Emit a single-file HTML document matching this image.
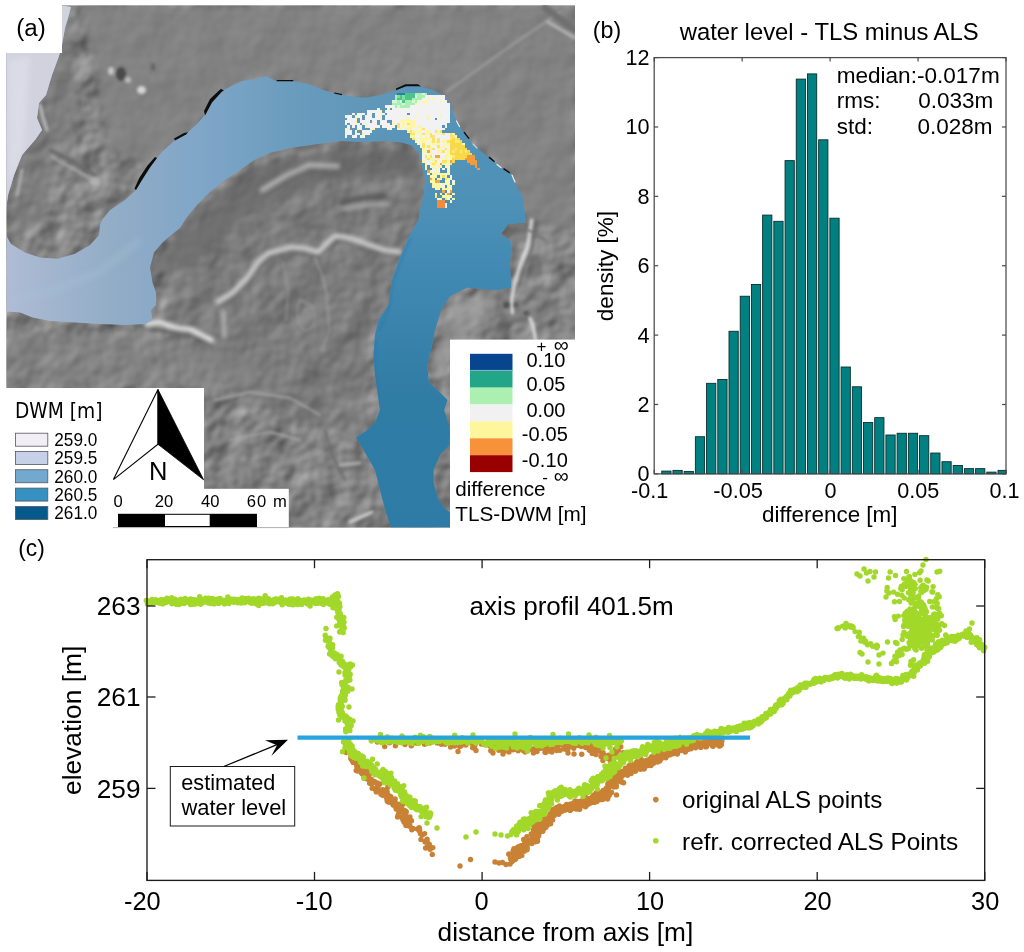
<!DOCTYPE html>
<html lang="en">
<head>
<meta charset="utf-8">
<title>Water level comparison - TLS vs ALS</title>
<style>
html,body{margin:0;padding:0;background:#fff;}
body{width:1024px;height:952px;overflow:hidden;position:relative;font-family:"Liberation Sans",sans-serif;}
svg{position:absolute;left:0;top:0;display:block;}
text{font-family:"Liberation Sans",sans-serif;fill:#000;}
.dv{font-family:"DejaVu Sans Condensed","DejaVu Sans","Liberation Sans",sans-serif;}
</style>
</head>
<body>
<svg width="1024" height="952" viewBox="0 0 1024 952">
<rect x="0" y="0" width="1024" height="952" fill="#ffffff"/>
<g id="panel-a">
<defs>
<clipPath id="mapclip"><rect x="6.5" y="5.5" width="568.5" height="522.0"/></clipPath>
<clipPath id="waterclip"><polygon points="71,7 68,18 65,28 62,45 59,56 52,75 46,95 39,103 37,118 42,130 35,140 22,155 14,175 8,195 6.5,206 6.5,236 11,244 25,252.5 40,257.5 57.5,258.8 75,253.8 90,245 99,235 100,225 102,220 110,210 125,200 136,190 142,180 150,167 162,152 175,140 186,134 197,124 205,115 212,102 222,91 235,84 242,81 256,79 266,76 276,81 293.5,81 308.5,84 321,89 336,94 356,97 366,97.5 381,95 396,90 406,86 418.5,86 431,89.5 442,94.5 448.5,100 452,110 456,120 463.5,132.5 473.5,145 488.5,157.5 501,167.5 512,175 515.5,185 522,195 524,207.5 526,222.5 508,224 504,230 500,235 510,240 511,245 510,265 511,287.5 497.5,290 482.5,289 467.5,287.5 450,296 441,310 435,330 431,350 427,365 429,382.5 442.5,395 447.5,400 444,410 449,425 450,432.5 449.5,445 440,455 433.5,470 433.5,482.5 437.5,497.5 443.5,507.5 450,512.5 450,527.5 391,527.5 386,512.5 380,490 375,470 365,452.5 356,437.5 366,431 375,422.5 380,410 377.5,392.5 375,375 373.5,355 375,335 378.5,320 388.5,305 392,280 400,257.5 408.5,237.5 418.5,220 422,200 424,195 425,180 422,165 418.5,152.5 411,145 401,142.5 386,141 361,142 341,141 318.5,144 293.5,147.5 271,152.5 256,159 240,170 225,180 210,192 197,205 187,217 180,228 172.5,234 162.5,242.5 154,252.5 150,267.5 152.5,282.5 156,292.5 156,305 151,310 152.5,320 145,324 125,325 100,324 75,322.5 50,321 32.5,317.5 20,312.5 0,311 0,236 6.5,236 6.5,206 0,206 0,53 62,53 62,5.5"/></clipPath>
<linearGradient id="gw" gradientUnits="userSpaceOnUse" x1="6.5" y1="0" x2="526" y2="0">
<stop offset="0" stop-color="#afbcd4"/><stop offset="0.103" stop-color="#a0b4cd"/><stop offset="0.218" stop-color="#91acc6"/>
<stop offset="0.372" stop-color="#80a6c8"/><stop offset="0.565" stop-color="#689bbc"/><stop offset="0.757" stop-color="#5c96b9"/>
<stop offset="0.93" stop-color="#5092b7"/><stop offset="1" stop-color="#4e90b6"/>
</linearGradient>
<linearGradient id="gv" gradientUnits="userSpaceOnUse" x1="0" y1="120" x2="0" y2="527.5">
<stop offset="0" stop-color="#5092b7" stop-opacity="0"/><stop offset="0.17" stop-color="#5092b7" stop-opacity="1"/>
<stop offset="0.34" stop-color="#438bb4"/><stop offset="0.515" stop-color="#3983ac"/><stop offset="0.687" stop-color="#2f7ca5"/><stop offset="1" stop-color="#2e7ba5"/>
</linearGradient>
<filter id="hs" x="0" y="0" width="100%" height="100%" color-interpolation-filters="sRGB">
<feTurbulence type="fractalNoise" baseFrequency="0.032" numOctaves="3" seed="11" result="n"/>
<feGaussianBlur in="n" stdDeviation="1.5" result="nb"/>
<feDiffuseLighting in="nb" surfaceScale="2.1" diffuseConstant="1.3" lighting-color="#c8c8c8" result="l"><feDistantLight azimuth="225" elevation="30"/></feDiffuseLighting>
<feColorMatrix in="l" type="matrix" values="0.3333 0.3333 0.3333 0 0  0.3333 0.3333 0.3333 0 0  0.3333 0.3333 0.3333 0 0  0 0 0 1 0"/>
</filter>
<filter id="b2"><feGaussianBlur stdDeviation="1.6"/></filter>
<filter id="b4"><feGaussianBlur stdDeviation="3.5"/></filter>
<filter id="b3"><feGaussianBlur stdDeviation="2.3"/></filter>
<filter id="b1"><feGaussianBlur stdDeviation="0.9"/></filter>
</defs>
<g clip-path="url(#mapclip)">
<rect x="6.5" y="5.5" width="568.5" height="522.0" fill="#828282"/>
<rect x="-10" y="-10" width="610" height="560" filter="url(#hs)" opacity="1"/>
<polygon points="80,5.5 575,5.5 575,230 526,222 512,175 456,120 442,94 406,86 366,97 276,81 256,79 222,91 197,124 150,167 110,150 95,60" fill="#838383" opacity="0.8" filter="url(#b4)"/>
<g fill="none" stroke-linecap="round" stroke-linejoin="round">
<g filter="url(#b4)" stroke="none">
<path d="M156,262 L196,207 L256,166 L340,146 L416,150 L421,172 L330,180 L250,210 L188,270 Z" fill="#646464" opacity="0.7"/><path d="M170,330 L160,260 L260,180 L400,170 L400,260 L370,330 L360,440 L250,400 Z" fill="#737373" opacity="0.45"/>
<path d="M405,160 L424,170 L424,200 L410,235 L400,230 Z" fill="#6a6a6a" opacity="0.5"/>
<path d="M20,60 L70,20 L80,120 L40,220 L12,235 Z" fill="#7a7a7a" opacity="0.5"/>
<path d="M455,300 L500,295 L470,330 L440,380 L432,360 Z" fill="#a4a4a4" opacity="0.6"/>
<path d="M6,330 L150,335 L260,360 L250,385 L6,385 Z" fill="#848484" opacity="0.5"/>
</g>
<g filter="url(#b2)">
</g><g filter="url(#b3)">
<path d="M219.5,305 L234,296 L249,281 L260,265 L270,256.5 L292,250.5 L318,255.5 L329,246 L337,239 L357,243.5 L386,253.5 L401,255.5" stroke="#5c5c5c" stroke-width="4.5" opacity="0.75"/>
<path d="M217.6,302 L232,293 L247,278 L258,262 L268,253 L291,247 L305,248 L318,252 L327,243 L335,235.6 L345,237 L356,240 L370,245 L385,250 L400,252" stroke="#d2d2d2" stroke-width="4.6"/>
<path d="M148,329 L170,331 L190,334 L212,345" stroke="#555555" stroke-width="4" opacity="0.7"/>
<path d="M146,324 L160,322 L170,326 L179,328 L190,329 L200,334 L212,340" stroke="#f0f0f0" stroke-width="4.2"/>
<path d="M223.5,312 L224,336" stroke="#c4c4c4" stroke-width="4" opacity="0.8"/>
<path d="M262,190 L285,176 L309,165 L338,166" stroke="#b6b6b6" stroke-width="4.5"/>
<path d="M264,196 L287,182 L310,171 L338,172" stroke="#646464" stroke-width="3.5" opacity="0.7"/>
<path d="M341,203 L362,198 L385,196" stroke="#585858" stroke-width="4.5"/>
<path d="M343,209 L365,205 L388,204" stroke="#b4b4b4" stroke-width="3"/>
</g><g filter="url(#b2)">
<path d="M314.7,257.6 L322,275 L326.5,293 L329.4,331 L322,350" stroke="#9c9c9c" stroke-width="1.8" opacity="0.8"/>
<path d="M283,262 L288,290 L286,320" stroke="#969696" stroke-width="1.6" opacity="0.8"/>
<path d="M300,300 C296,310 296,322 304,330 C314,332 318,318 312,306 Z" stroke="#9a9a9a" stroke-width="1.5" opacity="0.8"/>
<path d="M531.6,220 L527.6,246.5 L519.7,266.5 L514.4,283.7 L511.7,299.7 L512.4,313" stroke="#e0e0e0" stroke-width="3"/>
<path d="M530,318 L533,326 L535.6,340" stroke="#e0e0e0" stroke-width="3"/>
<path d="M536,222 L532,248 L524,268 L519,285" stroke="#666666" stroke-width="2.5" opacity="0.8"/>
<path d="M50,150 L70,160 L95,175" stroke="#6a6a6a" stroke-width="3.2"/>
<path d="M52,157 L70,167 L98,183" stroke="#a8a8a8" stroke-width="2.5"/>
<path d="M40,105 L43,118 L47,130" stroke="#bdbdbd" stroke-width="3"/>
<path d="M22,170 L17,195" stroke="#b0b0b0" stroke-width="3"/>
<path d="M446,92 L512,45 L560,12" stroke="#a0a0a0" stroke-width="2"/>
<path d="M449,96 L515,49" stroke="#808080" stroke-width="1.8"/>
<path d="M545,8 L575,30" stroke="#6f6f6f" stroke-width="7"/>
<path d="M548,22 L575,38" stroke="#b8b8b8" stroke-width="3"/>
<path d="M325,430 L332,455 L345,480" stroke="#6c6c6c" stroke-width="2.4"/>
<path d="M350,522 L372,512" stroke="#d5d5d5" stroke-width="3"/>
<path d="M340,465 L360,463" stroke="#b8b8b8" stroke-width="2.4"/>
<path d="M500,205 L520,225 L545,240" stroke="#767676" stroke-width="3"/>
<path d="M215,400 L250,392 L290,398 L320,415" stroke="#a8a8a8" stroke-width="2"/>
<path d="M230,440 L270,432 L300,440" stroke="#a5a5a5" stroke-width="2"/>
</g>
<g filter="url(#b2)" stroke="none">
<ellipse cx="121" cy="74" rx="5" ry="7" fill="#4a4a4a"/><ellipse cx="111" cy="71" rx="3" ry="4" fill="#c8c8c8"/>
<ellipse cx="141.5" cy="90" rx="4.5" ry="4" fill="#d6d6d6"/><ellipse cx="128" cy="80" rx="3" ry="3" fill="#bdbdbd"/>
<ellipse cx="153" cy="67" rx="2.5" ry="4" fill="#666"/><ellipse cx="506.4" cy="305" rx="3.5" ry="3.5" fill="#505050"/><ellipse cx="516" cy="305" rx="2.5" ry="3" fill="#5a5a5a"/><ellipse cx="526.3" cy="313" rx="3" ry="2.5" fill="#555"/><ellipse cx="503.7" cy="232" rx="3" ry="3" fill="#5c5c5c"/>
<ellipse cx="95" cy="182" rx="5" ry="4" fill="#b0b0b0"/>
</g></g>
<g clip-path="url(#waterclip)">
<rect x="0" y="0" width="600" height="540" fill="url(#gw)"/>
<rect x="345" y="120" width="230" height="410" fill="url(#gv)"/>
<rect x="0" y="0" width="80" height="215" fill="#d2d2de"/>
<path d="M8,60 L30,56 L24,150 L9,190 Z" fill="#dedeea" opacity="0.8" filter="url(#b4)"/>
<path d="M7,300 L50,292 L100,272 L140,240" stroke="#a9c3dc" stroke-width="5" fill="none" opacity="0.5" filter="url(#b4)"/>
<path d="M380,330 L388,310 L393,282 L402,258 L411,238" stroke="#2d78a8" stroke-width="1.6" fill="none" opacity="0.6" filter="url(#b1)"/>
<path d="M376,340 L375,375 L379,410" stroke="#2a75a6" stroke-width="1.6" fill="none" opacity="0.6" filter="url(#b1)"/>
</g>
<g fill="#0d0d0d" stroke="none">
<polygon points="205,115.5 212,102.5 222,91.5 224,90.8 221,88.8 210,99 204,111"/>
<polygon points="175,140.5 186,134.5 188,132.3 184,133 174,138.6"/>
<polygon points="136,190 142,180 150,167.5 157,158 155,157 147.5,165.5 139.5,177.5 134.5,188.5"/>
<polygon points="276.5,81.3 293.5,81.3 293,79.9 277,80"/>
<polygon points="334,93.6 342,95.2 342,94 334.5,92.4"/>
<polygon points="396,90.2 406,86.2 418.5,86.2 421,86.6 418,84.3 405.5,84.2 396,88.4"/>
<polygon points="463.5,132.8 468.5,139 469.6,138.2 464.6,131.8"/>
<polygon points="488.5,157.8 494,162.3 495,161.2 489.5,156.6"/>
<polygon points="503,169.2 509.5,173.6 510.2,172.4 504,168"/>
</g>
<g fill="none" stroke="#eeeeee" stroke-width="1.2" stroke-linecap="round"><path d="M456.5,121 L459.5,126.5"/><path d="M497,164.5 L501,167.5"/><path d="M512,175 L515,182"/><path d="M473,144 L477,148" stroke="#d0d0d0"/></g>
<g fill="#1f86a0" shape-rendering="crispEdges"><rect x="397.0" y="92.5" width="7.5" height="2.5"/></g>
<g fill="#4ec48c" shape-rendering="crispEdges"><rect x="404.5" y="92.5" width="10.0" height="2.5"/><rect x="399.5" y="95.0" width="2.5" height="2.5"/><rect x="404.5" y="95.0" width="10.0" height="2.5"/><rect x="397.0" y="97.5" width="5.0" height="2.5"/><rect x="404.5" y="97.5" width="7.5" height="2.5"/><rect x="402.0" y="100.0" width="2.5" height="2.5"/></g>
<g fill="#a8efb2" shape-rendering="crispEdges"><rect x="414.5" y="92.5" width="7.5" height="2.5"/><rect x="424.5" y="92.5" width="2.5" height="2.5"/><rect x="394.5" y="95.0" width="2.5" height="2.5"/><rect x="417.0" y="95.0" width="7.5" height="2.5"/><rect x="394.5" y="97.5" width="2.5" height="2.5"/><rect x="412.0" y="97.5" width="10.0" height="2.5"/><rect x="397.0" y="100.0" width="2.5" height="2.5"/><rect x="404.5" y="100.0" width="7.5" height="2.5"/><rect x="414.5" y="100.0" width="2.5" height="2.5"/><rect x="392.0" y="102.5" width="10.0" height="2.5"/><rect x="404.5" y="102.5" width="10.0" height="2.5"/><rect x="394.5" y="105.0" width="2.5" height="2.5"/><rect x="399.5" y="105.0" width="10.0" height="2.5"/></g>
<g fill="#d6f6d8" shape-rendering="crispEdges"><rect x="422.0" y="92.5" width="2.5" height="2.5"/><rect x="414.5" y="95.0" width="2.5" height="2.5"/><rect x="392.0" y="100.0" width="5.0" height="2.5"/><rect x="399.5" y="100.0" width="2.5" height="2.5"/><rect x="412.0" y="100.0" width="2.5" height="2.5"/><rect x="402.0" y="102.5" width="2.5" height="2.5"/><rect x="397.0" y="105.0" width="2.5" height="2.5"/></g>
<g fill="#7fdc9c" shape-rendering="crispEdges"><rect x="397.0" y="95.0" width="2.5" height="2.5"/><rect x="402.0" y="95.0" width="2.5" height="2.5"/><rect x="402.0" y="97.5" width="2.5" height="2.5"/></g>
<g fill="#f2f2f2" shape-rendering="crispEdges"><rect x="424.5" y="95.0" width="20.0" height="2.5"/><rect x="422.0" y="97.5" width="5.0" height="2.5"/><rect x="429.5" y="97.5" width="2.5" height="2.5"/><rect x="434.5" y="97.5" width="10.0" height="2.5"/><rect x="417.0" y="100.0" width="5.0" height="2.5"/><rect x="427.0" y="100.0" width="12.5" height="2.5"/><rect x="442.0" y="100.0" width="5.0" height="2.5"/><rect x="417.0" y="102.5" width="32.5" height="2.5"/><rect x="384.5" y="105.0" width="10.0" height="2.5"/><rect x="409.5" y="105.0" width="40.0" height="2.5"/><rect x="377.0" y="107.5" width="2.5" height="2.5"/><rect x="392.0" y="107.5" width="57.5" height="2.5"/><rect x="367.0" y="110.0" width="12.5" height="2.5"/><rect x="384.5" y="110.0" width="65.0" height="2.5"/><rect x="352.0" y="112.5" width="2.5" height="2.5"/><rect x="357.0" y="112.5" width="7.5" height="2.5"/><rect x="367.0" y="112.5" width="5.0" height="2.5"/><rect x="374.5" y="112.5" width="10.0" height="2.5"/><rect x="387.0" y="112.5" width="20.0" height="2.5"/><rect x="409.5" y="112.5" width="40.0" height="2.5"/><rect x="344.5" y="115.0" width="7.5" height="2.5"/><rect x="357.0" y="115.0" width="5.0" height="2.5"/><rect x="364.5" y="115.0" width="7.5" height="2.5"/><rect x="374.5" y="115.0" width="5.0" height="2.5"/><rect x="384.5" y="115.0" width="30.0" height="2.5"/><rect x="417.0" y="115.0" width="10.0" height="2.5"/><rect x="429.5" y="115.0" width="10.0" height="2.5"/><rect x="442.0" y="115.0" width="7.5" height="2.5"/><rect x="347.0" y="117.5" width="10.0" height="2.5"/><rect x="359.5" y="117.5" width="2.5" height="2.5"/><rect x="364.5" y="117.5" width="17.5" height="2.5"/><rect x="384.5" y="117.5" width="20.0" height="2.5"/><rect x="409.5" y="117.5" width="17.5" height="2.5"/><rect x="429.5" y="117.5" width="5.0" height="2.5"/><rect x="437.0" y="117.5" width="12.5" height="2.5"/><rect x="344.5" y="120.0" width="10.0" height="2.5"/><rect x="359.5" y="120.0" width="10.0" height="2.5"/><rect x="372.0" y="120.0" width="5.0" height="2.5"/><rect x="379.5" y="120.0" width="7.5" height="2.5"/><rect x="392.0" y="120.0" width="7.5" height="2.5"/><rect x="414.5" y="120.0" width="35.0" height="2.5"/><rect x="344.5" y="122.5" width="2.5" height="2.5"/><rect x="349.5" y="122.5" width="10.0" height="2.5"/><rect x="362.0" y="122.5" width="2.5" height="2.5"/><rect x="367.0" y="122.5" width="10.0" height="2.5"/><rect x="379.5" y="122.5" width="10.0" height="2.5"/><rect x="394.5" y="122.5" width="2.5" height="2.5"/><rect x="399.5" y="122.5" width="2.5" height="2.5"/><rect x="404.5" y="122.5" width="2.5" height="2.5"/><rect x="414.5" y="122.5" width="32.5" height="2.5"/><rect x="347.0" y="125.0" width="2.5" height="2.5"/><rect x="352.0" y="125.0" width="2.5" height="2.5"/><rect x="357.0" y="125.0" width="5.0" height="2.5"/><rect x="364.5" y="125.0" width="15.0" height="2.5"/><rect x="382.0" y="125.0" width="12.5" height="2.5"/><rect x="399.5" y="125.0" width="2.5" height="2.5"/><rect x="404.5" y="125.0" width="2.5" height="2.5"/><rect x="414.5" y="125.0" width="2.5" height="2.5"/><rect x="422.0" y="125.0" width="20.0" height="2.5"/><rect x="444.5" y="125.0" width="2.5" height="2.5"/><rect x="344.5" y="127.5" width="2.5" height="2.5"/><rect x="359.5" y="127.5" width="2.5" height="2.5"/><rect x="369.5" y="127.5" width="2.5" height="2.5"/><rect x="389.5" y="127.5" width="2.5" height="2.5"/><rect x="402.0" y="127.5" width="2.5" height="2.5"/><rect x="412.0" y="127.5" width="7.5" height="2.5"/><rect x="424.5" y="127.5" width="20.0" height="2.5"/><rect x="344.5" y="130.0" width="7.5" height="2.5"/><rect x="362.0" y="130.0" width="10.0" height="2.5"/><rect x="422.0" y="130.0" width="2.5" height="2.5"/><rect x="429.5" y="130.0" width="5.0" height="2.5"/><rect x="344.5" y="132.5" width="7.5" height="2.5"/><rect x="354.5" y="132.5" width="5.0" height="2.5"/><rect x="364.5" y="132.5" width="5.0" height="2.5"/><rect x="414.5" y="132.5" width="2.5" height="2.5"/><rect x="419.5" y="132.5" width="2.5" height="2.5"/><rect x="432.0" y="132.5" width="5.0" height="2.5"/><rect x="439.5" y="132.5" width="2.5" height="2.5"/><rect x="444.5" y="132.5" width="5.0" height="2.5"/><rect x="344.5" y="135.0" width="2.5" height="2.5"/><rect x="352.0" y="135.0" width="5.0" height="2.5"/><rect x="359.5" y="135.0" width="5.0" height="2.5"/><rect x="414.5" y="135.0" width="5.0" height="2.5"/><rect x="422.0" y="135.0" width="2.5" height="2.5"/><rect x="427.0" y="135.0" width="2.5" height="2.5"/><rect x="434.5" y="135.0" width="15.0" height="2.5"/><rect x="417.0" y="137.5" width="2.5" height="2.5"/><rect x="429.5" y="137.5" width="2.5" height="2.5"/><rect x="434.5" y="137.5" width="2.5" height="2.5"/><rect x="439.5" y="137.5" width="10.0" height="2.5"/><rect x="417.0" y="140.0" width="2.5" height="2.5"/><rect x="427.0" y="140.0" width="2.5" height="2.5"/><rect x="439.5" y="140.0" width="2.5" height="2.5"/><rect x="419.5" y="142.5" width="2.5" height="2.5"/><rect x="424.5" y="142.5" width="7.5" height="2.5"/><rect x="439.5" y="142.5" width="5.0" height="2.5"/><rect x="419.5" y="145.0" width="2.5" height="2.5"/><rect x="432.0" y="145.0" width="5.0" height="2.5"/><rect x="439.5" y="145.0" width="2.5" height="2.5"/><rect x="444.5" y="145.0" width="5.0" height="2.5"/><rect x="424.5" y="147.5" width="2.5" height="2.5"/><rect x="434.5" y="147.5" width="2.5" height="2.5"/><rect x="442.0" y="147.5" width="2.5" height="2.5"/><rect x="447.0" y="147.5" width="2.5" height="2.5"/><rect x="432.0" y="150.0" width="5.0" height="2.5"/><rect x="444.5" y="150.0" width="2.5" height="2.5"/><rect x="422.0" y="152.5" width="7.5" height="2.5"/><rect x="432.0" y="152.5" width="12.5" height="2.5"/><rect x="422.0" y="155.0" width="2.5" height="2.5"/><rect x="432.0" y="155.0" width="2.5" height="2.5"/><rect x="439.5" y="155.0" width="5.0" height="2.5"/><rect x="422.0" y="157.5" width="2.5" height="2.5"/><rect x="434.5" y="157.5" width="2.5" height="2.5"/><rect x="439.5" y="157.5" width="2.5" height="2.5"/><rect x="447.0" y="157.5" width="2.5" height="2.5"/><rect x="424.5" y="160.0" width="7.5" height="2.5"/><rect x="437.0" y="160.0" width="5.0" height="2.5"/><rect x="427.0" y="162.5" width="2.5" height="2.5"/><rect x="437.0" y="162.5" width="2.5" height="2.5"/><rect x="429.5" y="165.0" width="2.5" height="2.5"/><rect x="434.5" y="165.0" width="2.5" height="2.5"/><rect x="447.0" y="165.0" width="2.5" height="2.5"/><rect x="432.0" y="167.5" width="2.5" height="2.5"/><rect x="437.0" y="167.5" width="2.5" height="2.5"/><rect x="442.0" y="167.5" width="2.5" height="2.5"/><rect x="432.0" y="170.0" width="2.5" height="2.5"/><rect x="437.0" y="170.0" width="2.5" height="2.5"/><rect x="444.5" y="172.5" width="2.5" height="2.5"/><rect x="449.5" y="175.0" width="2.5" height="2.5"/><rect x="447.0" y="180.0" width="2.5" height="2.5"/><rect x="452.0" y="180.0" width="2.5" height="2.5"/><rect x="439.5" y="182.5" width="2.5" height="2.5"/><rect x="442.0" y="185.0" width="2.5" height="2.5"/><rect x="447.0" y="190.0" width="2.5" height="2.5"/><rect x="437.0" y="197.5" width="2.5" height="2.5"/><rect x="447.0" y="197.5" width="2.5" height="2.5"/><rect x="444.5" y="202.5" width="2.5" height="2.5"/><rect x="444.5" y="205.0" width="2.5" height="2.5"/></g>
<g fill="#fdf6a4" shape-rendering="crispEdges"><rect x="427.0" y="97.5" width="2.5" height="2.5"/><rect x="432.0" y="97.5" width="2.5" height="2.5"/><rect x="422.0" y="100.0" width="5.0" height="2.5"/><rect x="439.5" y="100.0" width="2.5" height="2.5"/><rect x="414.5" y="102.5" width="2.5" height="2.5"/><rect x="387.0" y="107.5" width="2.5" height="2.5"/><rect x="379.5" y="110.0" width="2.5" height="2.5"/><rect x="354.5" y="115.0" width="2.5" height="2.5"/><rect x="379.5" y="115.0" width="2.5" height="2.5"/><rect x="414.5" y="115.0" width="2.5" height="2.5"/><rect x="427.0" y="115.0" width="2.5" height="2.5"/><rect x="439.5" y="115.0" width="2.5" height="2.5"/><rect x="404.5" y="117.5" width="5.0" height="2.5"/><rect x="427.0" y="117.5" width="2.5" height="2.5"/><rect x="354.5" y="120.0" width="2.5" height="2.5"/><rect x="399.5" y="120.0" width="15.0" height="2.5"/><rect x="364.5" y="122.5" width="2.5" height="2.5"/><rect x="392.0" y="122.5" width="2.5" height="2.5"/><rect x="402.0" y="122.5" width="2.5" height="2.5"/><rect x="409.5" y="122.5" width="5.0" height="2.5"/><rect x="402.0" y="125.0" width="2.5" height="2.5"/><rect x="407.0" y="125.0" width="7.5" height="2.5"/><rect x="417.0" y="125.0" width="5.0" height="2.5"/><rect x="347.0" y="127.5" width="2.5" height="2.5"/><rect x="357.0" y="127.5" width="2.5" height="2.5"/><rect x="372.0" y="127.5" width="2.5" height="2.5"/><rect x="387.0" y="127.5" width="2.5" height="2.5"/><rect x="397.0" y="127.5" width="5.0" height="2.5"/><rect x="404.5" y="127.5" width="7.5" height="2.5"/><rect x="419.5" y="127.5" width="2.5" height="2.5"/><rect x="354.5" y="130.0" width="2.5" height="2.5"/><rect x="407.0" y="130.0" width="2.5" height="2.5"/><rect x="412.0" y="130.0" width="10.0" height="2.5"/><rect x="424.5" y="130.0" width="5.0" height="2.5"/><rect x="437.0" y="130.0" width="2.5" height="2.5"/><rect x="362.0" y="132.5" width="2.5" height="2.5"/><rect x="417.0" y="132.5" width="2.5" height="2.5"/><rect x="424.5" y="132.5" width="5.0" height="2.5"/><rect x="437.0" y="132.5" width="2.5" height="2.5"/><rect x="452.0" y="132.5" width="2.5" height="2.5"/><rect x="409.5" y="135.0" width="5.0" height="2.5"/><rect x="419.5" y="135.0" width="2.5" height="2.5"/><rect x="424.5" y="135.0" width="2.5" height="2.5"/><rect x="454.5" y="135.0" width="2.5" height="2.5"/><rect x="414.5" y="137.5" width="2.5" height="2.5"/><rect x="419.5" y="137.5" width="10.0" height="2.5"/><rect x="414.5" y="140.0" width="2.5" height="2.5"/><rect x="419.5" y="140.0" width="7.5" height="2.5"/><rect x="429.5" y="140.0" width="2.5" height="2.5"/><rect x="434.5" y="140.0" width="2.5" height="2.5"/><rect x="442.0" y="140.0" width="5.0" height="2.5"/><rect x="417.0" y="142.5" width="2.5" height="2.5"/><rect x="432.0" y="142.5" width="7.5" height="2.5"/><rect x="444.5" y="142.5" width="5.0" height="2.5"/><rect x="462.0" y="142.5" width="2.5" height="2.5"/><rect x="424.5" y="145.0" width="2.5" height="2.5"/><rect x="429.5" y="145.0" width="2.5" height="2.5"/><rect x="442.0" y="145.0" width="2.5" height="2.5"/><rect x="422.0" y="147.5" width="2.5" height="2.5"/><rect x="427.0" y="147.5" width="5.0" height="2.5"/><rect x="437.0" y="147.5" width="5.0" height="2.5"/><rect x="422.0" y="150.0" width="5.0" height="2.5"/><rect x="429.5" y="150.0" width="2.5" height="2.5"/><rect x="437.0" y="150.0" width="5.0" height="2.5"/><rect x="447.0" y="150.0" width="2.5" height="2.5"/><rect x="429.5" y="152.5" width="2.5" height="2.5"/><rect x="444.5" y="152.5" width="5.0" height="2.5"/><rect x="427.0" y="155.0" width="2.5" height="2.5"/><rect x="444.5" y="155.0" width="7.5" height="2.5"/><rect x="424.5" y="157.5" width="2.5" height="2.5"/><rect x="429.5" y="157.5" width="5.0" height="2.5"/><rect x="437.0" y="157.5" width="2.5" height="2.5"/><rect x="442.0" y="157.5" width="5.0" height="2.5"/><rect x="449.5" y="157.5" width="2.5" height="2.5"/><rect x="422.0" y="160.0" width="2.5" height="2.5"/><rect x="432.0" y="160.0" width="2.5" height="2.5"/><rect x="447.0" y="160.0" width="2.5" height="2.5"/><rect x="424.5" y="162.5" width="2.5" height="2.5"/><rect x="429.5" y="162.5" width="2.5" height="2.5"/><rect x="434.5" y="162.5" width="2.5" height="2.5"/><rect x="442.0" y="162.5" width="7.5" height="2.5"/><rect x="424.5" y="165.0" width="2.5" height="2.5"/><rect x="432.0" y="165.0" width="2.5" height="2.5"/><rect x="437.0" y="165.0" width="5.0" height="2.5"/><rect x="444.5" y="165.0" width="2.5" height="2.5"/><rect x="424.5" y="167.5" width="2.5" height="2.5"/><rect x="434.5" y="167.5" width="2.5" height="2.5"/><rect x="447.0" y="167.5" width="2.5" height="2.5"/><rect x="429.5" y="170.0" width="2.5" height="2.5"/><rect x="434.5" y="170.0" width="2.5" height="2.5"/><rect x="447.0" y="170.0" width="2.5" height="2.5"/><rect x="427.0" y="172.5" width="2.5" height="2.5"/><rect x="432.0" y="172.5" width="12.5" height="2.5"/><rect x="447.0" y="172.5" width="2.5" height="2.5"/><rect x="429.5" y="175.0" width="7.5" height="2.5"/><rect x="439.5" y="175.0" width="2.5" height="2.5"/><rect x="444.5" y="175.0" width="2.5" height="2.5"/><rect x="432.0" y="177.5" width="2.5" height="2.5"/><rect x="437.0" y="177.5" width="5.0" height="2.5"/><rect x="447.0" y="177.5" width="5.0" height="2.5"/><rect x="429.5" y="180.0" width="5.0" height="2.5"/><rect x="444.5" y="180.0" width="2.5" height="2.5"/><rect x="432.0" y="182.5" width="7.5" height="2.5"/><rect x="442.0" y="182.5" width="7.5" height="2.5"/><rect x="452.0" y="182.5" width="2.5" height="2.5"/><rect x="432.0" y="185.0" width="10.0" height="2.5"/><rect x="447.0" y="185.0" width="5.0" height="2.5"/><rect x="434.5" y="187.5" width="5.0" height="2.5"/><rect x="442.0" y="187.5" width="10.0" height="2.5"/><rect x="434.5" y="192.5" width="2.5" height="2.5"/><rect x="439.5" y="192.5" width="2.5" height="2.5"/><rect x="444.5" y="192.5" width="2.5" height="2.5"/><rect x="452.0" y="192.5" width="2.5" height="2.5"/><rect x="442.0" y="195.0" width="10.0" height="2.5"/><rect x="439.5" y="197.5" width="2.5" height="2.5"/><rect x="452.0" y="197.5" width="2.5" height="2.5"/><rect x="449.5" y="200.0" width="2.5" height="2.5"/></g>
<g fill="#fbe36a" shape-rendering="crispEdges"><rect x="397.0" y="122.5" width="2.5" height="2.5"/><rect x="407.0" y="122.5" width="2.5" height="2.5"/><rect x="397.0" y="125.0" width="2.5" height="2.5"/><rect x="422.0" y="127.5" width="2.5" height="2.5"/><rect x="409.5" y="130.0" width="2.5" height="2.5"/><rect x="434.5" y="130.0" width="2.5" height="2.5"/><rect x="439.5" y="130.0" width="2.5" height="2.5"/><rect x="409.5" y="132.5" width="5.0" height="2.5"/><rect x="422.0" y="132.5" width="2.5" height="2.5"/><rect x="429.5" y="132.5" width="2.5" height="2.5"/><rect x="442.0" y="132.5" width="2.5" height="2.5"/><rect x="449.5" y="132.5" width="2.5" height="2.5"/><rect x="429.5" y="135.0" width="5.0" height="2.5"/><rect x="449.5" y="135.0" width="2.5" height="2.5"/><rect x="412.0" y="137.5" width="2.5" height="2.5"/><rect x="432.0" y="137.5" width="2.5" height="2.5"/><rect x="437.0" y="137.5" width="2.5" height="2.5"/><rect x="432.0" y="140.0" width="2.5" height="2.5"/><rect x="437.0" y="140.0" width="2.5" height="2.5"/><rect x="447.0" y="140.0" width="2.5" height="2.5"/><rect x="422.0" y="142.5" width="2.5" height="2.5"/><rect x="422.0" y="145.0" width="2.5" height="2.5"/><rect x="427.0" y="145.0" width="2.5" height="2.5"/><rect x="437.0" y="145.0" width="2.5" height="2.5"/><rect x="432.0" y="147.5" width="2.5" height="2.5"/><rect x="444.5" y="147.5" width="2.5" height="2.5"/><rect x="442.0" y="150.0" width="2.5" height="2.5"/><rect x="424.5" y="155.0" width="2.5" height="2.5"/><rect x="429.5" y="155.0" width="2.5" height="2.5"/><rect x="427.0" y="157.5" width="2.5" height="2.5"/><rect x="434.5" y="160.0" width="2.5" height="2.5"/><rect x="442.0" y="160.0" width="5.0" height="2.5"/><rect x="432.0" y="162.5" width="2.5" height="2.5"/><rect x="449.5" y="162.5" width="2.5" height="2.5"/><rect x="442.0" y="175.0" width="2.5" height="2.5"/><rect x="444.5" y="177.5" width="2.5" height="2.5"/><rect x="434.5" y="195.0" width="2.5" height="2.5"/><rect x="444.5" y="197.5" width="2.5" height="2.5"/></g>
<g fill="#fbe878" shape-rendering="crispEdges"><rect x="452.0" y="135.0" width="2.5" height="2.5"/><rect x="449.5" y="137.5" width="2.5" height="2.5"/><rect x="454.5" y="137.5" width="2.5" height="2.5"/><rect x="454.5" y="140.0" width="5.0" height="2.5"/><rect x="454.5" y="147.5" width="2.5" height="2.5"/><rect x="452.0" y="150.0" width="2.5" height="2.5"/><rect x="459.5" y="150.0" width="2.5" height="2.5"/><rect x="464.5" y="150.0" width="2.5" height="2.5"/><rect x="452.0" y="155.0" width="2.5" height="2.5"/></g>
<g fill="#f9d84a" shape-rendering="crispEdges"><rect x="452.0" y="137.5" width="2.5" height="2.5"/><rect x="457.0" y="137.5" width="2.5" height="2.5"/><rect x="449.5" y="140.0" width="5.0" height="2.5"/><rect x="459.5" y="140.0" width="2.5" height="2.5"/><rect x="449.5" y="142.5" width="12.5" height="2.5"/><rect x="449.5" y="145.0" width="15.0" height="2.5"/><rect x="449.5" y="147.5" width="5.0" height="2.5"/><rect x="457.0" y="147.5" width="10.0" height="2.5"/><rect x="449.5" y="150.0" width="2.5" height="2.5"/><rect x="454.5" y="150.0" width="5.0" height="2.5"/><rect x="462.0" y="150.0" width="2.5" height="2.5"/><rect x="467.0" y="150.0" width="2.5" height="2.5"/><rect x="449.5" y="152.5" width="22.5" height="2.5"/><rect x="454.5" y="155.0" width="12.5" height="2.5"/><rect x="452.0" y="157.5" width="12.5" height="2.5"/><rect x="452.0" y="160.0" width="2.5" height="2.5"/></g>
<g fill="#f6a545" shape-rendering="crispEdges"><rect x="427.0" y="150.0" width="2.5" height="2.5"/><rect x="434.5" y="155.0" width="5.0" height="2.5"/><rect x="449.5" y="160.0" width="2.5" height="2.5"/><rect x="439.5" y="162.5" width="2.5" height="2.5"/><rect x="427.0" y="170.0" width="2.5" height="2.5"/><rect x="429.5" y="177.5" width="2.5" height="2.5"/><rect x="434.5" y="180.0" width="5.0" height="2.5"/><rect x="442.0" y="190.0" width="2.5" height="2.5"/><rect x="449.5" y="190.0" width="2.5" height="2.5"/><rect x="447.0" y="192.5" width="2.5" height="2.5"/></g>
<g fill="#f59a3a" shape-rendering="crispEdges"><rect x="467.0" y="155.0" width="7.5" height="2.5"/><rect x="464.5" y="157.5" width="10.0" height="2.5"/><rect x="467.0" y="160.0" width="10.0" height="2.5"/><rect x="469.5" y="162.5" width="7.5" height="2.5"/><rect x="474.5" y="165.0" width="2.5" height="2.5"/><rect x="477.0" y="167.5" width="2.5" height="2.5"/></g>
<g fill="#f68b3a" shape-rendering="crispEdges"><rect x="437.0" y="200.0" width="7.5" height="2.5"/><rect x="437.0" y="202.5" width="7.5" height="2.5"/><rect x="437.0" y="205.0" width="7.5" height="2.5"/></g>
</g>
<rect x="0" y="0" width="62" height="53" fill="#fff"/>
<text x="16.3" y="36.3" font-size="23.5" textLength="29.5" lengthAdjust="spacingAndGlyphs">(a)</text>
<rect x="0" y="388" width="204" height="145" fill="#fff"/>
<rect x="113" y="488.8" width="175.8" height="44" fill="#fff"/>
<line x1="113" y1="527.6" x2="288.8" y2="527.6" stroke="#9a9a9a" stroke-width="0.8"/>
<text x="15" y="417.5" font-size="21" textLength="87.5" lengthAdjust="spacingAndGlyphs" class="dv">DWM [m]</text>
<rect x="15.4" y="433.2" width="32.4" height="13" fill="#f1eef6" stroke="#55555f" stroke-width="0.8"/>
<text x="54.3" y="446.0" font-size="17.6" textLength="43" lengthAdjust="spacingAndGlyphs">259.0</text>
<rect x="15.4" y="451.55" width="32.4" height="13" fill="#c6d0e6" stroke="#55555f" stroke-width="0.8"/>
<text x="54.3" y="464.4" font-size="17.6" textLength="43" lengthAdjust="spacingAndGlyphs">259.5</text>
<rect x="15.4" y="469.75" width="32.4" height="13" fill="#74a9cf" stroke="#55555f" stroke-width="0.8"/>
<text x="54.3" y="482.6" font-size="17.6" textLength="43" lengthAdjust="spacingAndGlyphs">260.0</text>
<rect x="15.4" y="488.1" width="32.4" height="13" fill="#3690c0" stroke="#55555f" stroke-width="0.8"/>
<text x="54.3" y="500.9" font-size="17.6" textLength="43" lengthAdjust="spacingAndGlyphs">260.5</text>
<rect x="15.4" y="506.45" width="32.4" height="13" fill="#045a8d" stroke="#55555f" stroke-width="0.8"/>
<text x="54.3" y="519.2" font-size="17.6" textLength="43" lengthAdjust="spacingAndGlyphs">261.0</text>
<polygon points="158,389.5 113.4,479.6 158,444.3" fill="#fff" stroke="#000" stroke-width="1.1" stroke-linejoin="miter"/>
<polygon points="158,389.5 203.6,479.8 158,444.3" fill="#000" stroke="#000" stroke-width="0.8"/>
<text x="158.2" y="479.6" font-size="25.5" text-anchor="middle">N</text>
<g font-size="16.6" text-anchor="middle"><text x="118.2" y="507.2">0</text><text x="164" y="507.2">20</text><text x="210.2" y="507.2">40</text></g>
<text x="246.8" y="507.2" font-size="16.6" textLength="40" lengthAdjust="spacing">60 m</text>
<rect x="118" y="513.8" width="139" height="13.2" fill="#000"/>
<rect x="165" y="514.8" width="44.7" height="11.2" fill="#fff"/>
<rect x="450" y="339.6" width="140" height="194" fill="#fff"/>
<rect x="470" y="353.8" width="42.5" height="17.0" fill="#08458f"/>
<rect x="470" y="370.7" width="42.5" height="17.0" fill="#22a687"/>
<rect x="470" y="387.6" width="42.5" height="17.0" fill="#abf0b1"/>
<rect x="470" y="404.5" width="42.5" height="17.0" fill="#f1f1f1"/>
<rect x="470" y="421.4" width="42.5" height="17.0" fill="#fdf69c"/>
<rect x="470" y="438.3" width="42.5" height="17.0" fill="#f8923a"/>
<rect x="470" y="455.2" width="42.5" height="16.9" fill="#990000"/>
<line x1="470" y1="370.4" x2="512.5" y2="370.4" stroke="#9fc6d8" stroke-width="0.8"/>
<g font-size="20" text-anchor="end">
<text x="565.4" y="367">0.10</text>
<text x="565.4" y="391.4">0.05</text>
<text x="565.4" y="416.8">0.00</text>
</g>
<g font-size="20">
<text x="521.8" y="441" textLength="46" lengthAdjust="spacing">-0.05</text>
<text x="521.8" y="467" textLength="46" lengthAdjust="spacing">-0.10</text>
</g>
<text x="541.5" y="351.5" font-size="17" text-anchor="middle">+</text><text x="561.3" y="352" font-size="21" text-anchor="middle">∞</text>
<text x="545" y="483" font-size="17" text-anchor="middle">-</text><text x="561.3" y="482.8" font-size="21" text-anchor="middle">∞</text>
<text x="455.3" y="495.6" font-size="20.4" textLength="90.2" lengthAdjust="spacingAndGlyphs">difference</text>
<text x="455.3" y="520.5" font-size="20.4" textLength="131.3" lengthAdjust="spacingAndGlyphs">TLS-DWM [m]</text>
</g>
<g id="panel-b">
<g fill="#008080" stroke="#0a2e2e" stroke-width="0.9">
<rect x="661.75" y="471.08" width="9.25" height="2.77"/>
<rect x="672.96" y="470.38" width="9.25" height="3.47"/>
<rect x="684.17" y="471.42" width="9.25" height="2.43"/>
<rect x="695.37" y="436.73" width="9.25" height="37.12"/>
<rect x="706.58" y="383.32" width="9.25" height="90.53"/>
<rect x="717.79" y="379.50" width="9.25" height="94.35"/>
<rect x="729.00" y="331.28" width="9.25" height="142.57"/>
<rect x="740.21" y="296.25" width="9.25" height="177.60"/>
<rect x="751.41" y="284.46" width="9.25" height="189.39"/>
<rect x="762.62" y="215.08" width="9.25" height="258.77"/>
<rect x="773.83" y="221.33" width="9.25" height="252.53"/>
<rect x="785.04" y="160.62" width="9.25" height="313.23"/>
<rect x="796.25" y="79.11" width="9.25" height="394.74"/>
<rect x="807.45" y="73.90" width="9.25" height="399.95"/>
<rect x="818.66" y="139.81" width="9.25" height="334.04"/>
<rect x="829.87" y="218.20" width="9.25" height="255.65"/>
<rect x="841.08" y="367.01" width="9.25" height="106.84"/>
<rect x="852.29" y="386.78" width="9.25" height="87.07"/>
<rect x="863.49" y="422.51" width="9.25" height="51.34"/>
<rect x="874.70" y="417.66" width="9.25" height="56.19"/>
<rect x="885.91" y="435.00" width="9.25" height="38.85"/>
<rect x="897.12" y="433.27" width="9.25" height="40.58"/>
<rect x="908.33" y="433.27" width="9.25" height="40.58"/>
<rect x="919.53" y="435.69" width="9.25" height="38.16"/>
<rect x="930.74" y="453.04" width="9.25" height="20.81"/>
<rect x="941.95" y="461.71" width="9.25" height="12.14"/>
<rect x="953.16" y="465.53" width="9.25" height="8.32"/>
<rect x="964.37" y="468.65" width="9.25" height="5.20"/>
<rect x="975.57" y="468.65" width="9.25" height="5.20"/>
<rect x="986.78" y="472.12" width="9.25" height="1.73"/>
<rect x="997.99" y="470.38" width="8.01" height="3.47"/>
</g>
<rect x="654.2" y="57.6" width="351.79999999999995" height="416.25" fill="none" stroke="#4a4a4a" stroke-width="1.25"/>
<g stroke="#4a4a4a" stroke-width="1.2">
<line x1="654.2" y1="473.85" x2="658.2" y2="473.85"/><line x1="1006.0" y1="473.85" x2="1002.0" y2="473.85"/>
<line x1="654.2" y1="404.48" x2="658.2" y2="404.48"/><line x1="1006.0" y1="404.48" x2="1002.0" y2="404.48"/>
<line x1="654.2" y1="335.10" x2="658.2" y2="335.10"/><line x1="1006.0" y1="335.10" x2="1002.0" y2="335.10"/>
<line x1="654.2" y1="265.73" x2="658.2" y2="265.73"/><line x1="1006.0" y1="265.73" x2="1002.0" y2="265.73"/>
<line x1="654.2" y1="196.35" x2="658.2" y2="196.35"/><line x1="1006.0" y1="196.35" x2="1002.0" y2="196.35"/>
<line x1="654.2" y1="126.98" x2="658.2" y2="126.98"/><line x1="1006.0" y1="126.98" x2="1002.0" y2="126.98"/>
<line x1="654.2" y1="57.60" x2="658.2" y2="57.60"/><line x1="1006.0" y1="57.60" x2="1002.0" y2="57.60"/>
<line x1="654.20" y1="473.85" x2="654.20" y2="469.85"/><line x1="654.20" y1="57.6" x2="654.20" y2="61.6"/>
<line x1="742.15" y1="473.85" x2="742.15" y2="469.85"/><line x1="742.15" y1="57.6" x2="742.15" y2="61.6"/>
<line x1="830.10" y1="473.85" x2="830.10" y2="469.85"/><line x1="830.10" y1="57.6" x2="830.10" y2="61.6"/>
<line x1="918.05" y1="473.85" x2="918.05" y2="469.85"/><line x1="918.05" y1="57.6" x2="918.05" y2="61.6"/>
<line x1="1006.00" y1="473.85" x2="1006.00" y2="469.85"/><line x1="1006.00" y1="57.6" x2="1006.00" y2="61.6"/>
</g>
<g font-size="21.6" text-anchor="end">
<text x="649.6" y="481.25">0</text>
<text x="649.6" y="411.88">2</text>
<text x="649.6" y="342.50">4</text>
<text x="649.6" y="273.12">6</text>
<text x="649.6" y="203.75">8</text>
<text x="649.6" y="134.38">10</text>
<text x="649.6" y="65.00">12</text>
</g>
<g font-size="21.6" text-anchor="middle">
<text x="649.6" y="498">-0.1</text>
<text x="713.3" y="498" text-anchor="start" textLength="49.7" lengthAdjust="spacingAndGlyphs">-0.05</text>
<text x="830.5" y="498">0</text>
<text x="918.3" y="498">0.05</text>
<text x="1004.6" y="498">0.1</text>
</g>
<text x="762" y="522" font-size="22.4" textLength="135.5" lengthAdjust="spacingAndGlyphs">difference [m]</text>
<text transform="translate(612.9,321.2) rotate(-90)" font-size="22.4" textLength="110.3" lengthAdjust="spacingAndGlyphs">density [%]</text>
<text x="679.7" y="40" font-size="23.7" textLength="299" lengthAdjust="spacingAndGlyphs">water level - TLS minus ALS</text>
<text x="592.8" y="37.6" font-size="23.2">(b)</text>
<g font-size="22.5">
<text x="836.7" y="83.3" textLength="163" lengthAdjust="spacingAndGlyphs">median:-0.017m</text>
<text x="836.7" y="108.4">rms:</text><text x="918.2" y="108.4">0.033m</text>
<text x="836.7" y="133.6">std:</text><text x="917.4" y="133.6">0.028m</text>
</g>
</g>
<g id="panel-c">
<g fill="#c98235"><circle cx="348.7" cy="748.0" r="2.7"/><circle cx="347.9" cy="748.0" r="2.7"/><circle cx="350.4" cy="747.0" r="2.7"/><circle cx="348.8" cy="747.9" r="2.7"/><circle cx="346.7" cy="749.9" r="2.7"/><circle cx="347.1" cy="752.0" r="2.7"/><circle cx="346.3" cy="752.5" r="2.7"/><circle cx="351.4" cy="749.0" r="2.7"/><circle cx="350.6" cy="751.5" r="2.7"/><circle cx="350.8" cy="752.5" r="2.7"/><circle cx="350.7" cy="754.9" r="2.7"/><circle cx="349.7" cy="753.0" r="2.7"/><circle cx="355.2" cy="755.6" r="2.7"/><circle cx="350.5" cy="754.0" r="2.7"/><circle cx="350.9" cy="753.0" r="2.7"/><circle cx="353.1" cy="757.0" r="2.7"/><circle cx="352.8" cy="756.4" r="2.7"/><circle cx="351.3" cy="756.9" r="2.7"/><circle cx="350.9" cy="758.4" r="2.7"/><circle cx="353.1" cy="757.3" r="2.7"/><circle cx="351.6" cy="759.5" r="2.7"/><circle cx="352.4" cy="760.8" r="2.7"/><circle cx="354.0" cy="759.5" r="2.7"/><circle cx="353.7" cy="759.6" r="2.7"/><circle cx="352.4" cy="759.3" r="2.7"/><circle cx="355.4" cy="761.3" r="2.7"/><circle cx="355.9" cy="761.1" r="2.7"/><circle cx="357.4" cy="759.0" r="2.7"/><circle cx="359.2" cy="758.6" r="2.7"/><circle cx="353.2" cy="762.4" r="2.7"/><circle cx="356.9" cy="763.5" r="2.7"/><circle cx="357.9" cy="763.1" r="2.7"/><circle cx="359.1" cy="762.6" r="2.7"/><circle cx="356.7" cy="766.0" r="2.7"/><circle cx="359.2" cy="765.5" r="2.7"/><circle cx="356.2" cy="770.4" r="2.7"/><circle cx="361.7" cy="763.7" r="2.7"/><circle cx="363.0" cy="766.2" r="2.7"/><circle cx="359.8" cy="766.3" r="2.7"/><circle cx="357.4" cy="771.0" r="2.7"/><circle cx="361.6" cy="766.3" r="2.7"/><circle cx="359.0" cy="768.3" r="2.7"/><circle cx="361.1" cy="772.5" r="2.7"/><circle cx="359.4" cy="769.5" r="2.7"/><circle cx="365.9" cy="766.1" r="2.7"/><circle cx="363.2" cy="771.0" r="2.7"/><circle cx="365.4" cy="770.4" r="2.7"/><circle cx="366.7" cy="769.7" r="2.7"/><circle cx="362.8" cy="774.1" r="2.7"/><circle cx="365.9" cy="771.7" r="2.7"/><circle cx="364.3" cy="770.0" r="2.7"/><circle cx="365.3" cy="773.4" r="2.7"/><circle cx="363.6" cy="771.1" r="2.7"/><circle cx="365.3" cy="773.7" r="2.7"/><circle cx="364.1" cy="778.2" r="2.7"/><circle cx="362.5" cy="773.9" r="2.7"/><circle cx="370.4" cy="773.2" r="2.7"/><circle cx="366.0" cy="775.9" r="2.7"/><circle cx="366.5" cy="775.4" r="2.7"/><circle cx="368.5" cy="777.7" r="2.7"/><circle cx="367.3" cy="778.5" r="2.7"/><circle cx="369.0" cy="778.4" r="2.7"/><circle cx="367.1" cy="779.0" r="2.7"/><circle cx="369.6" cy="779.2" r="2.7"/><circle cx="369.2" cy="778.8" r="2.7"/><circle cx="371.3" cy="779.2" r="2.7"/><circle cx="369.8" cy="780.5" r="2.7"/><circle cx="372.3" cy="782.5" r="2.7"/><circle cx="369.9" cy="779.4" r="2.7"/><circle cx="372.4" cy="781.7" r="2.7"/><circle cx="371.1" cy="782.8" r="2.7"/><circle cx="369.7" cy="783.3" r="2.7"/><circle cx="371.4" cy="783.9" r="2.7"/><circle cx="374.5" cy="782.2" r="2.7"/><circle cx="371.5" cy="783.7" r="2.7"/><circle cx="374.3" cy="781.4" r="2.7"/><circle cx="372.2" cy="788.2" r="2.7"/><circle cx="377.4" cy="782.9" r="2.7"/><circle cx="377.7" cy="783.8" r="2.7"/><circle cx="379.8" cy="784.0" r="2.7"/><circle cx="377.4" cy="785.6" r="2.7"/><circle cx="375.5" cy="788.7" r="2.7"/><circle cx="377.8" cy="786.9" r="2.7"/><circle cx="378.1" cy="785.4" r="2.7"/><circle cx="376.5" cy="788.4" r="2.7"/><circle cx="376.0" cy="790.4" r="2.7"/><circle cx="378.3" cy="790.7" r="2.7"/><circle cx="376.4" cy="791.9" r="2.7"/><circle cx="378.1" cy="791.2" r="2.7"/><circle cx="380.8" cy="791.8" r="2.7"/><circle cx="381.9" cy="790.8" r="2.7"/><circle cx="382.6" cy="789.6" r="2.7"/><circle cx="384.9" cy="790.4" r="2.7"/><circle cx="384.7" cy="790.4" r="2.7"/><circle cx="381.0" cy="794.3" r="2.7"/><circle cx="387.8" cy="787.3" r="2.7"/><circle cx="384.5" cy="793.1" r="2.7"/><circle cx="384.2" cy="793.0" r="2.7"/><circle cx="382.2" cy="794.0" r="2.7"/><circle cx="387.2" cy="791.9" r="2.7"/><circle cx="386.2" cy="791.7" r="2.7"/><circle cx="382.6" cy="795.3" r="2.7"/><circle cx="387.5" cy="795.2" r="2.7"/><circle cx="386.1" cy="796.2" r="2.7"/><circle cx="386.4" cy="796.7" r="2.7"/><circle cx="388.5" cy="795.6" r="2.7"/><circle cx="389.2" cy="795.9" r="2.7"/><circle cx="389.4" cy="796.9" r="2.7"/><circle cx="389.1" cy="797.4" r="2.7"/><circle cx="390.8" cy="796.6" r="2.7"/><circle cx="389.2" cy="798.1" r="2.7"/><circle cx="389.4" cy="802.0" r="2.7"/><circle cx="387.0" cy="799.3" r="2.7"/><circle cx="390.3" cy="799.9" r="2.7"/><circle cx="387.4" cy="801.2" r="2.7"/><circle cx="388.5" cy="802.1" r="2.7"/><circle cx="392.0" cy="801.4" r="2.7"/><circle cx="390.0" cy="801.8" r="2.7"/><circle cx="395.1" cy="798.9" r="2.7"/><circle cx="392.3" cy="801.9" r="2.7"/><circle cx="393.2" cy="804.7" r="2.7"/><circle cx="396.7" cy="803.7" r="2.7"/><circle cx="393.3" cy="805.0" r="2.7"/><circle cx="394.0" cy="802.8" r="2.7"/><circle cx="395.8" cy="805.0" r="2.7"/><circle cx="399.4" cy="804.5" r="2.7"/><circle cx="396.2" cy="807.7" r="2.7"/><circle cx="397.8" cy="807.2" r="2.7"/><circle cx="397.0" cy="808.9" r="2.7"/><circle cx="397.1" cy="807.6" r="2.7"/><circle cx="397.0" cy="808.2" r="2.7"/><circle cx="396.2" cy="809.1" r="2.7"/><circle cx="402.9" cy="804.2" r="2.7"/><circle cx="400.6" cy="807.8" r="2.7"/><circle cx="399.2" cy="808.3" r="2.7"/><circle cx="401.6" cy="808.1" r="2.7"/><circle cx="399.2" cy="812.0" r="2.7"/><circle cx="400.2" cy="807.8" r="2.7"/><circle cx="400.7" cy="808.6" r="2.7"/><circle cx="406.1" cy="811.4" r="2.7"/><circle cx="404.6" cy="810.4" r="2.7"/><circle cx="398.3" cy="814.4" r="2.7"/><circle cx="404.4" cy="813.4" r="2.7"/><circle cx="397.6" cy="816.9" r="2.7"/><circle cx="398.8" cy="816.0" r="2.7"/><circle cx="401.6" cy="817.2" r="2.7"/><circle cx="406.0" cy="812.8" r="2.7"/><circle cx="404.3" cy="817.3" r="2.7"/><circle cx="403.6" cy="812.8" r="2.7"/><circle cx="406.7" cy="817.4" r="2.7"/><circle cx="402.9" cy="819.8" r="2.7"/><circle cx="404.1" cy="822.3" r="2.7"/><circle cx="407.5" cy="817.9" r="2.7"/><circle cx="406.7" cy="819.1" r="2.7"/><circle cx="404.4" cy="819.5" r="2.7"/><circle cx="408.9" cy="818.1" r="2.7"/><circle cx="411.5" cy="820.7" r="2.7"/><circle cx="409.9" cy="816.9" r="2.7"/><circle cx="409.0" cy="822.0" r="2.7"/><circle cx="408.0" cy="820.1" r="2.7"/><circle cx="408.1" cy="819.5" r="2.7"/><circle cx="405.9" cy="825.6" r="2.7"/><circle cx="407.1" cy="822.4" r="2.7"/><circle cx="408.8" cy="826.0" r="2.7"/><circle cx="408.6" cy="823.9" r="2.7"/><circle cx="409.8" cy="825.4" r="2.7"/><circle cx="409.4" cy="825.5" r="2.7"/><circle cx="412.9" cy="828.5" r="2.7"/><circle cx="411.8" cy="829.7" r="2.7"/><circle cx="417.4" cy="829.0" r="2.7"/><circle cx="419.2" cy="827.7" r="2.7"/><circle cx="419.3" cy="830.0" r="2.7"/><circle cx="419.6" cy="830.1" r="2.7"/><circle cx="419.5" cy="831.0" r="2.7"/><circle cx="420.5" cy="833.8" r="2.7"/><circle cx="424.6" cy="833.6" r="2.7"/><circle cx="422.3" cy="834.9" r="2.7"/><circle cx="427.1" cy="839.1" r="2.7"/><circle cx="421.0" cy="839.4" r="2.7"/><circle cx="425.2" cy="841.4" r="2.7"/><circle cx="425.2" cy="842.1" r="2.7"/><circle cx="427.2" cy="841.9" r="2.7"/><circle cx="429.4" cy="844.5" r="2.7"/><circle cx="425.6" cy="848.0" r="2.7"/><circle cx="427.9" cy="846.0" r="2.7"/><circle cx="432.8" cy="847.6" r="2.7"/><circle cx="430.1" cy="849.3" r="2.7"/><circle cx="432.3" cy="854.4" r="2.7"/><circle cx="460.0" cy="866.0" r="2.7"/><circle cx="470.5" cy="859.5" r="2.7"/><circle cx="495.0" cy="862.0" r="2.7"/><circle cx="499.0" cy="863.0" r="2.7"/><circle cx="502.5" cy="862.5" r="2.7"/><circle cx="506.0" cy="864.5" r="2.7"/><circle cx="510.0" cy="864.0" r="2.7"/><circle cx="511.8" cy="861.8" r="2.7"/><circle cx="513.4" cy="860.3" r="2.7"/><circle cx="509.2" cy="854.2" r="2.7"/><circle cx="510.4" cy="858.6" r="2.7"/><circle cx="515.3" cy="859.2" r="2.7"/><circle cx="513.2" cy="858.1" r="2.7"/><circle cx="514.2" cy="858.2" r="2.7"/><circle cx="515.7" cy="858.5" r="2.7"/><circle cx="508.8" cy="854.1" r="2.7"/><circle cx="514.2" cy="855.6" r="2.7"/><circle cx="515.8" cy="855.4" r="2.7"/><circle cx="519.0" cy="856.4" r="2.7"/><circle cx="514.4" cy="855.8" r="2.7"/><circle cx="513.1" cy="850.9" r="2.7"/><circle cx="513.5" cy="853.4" r="2.7"/><circle cx="517.9" cy="856.0" r="2.7"/><circle cx="515.9" cy="852.9" r="2.7"/><circle cx="514.8" cy="851.7" r="2.7"/><circle cx="517.5" cy="852.3" r="2.7"/><circle cx="516.4" cy="852.9" r="2.7"/><circle cx="518.4" cy="850.6" r="2.7"/><circle cx="518.4" cy="850.8" r="2.7"/><circle cx="518.6" cy="853.2" r="2.7"/><circle cx="519.5" cy="852.0" r="2.7"/><circle cx="514.0" cy="848.6" r="2.7"/><circle cx="521.8" cy="855.6" r="2.7"/><circle cx="519.0" cy="848.8" r="2.7"/><circle cx="517.1" cy="847.8" r="2.7"/><circle cx="521.9" cy="850.5" r="2.7"/><circle cx="524.1" cy="851.3" r="2.7"/><circle cx="520.1" cy="847.4" r="2.7"/><circle cx="518.6" cy="846.8" r="2.7"/><circle cx="521.0" cy="845.6" r="2.7"/><circle cx="524.9" cy="848.6" r="2.7"/><circle cx="524.7" cy="849.5" r="2.7"/><circle cx="525.4" cy="849.5" r="2.7"/><circle cx="526.4" cy="849.4" r="2.7"/><circle cx="522.4" cy="846.2" r="2.7"/><circle cx="524.4" cy="846.7" r="2.7"/><circle cx="527.0" cy="848.9" r="2.7"/><circle cx="526.9" cy="849.8" r="2.7"/><circle cx="526.1" cy="846.5" r="2.7"/><circle cx="526.9" cy="847.1" r="2.7"/><circle cx="524.5" cy="843.7" r="2.7"/><circle cx="527.0" cy="845.9" r="2.7"/><circle cx="526.0" cy="843.8" r="2.7"/><circle cx="526.6" cy="843.8" r="2.7"/><circle cx="526.9" cy="841.8" r="2.7"/><circle cx="528.7" cy="842.5" r="2.7"/><circle cx="526.9" cy="844.6" r="2.7"/><circle cx="526.8" cy="841.2" r="2.7"/><circle cx="531.9" cy="843.5" r="2.7"/><circle cx="523.7" cy="839.5" r="2.7"/><circle cx="531.7" cy="842.6" r="2.7"/><circle cx="530.2" cy="840.9" r="2.7"/><circle cx="528.1" cy="841.3" r="2.7"/><circle cx="526.8" cy="839.8" r="2.7"/><circle cx="528.3" cy="840.3" r="2.7"/><circle cx="531.1" cy="840.2" r="2.7"/><circle cx="526.9" cy="836.6" r="2.7"/><circle cx="535.4" cy="841.7" r="2.7"/><circle cx="532.7" cy="839.6" r="2.7"/><circle cx="537.5" cy="841.2" r="2.7"/><circle cx="534.9" cy="841.3" r="2.7"/><circle cx="533.1" cy="839.5" r="2.7"/><circle cx="532.2" cy="837.6" r="2.7"/><circle cx="534.4" cy="836.2" r="2.7"/><circle cx="537.3" cy="838.9" r="2.7"/><circle cx="532.9" cy="835.0" r="2.7"/><circle cx="536.8" cy="838.3" r="2.7"/><circle cx="536.2" cy="838.0" r="2.7"/><circle cx="531.2" cy="833.9" r="2.7"/><circle cx="534.8" cy="835.8" r="2.7"/><circle cx="536.1" cy="836.2" r="2.7"/><circle cx="537.1" cy="832.1" r="2.7"/><circle cx="533.0" cy="833.8" r="2.7"/><circle cx="537.2" cy="834.2" r="2.7"/><circle cx="538.7" cy="835.7" r="2.7"/><circle cx="534.6" cy="831.9" r="2.7"/><circle cx="537.6" cy="832.9" r="2.7"/><circle cx="535.2" cy="829.5" r="2.7"/><circle cx="535.9" cy="831.0" r="2.7"/><circle cx="533.5" cy="829.7" r="2.7"/><circle cx="539.5" cy="832.5" r="2.7"/><circle cx="539.2" cy="831.7" r="2.7"/><circle cx="536.6" cy="830.4" r="2.7"/><circle cx="535.7" cy="829.7" r="2.7"/><circle cx="537.5" cy="827.8" r="2.7"/><circle cx="539.4" cy="830.1" r="2.7"/><circle cx="541.1" cy="830.2" r="2.7"/><circle cx="533.7" cy="825.5" r="2.7"/><circle cx="538.8" cy="828.7" r="2.7"/><circle cx="540.1" cy="826.9" r="2.7"/><circle cx="542.8" cy="831.2" r="2.7"/><circle cx="540.8" cy="829.5" r="2.7"/><circle cx="537.9" cy="824.2" r="2.7"/><circle cx="544.0" cy="828.6" r="2.7"/><circle cx="540.7" cy="827.2" r="2.7"/><circle cx="540.1" cy="823.7" r="2.7"/><circle cx="536.9" cy="824.2" r="2.7"/><circle cx="542.1" cy="824.7" r="2.7"/><circle cx="543.6" cy="826.1" r="2.7"/><circle cx="545.2" cy="825.2" r="2.7"/><circle cx="544.4" cy="826.7" r="2.7"/><circle cx="545.9" cy="827.3" r="2.7"/><circle cx="541.6" cy="823.3" r="2.7"/><circle cx="545.7" cy="824.8" r="2.7"/><circle cx="547.4" cy="825.1" r="2.7"/><circle cx="542.3" cy="820.4" r="2.7"/><circle cx="544.1" cy="822.7" r="2.7"/><circle cx="545.4" cy="822.6" r="2.7"/><circle cx="547.9" cy="823.2" r="2.7"/><circle cx="544.7" cy="820.0" r="2.7"/><circle cx="550.6" cy="823.7" r="2.7"/><circle cx="545.2" cy="820.8" r="2.7"/><circle cx="547.3" cy="819.4" r="2.7"/><circle cx="545.2" cy="818.1" r="2.7"/><circle cx="545.1" cy="818.9" r="2.7"/><circle cx="545.4" cy="816.9" r="2.7"/><circle cx="548.1" cy="818.4" r="2.7"/><circle cx="545.3" cy="816.8" r="2.7"/><circle cx="549.5" cy="817.4" r="2.7"/><circle cx="552.6" cy="819.9" r="2.7"/><circle cx="549.0" cy="817.3" r="2.7"/><circle cx="549.8" cy="817.5" r="2.7"/><circle cx="549.0" cy="816.3" r="2.7"/><circle cx="550.3" cy="816.3" r="2.7"/><circle cx="550.9" cy="819.2" r="2.7"/><circle cx="550.2" cy="813.7" r="2.7"/><circle cx="552.0" cy="814.5" r="2.7"/><circle cx="552.8" cy="813.6" r="2.7"/><circle cx="551.9" cy="815.7" r="2.7"/><circle cx="551.7" cy="816.5" r="2.7"/><circle cx="554.2" cy="815.5" r="2.7"/><circle cx="552.2" cy="813.9" r="2.7"/><circle cx="552.4" cy="812.9" r="2.7"/><circle cx="553.3" cy="811.8" r="2.7"/><circle cx="552.4" cy="811.9" r="2.7"/><circle cx="552.8" cy="809.5" r="2.7"/><circle cx="558.7" cy="813.6" r="2.7"/><circle cx="554.7" cy="812.4" r="2.7"/><circle cx="554.5" cy="813.1" r="2.7"/><circle cx="553.6" cy="809.9" r="2.7"/><circle cx="558.6" cy="814.2" r="2.7"/><circle cx="554.6" cy="808.9" r="2.7"/><circle cx="556.3" cy="811.5" r="2.7"/><circle cx="557.4" cy="809.7" r="2.7"/><circle cx="560.6" cy="811.6" r="2.7"/><circle cx="556.5" cy="811.2" r="2.7"/><circle cx="558.0" cy="809.0" r="2.7"/><circle cx="558.2" cy="808.0" r="2.7"/><circle cx="559.4" cy="808.1" r="2.7"/><circle cx="560.3" cy="808.8" r="2.7"/><circle cx="556.6" cy="807.5" r="2.7"/><circle cx="560.3" cy="808.8" r="2.7"/><circle cx="557.9" cy="809.3" r="2.7"/><circle cx="559.9" cy="807.6" r="2.7"/><circle cx="559.4" cy="806.0" r="2.7"/><circle cx="561.7" cy="810.3" r="2.7"/><circle cx="562.0" cy="811.3" r="2.7"/><circle cx="562.8" cy="808.3" r="2.7"/><circle cx="563.2" cy="807.4" r="2.7"/><circle cx="564.3" cy="809.1" r="2.7"/><circle cx="564.1" cy="808.4" r="2.7"/><circle cx="565.1" cy="809.6" r="2.7"/><circle cx="564.0" cy="806.6" r="2.7"/><circle cx="565.2" cy="810.0" r="2.7"/><circle cx="564.7" cy="806.7" r="2.7"/><circle cx="567.7" cy="808.4" r="2.7"/><circle cx="567.4" cy="805.0" r="2.7"/><circle cx="567.3" cy="808.7" r="2.7"/><circle cx="568.2" cy="806.8" r="2.7"/><circle cx="566.5" cy="804.4" r="2.7"/><circle cx="568.7" cy="809.6" r="2.7"/><circle cx="568.9" cy="809.4" r="2.7"/><circle cx="569.9" cy="810.2" r="2.7"/><circle cx="570.0" cy="804.1" r="2.7"/><circle cx="568.9" cy="804.6" r="2.7"/><circle cx="570.7" cy="809.7" r="2.7"/><circle cx="570.2" cy="810.0" r="2.7"/><circle cx="571.4" cy="808.5" r="2.7"/><circle cx="571.3" cy="809.2" r="2.7"/><circle cx="572.9" cy="803.5" r="2.7"/><circle cx="573.3" cy="805.6" r="2.7"/><circle cx="573.5" cy="806.6" r="2.7"/><circle cx="572.9" cy="807.8" r="2.7"/><circle cx="573.6" cy="806.5" r="2.7"/><circle cx="576.1" cy="809.1" r="2.7"/><circle cx="574.5" cy="807.3" r="2.7"/><circle cx="576.2" cy="807.7" r="2.7"/><circle cx="577.9" cy="808.8" r="2.7"/><circle cx="576.1" cy="806.6" r="2.7"/><circle cx="576.2" cy="805.2" r="2.7"/><circle cx="575.0" cy="801.0" r="2.7"/><circle cx="577.3" cy="801.4" r="2.7"/><circle cx="579.7" cy="809.2" r="2.7"/><circle cx="579.3" cy="804.3" r="2.7"/><circle cx="579.5" cy="806.0" r="2.7"/><circle cx="578.8" cy="802.3" r="2.7"/><circle cx="582.5" cy="805.5" r="2.7"/><circle cx="579.1" cy="806.3" r="2.7"/><circle cx="579.3" cy="802.9" r="2.7"/><circle cx="582.7" cy="803.2" r="2.7"/><circle cx="581.2" cy="800.9" r="2.7"/><circle cx="582.0" cy="804.6" r="2.7"/><circle cx="581.0" cy="802.3" r="2.7"/><circle cx="582.5" cy="801.0" r="2.7"/><circle cx="583.7" cy="803.6" r="2.7"/><circle cx="585.8" cy="804.8" r="2.7"/><circle cx="584.0" cy="801.2" r="2.7"/><circle cx="585.4" cy="806.7" r="2.7"/><circle cx="585.8" cy="801.7" r="2.7"/><circle cx="585.9" cy="803.2" r="2.7"/><circle cx="587.0" cy="804.9" r="2.7"/><circle cx="586.7" cy="802.4" r="2.7"/><circle cx="588.0" cy="803.2" r="2.7"/><circle cx="585.7" cy="800.4" r="2.7"/><circle cx="587.7" cy="803.7" r="2.7"/><circle cx="587.4" cy="800.3" r="2.7"/><circle cx="585.1" cy="796.6" r="2.7"/><circle cx="589.2" cy="803.0" r="2.7"/><circle cx="590.5" cy="802.1" r="2.7"/><circle cx="589.9" cy="801.9" r="2.7"/><circle cx="588.3" cy="798.4" r="2.7"/><circle cx="589.6" cy="803.5" r="2.7"/><circle cx="592.7" cy="802.4" r="2.7"/><circle cx="591.4" cy="801.0" r="2.7"/><circle cx="590.9" cy="799.4" r="2.7"/><circle cx="592.7" cy="801.7" r="2.7"/><circle cx="592.2" cy="800.2" r="2.7"/><circle cx="594.1" cy="798.8" r="2.7"/><circle cx="594.6" cy="801.1" r="2.7"/><circle cx="593.2" cy="798.6" r="2.7"/><circle cx="594.8" cy="802.2" r="2.7"/><circle cx="597.0" cy="801.5" r="2.7"/><circle cx="592.2" cy="797.0" r="2.7"/><circle cx="593.6" cy="795.2" r="2.7"/><circle cx="594.2" cy="797.9" r="2.7"/><circle cx="594.5" cy="797.1" r="2.7"/><circle cx="597.0" cy="800.4" r="2.7"/><circle cx="595.7" cy="794.0" r="2.7"/><circle cx="596.7" cy="797.0" r="2.7"/><circle cx="596.3" cy="792.6" r="2.7"/><circle cx="599.2" cy="796.4" r="2.7"/><circle cx="600.2" cy="795.8" r="2.7"/><circle cx="601.0" cy="799.6" r="2.7"/><circle cx="598.4" cy="791.9" r="2.7"/><circle cx="600.5" cy="793.3" r="2.7"/><circle cx="599.8" cy="793.6" r="2.7"/><circle cx="600.1" cy="792.4" r="2.7"/><circle cx="602.6" cy="799.6" r="2.7"/><circle cx="603.1" cy="795.9" r="2.7"/><circle cx="602.7" cy="796.5" r="2.7"/><circle cx="603.1" cy="796.3" r="2.7"/><circle cx="607.5" cy="799.0" r="2.7"/><circle cx="603.7" cy="794.4" r="2.7"/><circle cx="603.0" cy="793.9" r="2.7"/><circle cx="604.3" cy="796.9" r="2.7"/><circle cx="607.8" cy="797.7" r="2.7"/><circle cx="606.9" cy="793.1" r="2.7"/><circle cx="603.3" cy="790.4" r="2.7"/><circle cx="604.8" cy="790.9" r="2.7"/><circle cx="606.7" cy="792.6" r="2.7"/><circle cx="609.2" cy="795.3" r="2.7"/><circle cx="606.8" cy="792.1" r="2.7"/><circle cx="609.3" cy="794.8" r="2.7"/><circle cx="606.9" cy="788.5" r="2.7"/><circle cx="606.2" cy="788.6" r="2.7"/><circle cx="609.1" cy="791.6" r="2.7"/><circle cx="606.4" cy="788.1" r="2.7"/><circle cx="608.5" cy="788.8" r="2.7"/><circle cx="611.6" cy="792.4" r="2.7"/><circle cx="608.4" cy="789.8" r="2.7"/><circle cx="608.1" cy="786.5" r="2.7"/><circle cx="616.5" cy="794.9" r="2.7"/><circle cx="608.2" cy="783.8" r="2.7"/><circle cx="608.6" cy="782.4" r="2.7"/><circle cx="608.0" cy="784.1" r="2.7"/><circle cx="609.8" cy="785.9" r="2.7"/><circle cx="610.6" cy="784.1" r="2.7"/><circle cx="609.0" cy="786.4" r="2.7"/><circle cx="613.7" cy="787.0" r="2.7"/><circle cx="614.6" cy="786.2" r="2.7"/><circle cx="609.2" cy="782.7" r="2.7"/><circle cx="609.2" cy="780.5" r="2.7"/><circle cx="614.9" cy="783.9" r="2.7"/><circle cx="616.3" cy="786.7" r="2.7"/><circle cx="615.9" cy="784.9" r="2.7"/><circle cx="615.6" cy="784.2" r="2.7"/><circle cx="612.6" cy="782.4" r="2.7"/><circle cx="614.6" cy="785.7" r="2.7"/><circle cx="615.2" cy="784.4" r="2.7"/><circle cx="615.9" cy="785.9" r="2.7"/><circle cx="611.3" cy="778.2" r="2.7"/><circle cx="614.5" cy="779.2" r="2.7"/><circle cx="614.0" cy="779.7" r="2.7"/><circle cx="617.2" cy="781.4" r="2.7"/><circle cx="612.7" cy="776.9" r="2.7"/><circle cx="615.0" cy="778.5" r="2.7"/><circle cx="614.5" cy="777.1" r="2.7"/><circle cx="621.4" cy="782.0" r="2.7"/><circle cx="613.8" cy="776.5" r="2.7"/><circle cx="619.0" cy="780.0" r="2.7"/><circle cx="619.7" cy="779.8" r="2.7"/><circle cx="618.2" cy="776.6" r="2.7"/><circle cx="623.6" cy="782.7" r="2.7"/><circle cx="619.9" cy="778.2" r="2.7"/><circle cx="620.4" cy="778.1" r="2.7"/><circle cx="617.8" cy="773.3" r="2.7"/><circle cx="618.5" cy="774.8" r="2.7"/><circle cx="620.7" cy="779.2" r="2.7"/><circle cx="620.0" cy="776.7" r="2.7"/><circle cx="621.4" cy="773.4" r="2.7"/><circle cx="621.8" cy="776.3" r="2.7"/><circle cx="619.0" cy="770.6" r="2.7"/><circle cx="622.3" cy="775.4" r="2.7"/><circle cx="621.8" cy="773.3" r="2.7"/><circle cx="622.0" cy="772.5" r="2.7"/><circle cx="621.6" cy="771.5" r="2.7"/><circle cx="621.6" cy="772.4" r="2.7"/><circle cx="624.4" cy="774.2" r="2.7"/><circle cx="622.4" cy="771.5" r="2.7"/><circle cx="625.4" cy="772.3" r="2.7"/><circle cx="624.5" cy="771.3" r="2.7"/><circle cx="626.9" cy="771.7" r="2.7"/><circle cx="627.4" cy="775.2" r="2.7"/><circle cx="628.3" cy="774.1" r="2.7"/><circle cx="627.4" cy="771.6" r="2.7"/><circle cx="630.4" cy="772.6" r="2.7"/><circle cx="628.4" cy="771.3" r="2.7"/><circle cx="627.7" cy="773.5" r="2.7"/><circle cx="626.9" cy="771.2" r="2.7"/><circle cx="625.4" cy="768.2" r="2.7"/><circle cx="631.1" cy="773.6" r="2.7"/><circle cx="630.1" cy="771.9" r="2.7"/><circle cx="629.7" cy="771.2" r="2.7"/><circle cx="629.0" cy="765.8" r="2.7"/><circle cx="629.3" cy="767.1" r="2.7"/><circle cx="630.9" cy="770.5" r="2.7"/><circle cx="632.2" cy="769.3" r="2.7"/><circle cx="634.2" cy="770.5" r="2.7"/><circle cx="630.9" cy="769.9" r="2.7"/><circle cx="631.5" cy="766.0" r="2.7"/><circle cx="632.5" cy="766.5" r="2.7"/><circle cx="634.8" cy="770.3" r="2.7"/><circle cx="634.5" cy="767.2" r="2.7"/><circle cx="635.3" cy="770.6" r="2.7"/><circle cx="635.1" cy="766.7" r="2.7"/><circle cx="635.3" cy="771.2" r="2.7"/><circle cx="631.3" cy="763.5" r="2.7"/><circle cx="635.3" cy="766.5" r="2.7"/><circle cx="635.0" cy="765.6" r="2.7"/><circle cx="636.6" cy="769.4" r="2.7"/><circle cx="636.8" cy="764.1" r="2.7"/><circle cx="636.3" cy="763.2" r="2.7"/><circle cx="638.7" cy="768.3" r="2.7"/><circle cx="640.6" cy="769.2" r="2.7"/><circle cx="638.2" cy="764.4" r="2.7"/><circle cx="636.9" cy="761.7" r="2.7"/><circle cx="639.5" cy="765.1" r="2.7"/><circle cx="641.0" cy="766.6" r="2.7"/><circle cx="641.3" cy="763.3" r="2.7"/><circle cx="643.3" cy="767.3" r="2.7"/><circle cx="639.8" cy="761.7" r="2.7"/><circle cx="642.3" cy="761.5" r="2.7"/><circle cx="643.8" cy="766.5" r="2.7"/><circle cx="642.9" cy="761.8" r="2.7"/><circle cx="644.0" cy="769.0" r="2.7"/><circle cx="641.6" cy="759.8" r="2.7"/><circle cx="644.9" cy="767.2" r="2.7"/><circle cx="646.6" cy="765.1" r="2.7"/><circle cx="644.8" cy="763.7" r="2.7"/><circle cx="647.2" cy="765.4" r="2.7"/><circle cx="644.3" cy="761.2" r="2.7"/><circle cx="648.5" cy="762.2" r="2.7"/><circle cx="647.6" cy="763.0" r="2.7"/><circle cx="648.2" cy="765.3" r="2.7"/><circle cx="647.4" cy="760.5" r="2.7"/><circle cx="648.5" cy="763.3" r="2.7"/><circle cx="647.1" cy="760.3" r="2.7"/><circle cx="650.9" cy="764.9" r="2.7"/><circle cx="650.9" cy="763.6" r="2.7"/><circle cx="650.9" cy="765.6" r="2.7"/><circle cx="650.2" cy="758.6" r="2.7"/><circle cx="652.6" cy="760.6" r="2.7"/><circle cx="651.3" cy="758.6" r="2.7"/><circle cx="652.8" cy="762.1" r="2.7"/><circle cx="651.1" cy="762.3" r="2.7"/><circle cx="651.7" cy="756.7" r="2.7"/><circle cx="652.5" cy="762.6" r="2.7"/><circle cx="651.9" cy="758.8" r="2.7"/><circle cx="653.4" cy="759.4" r="2.7"/><circle cx="652.6" cy="759.2" r="2.7"/><circle cx="653.6" cy="763.3" r="2.7"/><circle cx="655.2" cy="760.6" r="2.7"/><circle cx="656.0" cy="759.0" r="2.7"/><circle cx="657.1" cy="757.5" r="2.7"/><circle cx="657.6" cy="762.0" r="2.7"/><circle cx="655.0" cy="755.7" r="2.7"/><circle cx="657.3" cy="758.1" r="2.7"/><circle cx="657.1" cy="755.1" r="2.7"/><circle cx="655.6" cy="754.5" r="2.7"/><circle cx="655.8" cy="754.5" r="2.7"/><circle cx="656.8" cy="755.4" r="2.7"/><circle cx="658.1" cy="755.8" r="2.7"/><circle cx="659.7" cy="761.1" r="2.7"/><circle cx="661.2" cy="758.8" r="2.7"/><circle cx="658.6" cy="755.7" r="2.7"/><circle cx="660.6" cy="754.5" r="2.7"/><circle cx="660.4" cy="758.3" r="2.7"/><circle cx="660.1" cy="756.9" r="2.7"/><circle cx="662.4" cy="754.8" r="2.7"/><circle cx="662.0" cy="757.3" r="2.7"/><circle cx="660.3" cy="753.6" r="2.7"/><circle cx="661.9" cy="752.6" r="2.7"/><circle cx="665.8" cy="757.7" r="2.7"/><circle cx="664.6" cy="754.6" r="2.7"/><circle cx="665.8" cy="756.3" r="2.7"/><circle cx="664.5" cy="755.9" r="2.7"/><circle cx="665.1" cy="756.1" r="2.7"/><circle cx="665.4" cy="753.7" r="2.7"/><circle cx="665.1" cy="751.7" r="2.7"/><circle cx="667.1" cy="754.9" r="2.7"/><circle cx="667.5" cy="754.4" r="2.7"/><circle cx="665.6" cy="750.7" r="2.7"/><circle cx="667.9" cy="754.8" r="2.7"/><circle cx="667.3" cy="752.4" r="2.7"/><circle cx="667.7" cy="750.0" r="2.7"/><circle cx="668.5" cy="754.5" r="2.7"/><circle cx="668.3" cy="749.8" r="2.7"/><circle cx="667.0" cy="752.5" r="2.7"/><circle cx="668.7" cy="753.5" r="2.7"/><circle cx="669.6" cy="754.9" r="2.7"/><circle cx="671.9" cy="750.8" r="2.7"/><circle cx="670.9" cy="752.2" r="2.7"/><circle cx="673.0" cy="753.8" r="2.7"/><circle cx="671.0" cy="753.7" r="2.7"/><circle cx="670.8" cy="748.5" r="2.7"/><circle cx="673.1" cy="750.1" r="2.7"/><circle cx="671.5" cy="748.1" r="2.7"/><circle cx="673.3" cy="747.1" r="2.7"/><circle cx="673.2" cy="751.6" r="2.7"/><circle cx="672.2" cy="748.6" r="2.7"/><circle cx="674.8" cy="749.0" r="2.7"/><circle cx="675.8" cy="749.0" r="2.7"/><circle cx="674.8" cy="745.2" r="2.7"/><circle cx="675.8" cy="747.0" r="2.7"/><circle cx="677.3" cy="754.0" r="2.7"/><circle cx="678.1" cy="751.6" r="2.7"/><circle cx="674.7" cy="744.8" r="2.7"/><circle cx="678.9" cy="750.3" r="2.7"/><circle cx="679.1" cy="748.5" r="2.7"/><circle cx="677.2" cy="748.0" r="2.7"/><circle cx="677.6" cy="745.1" r="2.7"/><circle cx="681.3" cy="749.3" r="2.7"/><circle cx="678.3" cy="746.0" r="2.7"/><circle cx="681.2" cy="747.7" r="2.7"/><circle cx="679.9" cy="746.9" r="2.7"/><circle cx="681.0" cy="745.8" r="2.7"/><circle cx="681.2" cy="750.5" r="2.7"/><circle cx="685.3" cy="752.1" r="2.7"/><circle cx="680.8" cy="745.9" r="2.7"/><circle cx="680.7" cy="741.7" r="2.7"/><circle cx="683.5" cy="747.0" r="2.7"/><circle cx="682.2" cy="744.4" r="2.7"/><circle cx="684.2" cy="743.9" r="2.7"/><circle cx="683.4" cy="745.6" r="2.7"/><circle cx="684.2" cy="748.4" r="2.7"/><circle cx="684.7" cy="745.8" r="2.7"/><circle cx="685.1" cy="745.6" r="2.7"/><circle cx="687.9" cy="749.6" r="2.7"/><circle cx="685.9" cy="746.7" r="2.7"/><circle cx="686.7" cy="743.0" r="2.7"/><circle cx="688.1" cy="748.5" r="2.7"/><circle cx="687.4" cy="745.5" r="2.7"/><circle cx="690.4" cy="747.4" r="2.7"/><circle cx="686.1" cy="744.0" r="2.7"/><circle cx="691.0" cy="748.7" r="2.7"/><circle cx="690.7" cy="748.2" r="2.7"/><circle cx="689.7" cy="740.8" r="2.7"/><circle cx="691.3" cy="742.4" r="2.7"/><circle cx="691.9" cy="746.7" r="2.7"/><circle cx="691.5" cy="744.5" r="2.7"/><circle cx="690.6" cy="742.0" r="2.7"/><circle cx="690.3" cy="739.7" r="2.7"/><circle cx="692.0" cy="742.2" r="2.7"/><circle cx="693.8" cy="743.6" r="2.7"/><circle cx="693.2" cy="745.3" r="2.7"/><circle cx="695.5" cy="747.7" r="2.7"/><circle cx="693.5" cy="745.3" r="2.7"/><circle cx="697.0" cy="745.1" r="2.7"/><circle cx="694.8" cy="744.8" r="2.7"/><circle cx="695.3" cy="739.8" r="2.7"/><circle cx="696.2" cy="741.7" r="2.7"/><circle cx="696.5" cy="744.4" r="2.7"/><circle cx="697.6" cy="740.7" r="2.7"/><circle cx="696.6" cy="744.3" r="2.7"/><circle cx="698.1" cy="739.7" r="2.7"/><circle cx="699.7" cy="742.3" r="2.7"/><circle cx="700.7" cy="741.3" r="2.7"/><circle cx="700.8" cy="747.4" r="2.7"/><circle cx="698.9" cy="746.0" r="2.7"/><circle cx="699.6" cy="737.5" r="2.7"/><circle cx="700.5" cy="742.3" r="2.7"/><circle cx="702.0" cy="740.9" r="2.7"/><circle cx="700.4" cy="742.4" r="2.7"/><circle cx="701.7" cy="742.1" r="2.7"/><circle cx="701.8" cy="741.3" r="2.7"/><circle cx="702.0" cy="740.1" r="2.7"/><circle cx="704.6" cy="744.6" r="2.7"/><circle cx="704.3" cy="739.0" r="2.7"/><circle cx="704.2" cy="742.9" r="2.7"/><circle cx="704.2" cy="738.3" r="2.7"/><circle cx="705.8" cy="746.9" r="2.7"/><circle cx="706.7" cy="746.2" r="2.7"/><circle cx="706.1" cy="740.6" r="2.7"/><circle cx="707.8" cy="744.3" r="2.7"/><circle cx="706.2" cy="741.4" r="2.7"/><circle cx="708.5" cy="738.8" r="2.7"/><circle cx="706.1" cy="741.1" r="2.7"/><circle cx="708.3" cy="742.4" r="2.7"/><circle cx="708.3" cy="739.4" r="2.7"/><circle cx="707.4" cy="739.4" r="2.7"/><circle cx="711.2" cy="739.1" r="2.7"/><circle cx="710.2" cy="742.3" r="2.7"/><circle cx="712.8" cy="742.3" r="2.7"/><circle cx="712.8" cy="745.9" r="2.7"/><circle cx="711.7" cy="742.9" r="2.7"/><circle cx="711.7" cy="737.9" r="2.7"/><circle cx="712.8" cy="742.9" r="2.7"/><circle cx="712.3" cy="742.6" r="2.7"/><circle cx="713.0" cy="742.4" r="2.7"/><circle cx="713.0" cy="746.2" r="2.7"/><circle cx="714.7" cy="740.8" r="2.7"/><circle cx="716.3" cy="743.1" r="2.7"/><circle cx="715.1" cy="743.0" r="2.7"/><circle cx="713.9" cy="742.1" r="2.7"/><circle cx="715.2" cy="740.7" r="2.7"/><circle cx="716.2" cy="743.3" r="2.7"/><circle cx="717.3" cy="741.5" r="2.7"/><circle cx="716.9" cy="744.4" r="2.7"/><circle cx="720.3" cy="745.8" r="2.7"/><circle cx="718.6" cy="745.2" r="2.7"/><circle cx="718.4" cy="743.5" r="2.7"/><circle cx="720.0" cy="739.1" r="2.7"/><circle cx="719.3" cy="746.1" r="2.7"/><circle cx="720.7" cy="744.1" r="2.7"/><circle cx="720.8" cy="740.8" r="2.7"/><circle cx="721.4" cy="744.4" r="2.7"/><circle cx="721.0" cy="741.2" r="2.7"/><circle cx="721.9" cy="740.8" r="2.7"/><circle cx="377.3" cy="742.1" r="2.7"/><circle cx="382.5" cy="739.4" r="2.7"/><circle cx="384.7" cy="746.6" r="2.7"/><circle cx="389.3" cy="742.8" r="2.7"/><circle cx="391.0" cy="741.7" r="2.7"/><circle cx="395.4" cy="745.8" r="2.7"/><circle cx="398.7" cy="742.0" r="2.7"/><circle cx="402.5" cy="742.6" r="2.7"/><circle cx="405.0" cy="744.6" r="2.7"/><circle cx="411.2" cy="745.7" r="2.7"/><circle cx="411.9" cy="744.7" r="2.7"/><circle cx="415.4" cy="742.7" r="2.7"/><circle cx="417.4" cy="743.3" r="2.7"/><circle cx="423.8" cy="742.8" r="2.7"/><circle cx="424.6" cy="744.3" r="2.7"/><circle cx="429.9" cy="742.9" r="2.7"/><circle cx="430.2" cy="742.0" r="2.7"/><circle cx="437.3" cy="743.0" r="2.7"/><circle cx="441.2" cy="743.6" r="2.7"/><circle cx="441.3" cy="744.3" r="2.7"/><circle cx="445.0" cy="744.2" r="2.7"/><circle cx="450.5" cy="747.0" r="2.7"/><circle cx="453.2" cy="741.7" r="2.7"/><circle cx="454.5" cy="746.0" r="2.7"/><circle cx="459.7" cy="746.6" r="2.7"/><circle cx="461.2" cy="745.8" r="2.7"/><circle cx="465.9" cy="745.0" r="2.7"/><circle cx="470.8" cy="743.0" r="2.7"/><circle cx="472.7" cy="747.7" r="2.7"/><circle cx="474.8" cy="745.7" r="2.7"/><circle cx="481.3" cy="744.1" r="2.7"/><circle cx="483.5" cy="744.1" r="2.7"/><circle cx="485.2" cy="744.8" r="2.7"/><circle cx="489.8" cy="745.9" r="2.7"/><circle cx="490.8" cy="750.7" r="2.7"/><circle cx="491.7" cy="744.7" r="2.7"/><circle cx="492.4" cy="748.8" r="2.7"/><circle cx="494.8" cy="747.4" r="2.7"/><circle cx="496.0" cy="746.7" r="2.7"/><circle cx="498.8" cy="750.3" r="2.7"/><circle cx="496.5" cy="745.1" r="2.7"/><circle cx="499.7" cy="746.0" r="2.7"/><circle cx="499.9" cy="748.1" r="2.7"/><circle cx="501.6" cy="744.0" r="2.7"/><circle cx="501.3" cy="749.4" r="2.7"/><circle cx="501.9" cy="750.0" r="2.7"/><circle cx="504.7" cy="751.0" r="2.7"/><circle cx="505.7" cy="747.2" r="2.7"/><circle cx="506.2" cy="747.0" r="2.7"/><circle cx="508.5" cy="748.3" r="2.7"/><circle cx="509.8" cy="748.4" r="2.7"/><circle cx="509.2" cy="743.6" r="2.7"/><circle cx="513.1" cy="749.7" r="2.7"/><circle cx="512.5" cy="749.2" r="2.7"/><circle cx="516.2" cy="748.8" r="2.7"/><circle cx="515.9" cy="747.5" r="2.7"/><circle cx="515.5" cy="749.0" r="2.7"/><circle cx="518.1" cy="750.7" r="2.7"/><circle cx="519.6" cy="746.0" r="2.7"/><circle cx="523.2" cy="750.4" r="2.7"/><circle cx="522.4" cy="747.7" r="2.7"/><circle cx="523.8" cy="749.2" r="2.7"/><circle cx="522.2" cy="748.4" r="2.7"/><circle cx="525.1" cy="752.1" r="2.7"/><circle cx="526.6" cy="744.6" r="2.7"/><circle cx="528.9" cy="749.8" r="2.7"/><circle cx="528.8" cy="745.5" r="2.7"/><circle cx="529.7" cy="746.9" r="2.7"/><circle cx="533.8" cy="750.0" r="2.7"/><circle cx="533.4" cy="752.9" r="2.7"/><circle cx="533.2" cy="749.2" r="2.7"/><circle cx="535.7" cy="749.5" r="2.7"/><circle cx="535.1" cy="748.3" r="2.7"/><circle cx="538.8" cy="746.0" r="2.7"/><circle cx="540.9" cy="745.3" r="2.7"/><circle cx="540.2" cy="748.4" r="2.7"/><circle cx="540.5" cy="747.5" r="2.7"/><circle cx="542.2" cy="744.9" r="2.7"/><circle cx="545.1" cy="749.4" r="2.7"/><circle cx="545.5" cy="752.6" r="2.7"/><circle cx="547.1" cy="746.1" r="2.7"/><circle cx="548.5" cy="751.1" r="2.7"/><circle cx="548.4" cy="745.8" r="2.7"/><circle cx="548.3" cy="749.8" r="2.7"/><circle cx="551.9" cy="752.0" r="2.7"/><circle cx="551.5" cy="748.8" r="2.7"/><circle cx="553.3" cy="747.3" r="2.7"/><circle cx="553.3" cy="746.6" r="2.7"/><circle cx="556.7" cy="750.6" r="2.7"/><circle cx="557.1" cy="747.2" r="2.7"/><circle cx="557.3" cy="747.3" r="2.7"/><circle cx="560.1" cy="744.3" r="2.7"/><circle cx="560.0" cy="750.3" r="2.7"/><circle cx="562.2" cy="744.9" r="2.7"/><circle cx="564.3" cy="749.1" r="2.7"/><circle cx="563.8" cy="746.4" r="2.7"/><circle cx="565.9" cy="746.1" r="2.7"/><circle cx="566.9" cy="749.6" r="2.7"/><circle cx="567.8" cy="749.1" r="2.7"/><circle cx="567.8" cy="748.6" r="2.7"/><circle cx="569.3" cy="746.3" r="2.7"/><circle cx="571.5" cy="744.6" r="2.7"/><circle cx="573.8" cy="748.2" r="2.7"/><circle cx="572.3" cy="746.1" r="2.7"/><circle cx="572.8" cy="741.0" r="2.7"/><circle cx="574.6" cy="745.2" r="2.7"/><circle cx="578.1" cy="741.0" r="2.7"/><circle cx="579.6" cy="743.7" r="2.7"/><circle cx="577.9" cy="745.4" r="2.7"/><circle cx="581.3" cy="746.6" r="2.7"/><circle cx="581.7" cy="754.3" r="2.7"/><circle cx="583.3" cy="744.9" r="2.7"/><circle cx="584.4" cy="746.3" r="2.7"/><circle cx="585.8" cy="747.6" r="2.7"/><circle cx="589.1" cy="749.7" r="2.7"/><circle cx="590.0" cy="750.4" r="2.7"/><circle cx="588.0" cy="747.5" r="2.7"/><circle cx="592.4" cy="745.3" r="2.7"/><circle cx="594.8" cy="747.8" r="2.7"/><circle cx="592.2" cy="753.4" r="2.7"/><circle cx="593.1" cy="748.0" r="2.7"/><circle cx="594.9" cy="751.4" r="2.7"/><circle cx="595.0" cy="750.1" r="2.7"/><circle cx="595.8" cy="749.2" r="2.7"/><circle cx="596.0" cy="754.5" r="2.7"/><circle cx="599.2" cy="749.9" r="2.7"/><circle cx="600.5" cy="751.4" r="2.7"/><circle cx="603.1" cy="752.8" r="2.7"/><circle cx="601.0" cy="756.4" r="2.7"/><circle cx="603.6" cy="755.1" r="2.7"/><circle cx="605.0" cy="755.7" r="2.7"/><circle cx="603.1" cy="757.3" r="2.7"/><circle cx="607.6" cy="758.5" r="2.7"/><circle cx="602.9" cy="760.5" r="2.7"/><circle cx="610.1" cy="756.0" r="2.7"/><circle cx="610.1" cy="758.6" r="2.7"/><circle cx="610.5" cy="761.4" r="2.7"/><circle cx="609.5" cy="758.8" r="2.7"/><circle cx="608.4" cy="755.3" r="2.7"/><circle cx="613.5" cy="761.4" r="2.7"/><circle cx="612.3" cy="757.4" r="2.7"/><circle cx="612.3" cy="755.0" r="2.7"/><circle cx="612.9" cy="754.7" r="2.7"/><circle cx="617.7" cy="755.8" r="2.7"/><circle cx="616.1" cy="753.0" r="2.7"/><circle cx="615.4" cy="752.2" r="2.7"/><circle cx="623.1" cy="752.7" r="2.7"/><circle cx="615.5" cy="749.2" r="2.7"/><circle cx="618.3" cy="750.3" r="2.7"/><circle cx="620.8" cy="746.7" r="2.7"/><circle cx="458.0" cy="751.5" r="2.7"/><circle cx="476.0" cy="750.5" r="2.7"/><circle cx="503.0" cy="754.0" r="2.7"/><circle cx="493.0" cy="753.0" r="2.7"/><circle cx="509.0" cy="752.0" r="2.7"/><circle cx="568.0" cy="753.0" r="2.7"/><circle cx="574.0" cy="754.0" r="2.7"/><circle cx="545.0" cy="752.0" r="2.7"/><circle cx="537.0" cy="751.5" r="2.7"/></g>
<g fill="#a2d829"><circle cx="146.3" cy="600.5" r="2.7"/><circle cx="147.4" cy="603.9" r="2.7"/><circle cx="149.0" cy="603.3" r="2.7"/><circle cx="149.3" cy="600.9" r="2.7"/><circle cx="150.6" cy="601.3" r="2.7"/><circle cx="149.9" cy="601.9" r="2.7"/><circle cx="150.4" cy="601.4" r="2.7"/><circle cx="151.6" cy="601.4" r="2.7"/><circle cx="151.9" cy="600.8" r="2.7"/><circle cx="152.5" cy="602.6" r="2.7"/><circle cx="151.3" cy="603.2" r="2.7"/><circle cx="153.8" cy="602.4" r="2.7"/><circle cx="152.1" cy="599.5" r="2.7"/><circle cx="153.2" cy="601.9" r="2.7"/><circle cx="155.7" cy="599.6" r="2.7"/><circle cx="154.6" cy="601.6" r="2.7"/><circle cx="155.4" cy="601.4" r="2.7"/><circle cx="155.1" cy="601.7" r="2.7"/><circle cx="157.1" cy="602.2" r="2.7"/><circle cx="155.5" cy="600.1" r="2.7"/><circle cx="156.7" cy="600.8" r="2.7"/><circle cx="158.3" cy="602.0" r="2.7"/><circle cx="158.1" cy="600.7" r="2.7"/><circle cx="158.8" cy="600.7" r="2.7"/><circle cx="158.3" cy="602.7" r="2.7"/><circle cx="159.4" cy="601.5" r="2.7"/><circle cx="160.0" cy="602.2" r="2.7"/><circle cx="160.9" cy="599.8" r="2.7"/><circle cx="160.3" cy="603.3" r="2.7"/><circle cx="160.4" cy="601.0" r="2.7"/><circle cx="162.6" cy="603.9" r="2.7"/><circle cx="163.2" cy="600.0" r="2.7"/><circle cx="163.1" cy="603.0" r="2.7"/><circle cx="164.5" cy="602.8" r="2.7"/><circle cx="163.7" cy="600.0" r="2.7"/><circle cx="164.9" cy="600.7" r="2.7"/><circle cx="164.7" cy="600.6" r="2.7"/><circle cx="166.4" cy="600.8" r="2.7"/><circle cx="165.6" cy="602.6" r="2.7"/><circle cx="166.9" cy="601.8" r="2.7"/><circle cx="167.0" cy="598.3" r="2.7"/><circle cx="166.8" cy="600.6" r="2.7"/><circle cx="168.0" cy="601.6" r="2.7"/><circle cx="167.1" cy="601.7" r="2.7"/><circle cx="169.9" cy="601.3" r="2.7"/><circle cx="168.6" cy="600.2" r="2.7"/><circle cx="170.9" cy="600.9" r="2.7"/><circle cx="169.6" cy="600.8" r="2.7"/><circle cx="170.6" cy="600.1" r="2.7"/><circle cx="169.7" cy="601.0" r="2.7"/><circle cx="171.9" cy="603.7" r="2.7"/><circle cx="172.7" cy="602.4" r="2.7"/><circle cx="172.9" cy="600.0" r="2.7"/><circle cx="171.7" cy="597.8" r="2.7"/><circle cx="174.7" cy="603.1" r="2.7"/><circle cx="175.0" cy="599.2" r="2.7"/><circle cx="174.2" cy="603.1" r="2.7"/><circle cx="175.1" cy="602.6" r="2.7"/><circle cx="176.7" cy="602.5" r="2.7"/><circle cx="176.8" cy="602.5" r="2.7"/><circle cx="176.6" cy="604.4" r="2.7"/><circle cx="178.8" cy="600.5" r="2.7"/><circle cx="178.1" cy="602.3" r="2.7"/><circle cx="178.8" cy="604.5" r="2.7"/><circle cx="179.7" cy="603.9" r="2.7"/><circle cx="180.5" cy="601.6" r="2.7"/><circle cx="179.8" cy="599.7" r="2.7"/><circle cx="181.2" cy="601.0" r="2.7"/><circle cx="181.9" cy="601.8" r="2.7"/><circle cx="181.0" cy="599.3" r="2.7"/><circle cx="182.7" cy="602.1" r="2.7"/><circle cx="182.3" cy="601.4" r="2.7"/><circle cx="183.4" cy="601.8" r="2.7"/><circle cx="184.0" cy="603.6" r="2.7"/><circle cx="185.0" cy="600.4" r="2.7"/><circle cx="184.6" cy="599.7" r="2.7"/><circle cx="185.3" cy="599.7" r="2.7"/><circle cx="185.4" cy="602.5" r="2.7"/><circle cx="185.1" cy="598.4" r="2.7"/><circle cx="186.7" cy="601.9" r="2.7"/><circle cx="187.0" cy="601.9" r="2.7"/><circle cx="187.6" cy="601.4" r="2.7"/><circle cx="188.4" cy="602.3" r="2.7"/><circle cx="187.9" cy="602.1" r="2.7"/><circle cx="189.0" cy="599.7" r="2.7"/><circle cx="190.5" cy="599.0" r="2.7"/><circle cx="190.6" cy="604.5" r="2.7"/><circle cx="191.5" cy="601.4" r="2.7"/><circle cx="192.6" cy="603.9" r="2.7"/><circle cx="192.4" cy="604.0" r="2.7"/><circle cx="192.9" cy="601.4" r="2.7"/><circle cx="193.8" cy="603.7" r="2.7"/><circle cx="193.4" cy="600.2" r="2.7"/><circle cx="193.3" cy="599.6" r="2.7"/><circle cx="193.5" cy="601.0" r="2.7"/><circle cx="193.2" cy="603.0" r="2.7"/><circle cx="195.6" cy="604.1" r="2.7"/><circle cx="195.4" cy="603.1" r="2.7"/><circle cx="195.6" cy="600.1" r="2.7"/><circle cx="197.0" cy="600.6" r="2.7"/><circle cx="196.0" cy="600.2" r="2.7"/><circle cx="197.9" cy="602.4" r="2.7"/><circle cx="198.2" cy="599.9" r="2.7"/><circle cx="198.6" cy="602.9" r="2.7"/><circle cx="198.5" cy="602.9" r="2.7"/><circle cx="198.9" cy="602.0" r="2.7"/><circle cx="199.7" cy="596.6" r="2.7"/><circle cx="200.0" cy="601.5" r="2.7"/><circle cx="200.6" cy="604.3" r="2.7"/><circle cx="202.2" cy="602.6" r="2.7"/><circle cx="203.3" cy="602.5" r="2.7"/><circle cx="203.0" cy="599.8" r="2.7"/><circle cx="202.8" cy="600.2" r="2.7"/><circle cx="203.0" cy="599.8" r="2.7"/><circle cx="203.6" cy="600.4" r="2.7"/><circle cx="204.1" cy="599.1" r="2.7"/><circle cx="205.1" cy="601.0" r="2.7"/><circle cx="205.6" cy="598.2" r="2.7"/><circle cx="205.6" cy="599.7" r="2.7"/><circle cx="207.3" cy="599.1" r="2.7"/><circle cx="208.4" cy="602.9" r="2.7"/><circle cx="208.2" cy="602.4" r="2.7"/><circle cx="207.3" cy="600.8" r="2.7"/><circle cx="210.1" cy="600.8" r="2.7"/><circle cx="208.7" cy="598.2" r="2.7"/><circle cx="210.9" cy="603.6" r="2.7"/><circle cx="210.1" cy="598.6" r="2.7"/><circle cx="210.2" cy="602.9" r="2.7"/><circle cx="210.8" cy="601.8" r="2.7"/><circle cx="212.3" cy="598.5" r="2.7"/><circle cx="211.5" cy="600.8" r="2.7"/><circle cx="213.4" cy="600.1" r="2.7"/><circle cx="214.0" cy="599.6" r="2.7"/><circle cx="214.3" cy="603.9" r="2.7"/><circle cx="214.3" cy="601.0" r="2.7"/><circle cx="214.4" cy="599.5" r="2.7"/><circle cx="215.8" cy="601.1" r="2.7"/><circle cx="215.9" cy="601.9" r="2.7"/><circle cx="216.4" cy="599.5" r="2.7"/><circle cx="216.2" cy="600.0" r="2.7"/><circle cx="218.7" cy="603.4" r="2.7"/><circle cx="219.0" cy="601.1" r="2.7"/><circle cx="219.8" cy="600.5" r="2.7"/><circle cx="219.3" cy="601.5" r="2.7"/><circle cx="218.4" cy="598.9" r="2.7"/><circle cx="220.0" cy="598.4" r="2.7"/><circle cx="220.3" cy="600.5" r="2.7"/><circle cx="220.7" cy="599.9" r="2.7"/><circle cx="220.9" cy="601.5" r="2.7"/><circle cx="220.4" cy="600.3" r="2.7"/><circle cx="223.0" cy="601.6" r="2.7"/><circle cx="223.2" cy="600.1" r="2.7"/><circle cx="223.6" cy="602.2" r="2.7"/><circle cx="223.5" cy="602.7" r="2.7"/><circle cx="223.8" cy="601.7" r="2.7"/><circle cx="224.5" cy="603.9" r="2.7"/><circle cx="226.8" cy="600.3" r="2.7"/><circle cx="226.2" cy="601.5" r="2.7"/><circle cx="226.6" cy="600.4" r="2.7"/><circle cx="226.9" cy="601.4" r="2.7"/><circle cx="226.6" cy="599.9" r="2.7"/><circle cx="227.4" cy="599.8" r="2.7"/><circle cx="227.9" cy="600.3" r="2.7"/><circle cx="227.9" cy="596.9" r="2.7"/><circle cx="230.0" cy="601.5" r="2.7"/><circle cx="229.0" cy="603.5" r="2.7"/><circle cx="232.4" cy="600.1" r="2.7"/><circle cx="230.3" cy="599.7" r="2.7"/><circle cx="233.2" cy="601.2" r="2.7"/><circle cx="231.4" cy="599.4" r="2.7"/><circle cx="232.3" cy="599.3" r="2.7"/><circle cx="232.1" cy="600.1" r="2.7"/><circle cx="233.8" cy="602.3" r="2.7"/><circle cx="234.9" cy="600.8" r="2.7"/><circle cx="234.8" cy="600.3" r="2.7"/><circle cx="233.4" cy="600.6" r="2.7"/><circle cx="235.2" cy="600.7" r="2.7"/><circle cx="234.7" cy="599.2" r="2.7"/><circle cx="235.9" cy="600.7" r="2.7"/><circle cx="237.8" cy="602.7" r="2.7"/><circle cx="238.7" cy="600.5" r="2.7"/><circle cx="237.4" cy="599.9" r="2.7"/><circle cx="238.3" cy="599.5" r="2.7"/><circle cx="238.9" cy="600.6" r="2.7"/><circle cx="239.1" cy="600.4" r="2.7"/><circle cx="240.5" cy="599.8" r="2.7"/><circle cx="241.0" cy="603.0" r="2.7"/><circle cx="239.9" cy="602.1" r="2.7"/><circle cx="241.3" cy="602.5" r="2.7"/><circle cx="243.1" cy="601.0" r="2.7"/><circle cx="241.7" cy="600.9" r="2.7"/><circle cx="242.2" cy="597.9" r="2.7"/><circle cx="243.1" cy="602.2" r="2.7"/><circle cx="244.1" cy="601.6" r="2.7"/><circle cx="244.6" cy="602.8" r="2.7"/><circle cx="245.6" cy="601.5" r="2.7"/><circle cx="245.6" cy="598.6" r="2.7"/><circle cx="245.8" cy="600.0" r="2.7"/><circle cx="245.7" cy="601.4" r="2.7"/><circle cx="247.6" cy="598.8" r="2.7"/><circle cx="247.4" cy="599.1" r="2.7"/><circle cx="248.7" cy="598.2" r="2.7"/><circle cx="248.1" cy="601.2" r="2.7"/><circle cx="247.2" cy="601.1" r="2.7"/><circle cx="249.8" cy="602.5" r="2.7"/><circle cx="250.6" cy="599.9" r="2.7"/><circle cx="250.9" cy="600.5" r="2.7"/><circle cx="250.6" cy="601.4" r="2.7"/><circle cx="252.2" cy="600.8" r="2.7"/><circle cx="251.5" cy="600.7" r="2.7"/><circle cx="252.8" cy="599.7" r="2.7"/><circle cx="251.8" cy="603.2" r="2.7"/><circle cx="254.0" cy="601.0" r="2.7"/><circle cx="253.3" cy="598.7" r="2.7"/><circle cx="255.8" cy="603.7" r="2.7"/><circle cx="255.1" cy="600.9" r="2.7"/><circle cx="256.2" cy="599.4" r="2.7"/><circle cx="256.1" cy="600.6" r="2.7"/><circle cx="257.4" cy="599.6" r="2.7"/><circle cx="256.8" cy="599.5" r="2.7"/><circle cx="257.8" cy="599.3" r="2.7"/><circle cx="258.4" cy="602.2" r="2.7"/><circle cx="258.7" cy="605.6" r="2.7"/><circle cx="258.8" cy="598.2" r="2.7"/><circle cx="257.7" cy="600.4" r="2.7"/><circle cx="259.8" cy="601.7" r="2.7"/><circle cx="261.4" cy="598.9" r="2.7"/><circle cx="260.7" cy="601.4" r="2.7"/><circle cx="261.8" cy="601.9" r="2.7"/><circle cx="262.1" cy="599.4" r="2.7"/><circle cx="262.9" cy="602.2" r="2.7"/><circle cx="262.4" cy="603.4" r="2.7"/><circle cx="264.2" cy="601.1" r="2.7"/><circle cx="264.2" cy="602.8" r="2.7"/><circle cx="263.4" cy="600.3" r="2.7"/><circle cx="265.2" cy="595.6" r="2.7"/><circle cx="265.9" cy="601.2" r="2.7"/><circle cx="266.4" cy="602.3" r="2.7"/><circle cx="266.4" cy="601.5" r="2.7"/><circle cx="265.6" cy="602.7" r="2.7"/><circle cx="266.9" cy="600.7" r="2.7"/><circle cx="268.4" cy="598.7" r="2.7"/><circle cx="267.6" cy="602.3" r="2.7"/><circle cx="268.3" cy="602.2" r="2.7"/><circle cx="269.3" cy="603.7" r="2.7"/><circle cx="271.1" cy="600.4" r="2.7"/><circle cx="271.2" cy="601.3" r="2.7"/><circle cx="272.2" cy="600.6" r="2.7"/><circle cx="272.8" cy="603.7" r="2.7"/><circle cx="271.6" cy="601.9" r="2.7"/><circle cx="272.5" cy="600.7" r="2.7"/><circle cx="272.5" cy="600.9" r="2.7"/><circle cx="273.6" cy="600.2" r="2.7"/><circle cx="274.2" cy="599.5" r="2.7"/><circle cx="275.2" cy="601.0" r="2.7"/><circle cx="274.7" cy="602.4" r="2.7"/><circle cx="275.8" cy="599.0" r="2.7"/><circle cx="274.9" cy="600.7" r="2.7"/><circle cx="275.4" cy="601.6" r="2.7"/><circle cx="275.9" cy="601.3" r="2.7"/><circle cx="278.7" cy="599.5" r="2.7"/><circle cx="277.4" cy="601.6" r="2.7"/><circle cx="277.4" cy="599.3" r="2.7"/><circle cx="277.5" cy="601.4" r="2.7"/><circle cx="277.7" cy="599.9" r="2.7"/><circle cx="279.9" cy="602.0" r="2.7"/><circle cx="280.1" cy="601.1" r="2.7"/><circle cx="280.2" cy="601.1" r="2.7"/><circle cx="280.8" cy="602.2" r="2.7"/><circle cx="281.5" cy="597.8" r="2.7"/><circle cx="282.0" cy="600.2" r="2.7"/><circle cx="282.4" cy="600.2" r="2.7"/><circle cx="282.2" cy="604.8" r="2.7"/><circle cx="283.3" cy="601.4" r="2.7"/><circle cx="283.5" cy="601.9" r="2.7"/><circle cx="285.5" cy="600.9" r="2.7"/><circle cx="285.3" cy="600.7" r="2.7"/><circle cx="285.3" cy="600.3" r="2.7"/><circle cx="287.2" cy="603.3" r="2.7"/><circle cx="286.0" cy="600.2" r="2.7"/><circle cx="286.7" cy="602.0" r="2.7"/><circle cx="288.5" cy="603.9" r="2.7"/><circle cx="288.6" cy="603.9" r="2.7"/><circle cx="288.9" cy="601.1" r="2.7"/><circle cx="288.6" cy="600.2" r="2.7"/><circle cx="290.2" cy="599.0" r="2.7"/><circle cx="290.4" cy="600.3" r="2.7"/><circle cx="290.7" cy="600.3" r="2.7"/><circle cx="291.0" cy="604.2" r="2.7"/><circle cx="292.8" cy="600.6" r="2.7"/><circle cx="292.6" cy="604.7" r="2.7"/><circle cx="293.4" cy="599.9" r="2.7"/><circle cx="293.6" cy="601.9" r="2.7"/><circle cx="293.8" cy="604.6" r="2.7"/><circle cx="292.9" cy="598.9" r="2.7"/><circle cx="295.7" cy="601.4" r="2.7"/><circle cx="295.2" cy="601.5" r="2.7"/><circle cx="294.9" cy="602.3" r="2.7"/><circle cx="295.8" cy="602.5" r="2.7"/><circle cx="297.7" cy="604.5" r="2.7"/><circle cx="297.8" cy="600.7" r="2.7"/><circle cx="297.2" cy="602.4" r="2.7"/><circle cx="297.8" cy="599.8" r="2.7"/><circle cx="297.9" cy="598.8" r="2.7"/><circle cx="299.7" cy="601.9" r="2.7"/><circle cx="300.5" cy="602.3" r="2.7"/><circle cx="299.9" cy="600.3" r="2.7"/><circle cx="300.1" cy="600.7" r="2.7"/><circle cx="302.3" cy="602.0" r="2.7"/><circle cx="301.6" cy="604.4" r="2.7"/><circle cx="301.7" cy="601.6" r="2.7"/><circle cx="302.3" cy="600.9" r="2.7"/><circle cx="302.3" cy="603.1" r="2.7"/><circle cx="303.7" cy="600.5" r="2.7"/><circle cx="304.1" cy="599.9" r="2.7"/><circle cx="303.8" cy="601.5" r="2.7"/><circle cx="305.1" cy="602.5" r="2.7"/><circle cx="307.8" cy="603.6" r="2.7"/><circle cx="306.8" cy="600.7" r="2.7"/><circle cx="306.4" cy="601.5" r="2.7"/><circle cx="307.5" cy="603.9" r="2.7"/><circle cx="308.3" cy="599.3" r="2.7"/><circle cx="309.4" cy="600.3" r="2.7"/><circle cx="308.8" cy="599.7" r="2.7"/><circle cx="309.1" cy="602.5" r="2.7"/><circle cx="309.9" cy="602.4" r="2.7"/><circle cx="309.3" cy="601.5" r="2.7"/><circle cx="310.1" cy="606.1" r="2.7"/><circle cx="312.0" cy="600.3" r="2.7"/><circle cx="310.6" cy="603.2" r="2.7"/><circle cx="311.8" cy="602.0" r="2.7"/><circle cx="312.3" cy="602.2" r="2.7"/><circle cx="315.1" cy="599.7" r="2.7"/><circle cx="313.5" cy="602.5" r="2.7"/><circle cx="313.7" cy="602.8" r="2.7"/><circle cx="315.7" cy="602.2" r="2.7"/><circle cx="316.2" cy="603.4" r="2.7"/><circle cx="317.2" cy="602.0" r="2.7"/><circle cx="316.1" cy="598.6" r="2.7"/><circle cx="317.6" cy="602.8" r="2.7"/><circle cx="317.4" cy="603.2" r="2.7"/><circle cx="317.0" cy="602.9" r="2.7"/><circle cx="317.9" cy="601.7" r="2.7"/><circle cx="319.8" cy="601.3" r="2.7"/><circle cx="319.2" cy="598.3" r="2.7"/><circle cx="320.2" cy="602.0" r="2.7"/><circle cx="320.1" cy="602.3" r="2.7"/><circle cx="321.1" cy="603.0" r="2.7"/><circle cx="320.6" cy="603.0" r="2.7"/><circle cx="322.7" cy="602.0" r="2.7"/><circle cx="322.1" cy="599.4" r="2.7"/><circle cx="323.2" cy="598.6" r="2.7"/><circle cx="325.2" cy="602.6" r="2.7"/><circle cx="322.9" cy="602.1" r="2.7"/><circle cx="324.5" cy="602.6" r="2.7"/><circle cx="323.7" cy="599.9" r="2.7"/><circle cx="323.4" cy="604.6" r="2.7"/><circle cx="324.7" cy="600.7" r="2.7"/><circle cx="326.8" cy="602.7" r="2.7"/><circle cx="327.4" cy="601.5" r="2.7"/><circle cx="328.7" cy="602.7" r="2.7"/><circle cx="327.9" cy="602.8" r="2.7"/><circle cx="329.2" cy="599.9" r="2.7"/><circle cx="328.9" cy="601.2" r="2.7"/><circle cx="328.6" cy="599.5" r="2.7"/><circle cx="329.3" cy="603.7" r="2.7"/><circle cx="329.8" cy="601.5" r="2.7"/><circle cx="330.5" cy="604.4" r="2.7"/><circle cx="332.5" cy="597.0" r="2.7"/><circle cx="335.0" cy="595.0" r="2.7"/><circle cx="337.5" cy="593.8" r="2.7"/><circle cx="338.5" cy="596.5" r="2.7"/><circle cx="336.0" cy="599.0" r="2.7"/><circle cx="338.0" cy="601.5" r="2.7"/><circle cx="334.0" cy="600.5" r="2.7"/><circle cx="335.4" cy="598.2" r="2.7"/><circle cx="333.7" cy="601.6" r="2.7"/><circle cx="331.4" cy="598.9" r="2.7"/><circle cx="336.0" cy="601.0" r="2.7"/><circle cx="339.4" cy="603.2" r="2.7"/><circle cx="333.3" cy="601.7" r="2.7"/><circle cx="334.8" cy="604.0" r="2.7"/><circle cx="333.9" cy="603.7" r="2.7"/><circle cx="339.2" cy="607.9" r="2.7"/><circle cx="333.0" cy="607.7" r="2.7"/><circle cx="338.5" cy="604.7" r="2.7"/><circle cx="336.0" cy="604.0" r="2.7"/><circle cx="339.9" cy="606.5" r="2.7"/><circle cx="336.6" cy="608.6" r="2.7"/><circle cx="338.7" cy="609.9" r="2.7"/><circle cx="337.2" cy="609.7" r="2.7"/><circle cx="338.5" cy="610.6" r="2.7"/><circle cx="337.8" cy="612.2" r="2.7"/><circle cx="339.3" cy="615.6" r="2.7"/><circle cx="339.9" cy="613.2" r="2.7"/><circle cx="336.8" cy="617.2" r="2.7"/><circle cx="340.4" cy="614.6" r="2.7"/><circle cx="338.8" cy="616.0" r="2.7"/><circle cx="339.9" cy="614.9" r="2.7"/><circle cx="339.5" cy="617.1" r="2.7"/><circle cx="339.8" cy="621.2" r="2.7"/><circle cx="340.8" cy="619.3" r="2.7"/><circle cx="339.1" cy="619.8" r="2.7"/><circle cx="342.3" cy="619.9" r="2.7"/><circle cx="341.2" cy="619.9" r="2.7"/><circle cx="343.5" cy="622.8" r="2.7"/><circle cx="339.8" cy="623.9" r="2.7"/><circle cx="336.7" cy="625.9" r="2.7"/><circle cx="342.3" cy="626.8" r="2.7"/><circle cx="342.3" cy="624.0" r="2.7"/><circle cx="342.0" cy="624.9" r="2.7"/><circle cx="343.6" cy="626.7" r="2.7"/><circle cx="344.2" cy="628.0" r="2.7"/><circle cx="342.1" cy="627.9" r="2.7"/><circle cx="339.6" cy="632.1" r="2.7"/><circle cx="340.3" cy="631.2" r="2.7"/><circle cx="343.2" cy="632.6" r="2.7"/><circle cx="341.0" cy="631.5" r="2.7"/><circle cx="343.8" cy="617.5" r="2.7"/><circle cx="342.5" cy="630.0" r="2.7"/><circle cx="340.5" cy="625.0" r="2.7"/><circle cx="344.0" cy="622.0" r="2.7"/><circle cx="326.0" cy="628.5" r="2.7"/><circle cx="325.2" cy="635.2" r="2.7"/><circle cx="326.2" cy="637.5" r="2.7"/><circle cx="326.5" cy="637.6" r="2.7"/><circle cx="326.7" cy="640.5" r="2.7"/><circle cx="325.5" cy="640.2" r="2.7"/><circle cx="329.1" cy="644.6" r="2.7"/><circle cx="330.0" cy="638.2" r="2.7"/><circle cx="329.3" cy="641.5" r="2.7"/><circle cx="329.8" cy="644.1" r="2.7"/><circle cx="329.4" cy="645.0" r="2.7"/><circle cx="332.7" cy="644.7" r="2.7"/><circle cx="329.9" cy="648.4" r="2.7"/><circle cx="328.7" cy="646.1" r="2.7"/><circle cx="331.5" cy="647.3" r="2.7"/><circle cx="328.1" cy="645.9" r="2.7"/><circle cx="332.5" cy="647.8" r="2.7"/><circle cx="331.0" cy="645.2" r="2.7"/><circle cx="328.9" cy="647.0" r="2.7"/><circle cx="332.2" cy="647.6" r="2.7"/><circle cx="330.0" cy="653.6" r="2.7"/><circle cx="331.2" cy="651.5" r="2.7"/><circle cx="332.0" cy="655.5" r="2.7"/><circle cx="334.5" cy="653.0" r="2.7"/><circle cx="329.6" cy="653.9" r="2.7"/><circle cx="333.7" cy="655.2" r="2.7"/><circle cx="333.5" cy="656.8" r="2.7"/><circle cx="337.1" cy="658.2" r="2.7"/><circle cx="337.7" cy="658.0" r="2.7"/><circle cx="334.8" cy="655.3" r="2.7"/><circle cx="337.5" cy="656.6" r="2.7"/><circle cx="335.5" cy="658.8" r="2.7"/><circle cx="337.1" cy="654.4" r="2.7"/><circle cx="337.3" cy="655.1" r="2.7"/><circle cx="336.0" cy="656.7" r="2.7"/><circle cx="341.1" cy="656.3" r="2.7"/><circle cx="339.1" cy="657.6" r="2.7"/><circle cx="342.0" cy="661.0" r="2.7"/><circle cx="339.2" cy="662.5" r="2.7"/><circle cx="340.4" cy="661.1" r="2.7"/><circle cx="341.0" cy="665.0" r="2.7"/><circle cx="339.8" cy="661.6" r="2.7"/><circle cx="344.0" cy="663.6" r="2.7"/><circle cx="342.9" cy="662.3" r="2.7"/><circle cx="343.4" cy="666.5" r="2.7"/><circle cx="344.6" cy="665.3" r="2.7"/><circle cx="346.5" cy="665.0" r="2.7"/><circle cx="348.2" cy="666.2" r="2.7"/><circle cx="350.9" cy="666.4" r="2.7"/><circle cx="345.6" cy="668.3" r="2.7"/><circle cx="346.0" cy="667.4" r="2.7"/><circle cx="349.1" cy="668.8" r="2.7"/><circle cx="346.2" cy="671.5" r="2.7"/><circle cx="345.5" cy="672.9" r="2.7"/><circle cx="350.1" cy="673.9" r="2.7"/><circle cx="345.2" cy="675.3" r="2.7"/><circle cx="346.2" cy="674.3" r="2.7"/><circle cx="345.0" cy="672.7" r="2.7"/><circle cx="346.0" cy="679.8" r="2.7"/><circle cx="349.8" cy="675.6" r="2.7"/><circle cx="349.1" cy="673.6" r="2.7"/><circle cx="347.9" cy="679.4" r="2.7"/><circle cx="349.9" cy="680.1" r="2.7"/><circle cx="348.7" cy="678.0" r="2.7"/><circle cx="347.6" cy="678.9" r="2.7"/><circle cx="345.1" cy="682.1" r="2.7"/><circle cx="347.9" cy="679.4" r="2.7"/><circle cx="348.7" cy="680.0" r="2.7"/><circle cx="341.7" cy="682.5" r="2.7"/><circle cx="347.4" cy="687.8" r="2.7"/><circle cx="344.8" cy="684.0" r="2.7"/><circle cx="345.9" cy="682.1" r="2.7"/><circle cx="345.0" cy="690.0" r="2.7"/><circle cx="348.0" cy="687.3" r="2.7"/><circle cx="345.9" cy="688.3" r="2.7"/><circle cx="342.1" cy="684.9" r="2.7"/><circle cx="347.8" cy="691.2" r="2.7"/><circle cx="346.3" cy="687.2" r="2.7"/><circle cx="343.6" cy="688.4" r="2.7"/><circle cx="342.7" cy="693.4" r="2.7"/><circle cx="342.8" cy="692.0" r="2.7"/><circle cx="346.6" cy="689.4" r="2.7"/><circle cx="345.3" cy="695.2" r="2.7"/><circle cx="343.7" cy="696.6" r="2.7"/><circle cx="342.7" cy="691.0" r="2.7"/><circle cx="341.0" cy="696.9" r="2.7"/><circle cx="344.8" cy="699.0" r="2.7"/><circle cx="342.3" cy="698.1" r="2.7"/><circle cx="341.4" cy="695.8" r="2.7"/><circle cx="341.9" cy="701.4" r="2.7"/><circle cx="343.1" cy="699.1" r="2.7"/><circle cx="340.3" cy="698.2" r="2.7"/><circle cx="345.0" cy="700.2" r="2.7"/><circle cx="339.8" cy="705.7" r="2.7"/><circle cx="340.3" cy="700.5" r="2.7"/><circle cx="341.0" cy="704.6" r="2.7"/><circle cx="338.5" cy="704.8" r="2.7"/><circle cx="339.7" cy="705.6" r="2.7"/><circle cx="342.3" cy="706.2" r="2.7"/><circle cx="338.3" cy="706.2" r="2.7"/><circle cx="338.3" cy="707.9" r="2.7"/><circle cx="341.4" cy="711.3" r="2.7"/><circle cx="340.0" cy="711.5" r="2.7"/><circle cx="340.5" cy="709.5" r="2.7"/><circle cx="339.0" cy="712.6" r="2.7"/><circle cx="341.5" cy="707.3" r="2.7"/><circle cx="342.1" cy="712.3" r="2.7"/><circle cx="341.3" cy="714.3" r="2.7"/><circle cx="340.0" cy="710.0" r="2.7"/><circle cx="342.3" cy="713.2" r="2.7"/><circle cx="338.3" cy="709.4" r="2.7"/><circle cx="339.7" cy="714.7" r="2.7"/><circle cx="342.5" cy="717.3" r="2.7"/><circle cx="344.5" cy="716.6" r="2.7"/><circle cx="345.7" cy="716.0" r="2.7"/><circle cx="347.3" cy="717.6" r="2.7"/><circle cx="345.5" cy="716.8" r="2.7"/><circle cx="345.0" cy="721.0" r="2.7"/><circle cx="345.5" cy="720.8" r="2.7"/><circle cx="348.8" cy="719.2" r="2.7"/><circle cx="346.5" cy="719.2" r="2.7"/><circle cx="348.0" cy="720.4" r="2.7"/><circle cx="350.0" cy="719.4" r="2.7"/><circle cx="350.9" cy="725.0" r="2.7"/><circle cx="347.0" cy="722.6" r="2.7"/><circle cx="347.4" cy="723.7" r="2.7"/><circle cx="347.6" cy="725.7" r="2.7"/><circle cx="347.6" cy="726.5" r="2.7"/><circle cx="349.3" cy="728.5" r="2.7"/><circle cx="345.6" cy="728.9" r="2.7"/><circle cx="349.7" cy="726.7" r="2.7"/><circle cx="349.9" cy="730.6" r="2.7"/><circle cx="348.7" cy="728.1" r="2.7"/><circle cx="345.8" cy="731.8" r="2.7"/><circle cx="352.5" cy="665.0" r="2.7"/><circle cx="350.0" cy="664.0" r="2.7"/><circle cx="339.0" cy="672.0" r="2.7"/><circle cx="352.0" cy="689.0" r="2.7"/><circle cx="351.0" cy="726.0" r="2.7"/><circle cx="353.0" cy="721.0" r="2.7"/><circle cx="338.5" cy="720.0" r="2.7"/><circle cx="349.0" cy="707.0" r="2.7"/><circle cx="349.0" cy="738.9" r="2.7"/><circle cx="343.5" cy="741.9" r="2.7"/><circle cx="345.2" cy="743.6" r="2.7"/><circle cx="346.4" cy="742.0" r="2.7"/><circle cx="348.2" cy="742.0" r="2.7"/><circle cx="347.4" cy="743.1" r="2.7"/><circle cx="345.7" cy="746.1" r="2.7"/><circle cx="349.9" cy="745.4" r="2.7"/><circle cx="345.0" cy="747.6" r="2.7"/><circle cx="348.9" cy="744.2" r="2.7"/><circle cx="350.1" cy="743.6" r="2.7"/><circle cx="348.4" cy="747.2" r="2.7"/><circle cx="347.4" cy="747.9" r="2.7"/><circle cx="348.1" cy="745.4" r="2.7"/><circle cx="348.2" cy="747.3" r="2.7"/><circle cx="352.1" cy="746.0" r="2.7"/><circle cx="342.4" cy="751.8" r="2.7"/><circle cx="348.5" cy="747.0" r="2.7"/><circle cx="349.2" cy="747.2" r="2.7"/><circle cx="349.7" cy="748.5" r="2.7"/><circle cx="349.5" cy="752.3" r="2.7"/><circle cx="350.3" cy="749.5" r="2.7"/><circle cx="352.1" cy="749.0" r="2.7"/><circle cx="353.3" cy="750.3" r="2.7"/><circle cx="350.8" cy="749.8" r="2.7"/><circle cx="350.5" cy="753.1" r="2.7"/><circle cx="349.3" cy="750.2" r="2.7"/><circle cx="353.0" cy="755.1" r="2.7"/><circle cx="351.4" cy="751.7" r="2.7"/><circle cx="355.1" cy="751.9" r="2.7"/><circle cx="350.4" cy="754.3" r="2.7"/><circle cx="355.3" cy="754.3" r="2.7"/><circle cx="353.1" cy="756.1" r="2.7"/><circle cx="351.8" cy="756.2" r="2.7"/><circle cx="358.2" cy="753.5" r="2.7"/><circle cx="354.0" cy="757.0" r="2.7"/><circle cx="354.1" cy="757.4" r="2.7"/><circle cx="354.9" cy="757.8" r="2.7"/><circle cx="358.2" cy="754.5" r="2.7"/><circle cx="359.8" cy="757.8" r="2.7"/><circle cx="356.1" cy="758.1" r="2.7"/><circle cx="356.0" cy="757.7" r="2.7"/><circle cx="359.0" cy="756.0" r="2.7"/><circle cx="356.5" cy="758.0" r="2.7"/><circle cx="358.4" cy="756.7" r="2.7"/><circle cx="362.9" cy="758.2" r="2.7"/><circle cx="360.0" cy="761.0" r="2.7"/><circle cx="358.4" cy="757.7" r="2.7"/><circle cx="363.3" cy="756.9" r="2.7"/><circle cx="361.9" cy="755.9" r="2.7"/><circle cx="362.2" cy="758.7" r="2.7"/><circle cx="363.0" cy="763.0" r="2.7"/><circle cx="361.8" cy="758.6" r="2.7"/><circle cx="363.1" cy="761.5" r="2.7"/><circle cx="362.1" cy="762.4" r="2.7"/><circle cx="360.6" cy="762.4" r="2.7"/><circle cx="365.5" cy="761.8" r="2.7"/><circle cx="364.6" cy="761.8" r="2.7"/><circle cx="367.2" cy="761.3" r="2.7"/><circle cx="362.8" cy="766.1" r="2.7"/><circle cx="362.8" cy="765.8" r="2.7"/><circle cx="365.8" cy="763.7" r="2.7"/><circle cx="366.0" cy="765.1" r="2.7"/><circle cx="366.2" cy="765.1" r="2.7"/><circle cx="366.8" cy="764.4" r="2.7"/><circle cx="367.5" cy="764.7" r="2.7"/><circle cx="366.0" cy="766.5" r="2.7"/><circle cx="367.0" cy="766.4" r="2.7"/><circle cx="370.1" cy="766.7" r="2.7"/><circle cx="370.0" cy="762.9" r="2.7"/><circle cx="372.5" cy="759.3" r="2.7"/><circle cx="368.9" cy="766.7" r="2.7"/><circle cx="371.6" cy="765.3" r="2.7"/><circle cx="371.2" cy="766.4" r="2.7"/><circle cx="372.0" cy="767.6" r="2.7"/><circle cx="371.0" cy="766.9" r="2.7"/><circle cx="370.5" cy="767.2" r="2.7"/><circle cx="371.8" cy="766.0" r="2.7"/><circle cx="374.5" cy="768.9" r="2.7"/><circle cx="372.1" cy="768.9" r="2.7"/><circle cx="374.2" cy="768.1" r="2.7"/><circle cx="372.0" cy="771.7" r="2.7"/><circle cx="377.2" cy="763.9" r="2.7"/><circle cx="375.6" cy="769.5" r="2.7"/><circle cx="374.4" cy="771.1" r="2.7"/><circle cx="374.9" cy="774.7" r="2.7"/><circle cx="374.7" cy="771.0" r="2.7"/><circle cx="375.2" cy="769.5" r="2.7"/><circle cx="374.2" cy="772.5" r="2.7"/><circle cx="378.4" cy="773.9" r="2.7"/><circle cx="375.6" cy="771.9" r="2.7"/><circle cx="378.9" cy="772.8" r="2.7"/><circle cx="376.5" cy="771.7" r="2.7"/><circle cx="377.8" cy="773.6" r="2.7"/><circle cx="380.8" cy="772.0" r="2.7"/><circle cx="383.1" cy="769.4" r="2.7"/><circle cx="384.0" cy="771.2" r="2.7"/><circle cx="379.4" cy="774.3" r="2.7"/><circle cx="381.0" cy="777.0" r="2.7"/><circle cx="382.3" cy="773.3" r="2.7"/><circle cx="378.9" cy="775.6" r="2.7"/><circle cx="382.4" cy="773.8" r="2.7"/><circle cx="385.5" cy="774.3" r="2.7"/><circle cx="384.9" cy="777.0" r="2.7"/><circle cx="385.0" cy="777.0" r="2.7"/><circle cx="385.6" cy="771.8" r="2.7"/><circle cx="383.2" cy="779.5" r="2.7"/><circle cx="388.5" cy="773.6" r="2.7"/><circle cx="382.8" cy="776.6" r="2.7"/><circle cx="383.7" cy="777.1" r="2.7"/><circle cx="388.4" cy="776.6" r="2.7"/><circle cx="387.4" cy="777.4" r="2.7"/><circle cx="391.0" cy="773.1" r="2.7"/><circle cx="387.4" cy="775.3" r="2.7"/><circle cx="384.5" cy="782.7" r="2.7"/><circle cx="386.0" cy="780.0" r="2.7"/><circle cx="388.0" cy="780.4" r="2.7"/><circle cx="388.7" cy="782.5" r="2.7"/><circle cx="389.1" cy="781.1" r="2.7"/><circle cx="391.5" cy="777.5" r="2.7"/><circle cx="391.3" cy="778.8" r="2.7"/><circle cx="392.0" cy="780.5" r="2.7"/><circle cx="388.4" cy="782.6" r="2.7"/><circle cx="391.6" cy="782.6" r="2.7"/><circle cx="391.0" cy="782.2" r="2.7"/><circle cx="390.3" cy="784.9" r="2.7"/><circle cx="393.7" cy="784.5" r="2.7"/><circle cx="394.6" cy="781.0" r="2.7"/><circle cx="390.5" cy="784.5" r="2.7"/><circle cx="393.3" cy="784.6" r="2.7"/><circle cx="393.7" cy="784.7" r="2.7"/><circle cx="393.5" cy="782.3" r="2.7"/><circle cx="396.0" cy="784.3" r="2.7"/><circle cx="397.4" cy="783.6" r="2.7"/><circle cx="396.1" cy="783.4" r="2.7"/><circle cx="395.4" cy="790.2" r="2.7"/><circle cx="396.3" cy="785.2" r="2.7"/><circle cx="395.8" cy="786.5" r="2.7"/><circle cx="395.6" cy="785.5" r="2.7"/><circle cx="395.1" cy="787.6" r="2.7"/><circle cx="394.3" cy="788.3" r="2.7"/><circle cx="403.8" cy="785.6" r="2.7"/><circle cx="397.1" cy="789.9" r="2.7"/><circle cx="397.7" cy="790.6" r="2.7"/><circle cx="399.5" cy="786.4" r="2.7"/><circle cx="401.8" cy="788.8" r="2.7"/><circle cx="398.1" cy="788.4" r="2.7"/><circle cx="399.7" cy="787.7" r="2.7"/><circle cx="401.9" cy="787.2" r="2.7"/><circle cx="401.4" cy="790.5" r="2.7"/><circle cx="399.9" cy="791.8" r="2.7"/><circle cx="402.1" cy="789.5" r="2.7"/><circle cx="400.3" cy="792.9" r="2.7"/><circle cx="402.7" cy="794.6" r="2.7"/><circle cx="402.1" cy="797.0" r="2.7"/><circle cx="404.6" cy="792.0" r="2.7"/><circle cx="400.8" cy="795.3" r="2.7"/><circle cx="401.7" cy="795.5" r="2.7"/><circle cx="404.8" cy="793.9" r="2.7"/><circle cx="405.0" cy="795.5" r="2.7"/><circle cx="404.7" cy="793.9" r="2.7"/><circle cx="401.6" cy="796.7" r="2.7"/><circle cx="403.8" cy="797.7" r="2.7"/><circle cx="402.6" cy="801.2" r="2.7"/><circle cx="404.9" cy="795.7" r="2.7"/><circle cx="406.9" cy="797.8" r="2.7"/><circle cx="404.2" cy="797.9" r="2.7"/><circle cx="407.4" cy="796.1" r="2.7"/><circle cx="408.4" cy="798.0" r="2.7"/><circle cx="405.3" cy="802.1" r="2.7"/><circle cx="408.8" cy="800.2" r="2.7"/><circle cx="407.6" cy="801.4" r="2.7"/><circle cx="407.1" cy="799.9" r="2.7"/><circle cx="406.7" cy="801.7" r="2.7"/><circle cx="409.9" cy="797.2" r="2.7"/><circle cx="408.1" cy="804.1" r="2.7"/><circle cx="408.4" cy="800.6" r="2.7"/><circle cx="407.5" cy="803.1" r="2.7"/><circle cx="409.5" cy="801.4" r="2.7"/><circle cx="409.8" cy="802.9" r="2.7"/><circle cx="413.3" cy="802.5" r="2.7"/><circle cx="410.1" cy="805.9" r="2.7"/><circle cx="410.2" cy="805.4" r="2.7"/><circle cx="413.7" cy="800.8" r="2.7"/><circle cx="415.0" cy="802.3" r="2.7"/><circle cx="414.5" cy="801.9" r="2.7"/><circle cx="415.2" cy="801.0" r="2.7"/><circle cx="414.2" cy="804.3" r="2.7"/><circle cx="411.7" cy="807.5" r="2.7"/><circle cx="413.8" cy="806.1" r="2.7"/><circle cx="415.7" cy="805.1" r="2.7"/><circle cx="415.7" cy="808.6" r="2.7"/><circle cx="416.0" cy="808.0" r="2.7"/><circle cx="414.5" cy="807.3" r="2.7"/><circle cx="417.6" cy="806.7" r="2.7"/><circle cx="418.8" cy="806.7" r="2.7"/><circle cx="419.0" cy="806.7" r="2.7"/><circle cx="416.1" cy="809.0" r="2.7"/><circle cx="417.7" cy="807.8" r="2.7"/><circle cx="419.8" cy="809.8" r="2.7"/><circle cx="420.6" cy="808.0" r="2.7"/><circle cx="417.1" cy="809.8" r="2.7"/><circle cx="420.3" cy="807.0" r="2.7"/><circle cx="419.7" cy="809.5" r="2.7"/><circle cx="421.2" cy="811.1" r="2.7"/><circle cx="421.9" cy="808.3" r="2.7"/><circle cx="426.5" cy="807.2" r="2.7"/><circle cx="421.2" cy="809.6" r="2.7"/><circle cx="425.2" cy="808.3" r="2.7"/><circle cx="422.2" cy="812.2" r="2.7"/><circle cx="421.1" cy="816.6" r="2.7"/><circle cx="424.2" cy="814.5" r="2.7"/><circle cx="424.1" cy="813.4" r="2.7"/><circle cx="423.8" cy="813.3" r="2.7"/><circle cx="425.6" cy="810.0" r="2.7"/><circle cx="423.9" cy="814.3" r="2.7"/><circle cx="426.6" cy="813.2" r="2.7"/><circle cx="426.5" cy="815.2" r="2.7"/><circle cx="426.0" cy="813.3" r="2.7"/><circle cx="429.4" cy="812.9" r="2.7"/><circle cx="426.0" cy="815.6" r="2.7"/><circle cx="425.7" cy="816.4" r="2.7"/><circle cx="428.1" cy="817.2" r="2.7"/><circle cx="430.6" cy="813.3" r="2.7"/><circle cx="429.4" cy="817.3" r="2.7"/><circle cx="430.2" cy="815.4" r="2.7"/><circle cx="427.0" cy="823.0" r="2.7"/><circle cx="437.0" cy="828.0" r="2.7"/><circle cx="364.0" cy="778.0" r="2.7"/><circle cx="466.0" cy="837.0" r="2.7"/><circle cx="476.0" cy="832.0" r="2.7"/><circle cx="495.0" cy="834.0" r="2.7"/><circle cx="501.0" cy="835.0" r="2.7"/><circle cx="507.5" cy="836.0" r="2.7"/><circle cx="511.0" cy="834.5" r="2.7"/><circle cx="511.9" cy="831.7" r="2.7"/><circle cx="512.6" cy="831.3" r="2.7"/><circle cx="514.3" cy="831.1" r="2.7"/><circle cx="513.7" cy="829.5" r="2.7"/><circle cx="516.6" cy="834.9" r="2.7"/><circle cx="516.5" cy="833.7" r="2.7"/><circle cx="517.2" cy="832.5" r="2.7"/><circle cx="514.7" cy="830.9" r="2.7"/><circle cx="517.7" cy="831.3" r="2.7"/><circle cx="517.7" cy="831.6" r="2.7"/><circle cx="518.4" cy="831.1" r="2.7"/><circle cx="516.7" cy="827.6" r="2.7"/><circle cx="518.9" cy="828.7" r="2.7"/><circle cx="516.8" cy="828.8" r="2.7"/><circle cx="519.2" cy="829.1" r="2.7"/><circle cx="516.7" cy="826.2" r="2.7"/><circle cx="516.9" cy="826.2" r="2.7"/><circle cx="519.8" cy="824.6" r="2.7"/><circle cx="519.4" cy="824.0" r="2.7"/><circle cx="523.7" cy="829.7" r="2.7"/><circle cx="518.9" cy="825.9" r="2.7"/><circle cx="521.4" cy="828.0" r="2.7"/><circle cx="524.0" cy="828.9" r="2.7"/><circle cx="523.8" cy="827.4" r="2.7"/><circle cx="522.9" cy="824.1" r="2.7"/><circle cx="523.2" cy="825.2" r="2.7"/><circle cx="520.7" cy="826.2" r="2.7"/><circle cx="522.3" cy="824.7" r="2.7"/><circle cx="520.0" cy="822.1" r="2.7"/><circle cx="522.2" cy="824.6" r="2.7"/><circle cx="522.5" cy="823.6" r="2.7"/><circle cx="523.7" cy="821.9" r="2.7"/><circle cx="526.3" cy="824.8" r="2.7"/><circle cx="523.4" cy="819.2" r="2.7"/><circle cx="528.2" cy="828.5" r="2.7"/><circle cx="524.7" cy="821.7" r="2.7"/><circle cx="528.1" cy="824.8" r="2.7"/><circle cx="525.0" cy="819.0" r="2.7"/><circle cx="527.7" cy="826.0" r="2.7"/><circle cx="530.2" cy="823.7" r="2.7"/><circle cx="529.3" cy="823.0" r="2.7"/><circle cx="527.3" cy="821.7" r="2.7"/><circle cx="526.4" cy="821.8" r="2.7"/><circle cx="529.6" cy="819.8" r="2.7"/><circle cx="530.9" cy="821.9" r="2.7"/><circle cx="529.0" cy="818.6" r="2.7"/><circle cx="532.5" cy="822.1" r="2.7"/><circle cx="529.6" cy="819.3" r="2.7"/><circle cx="529.5" cy="818.7" r="2.7"/><circle cx="529.9" cy="820.0" r="2.7"/><circle cx="530.8" cy="817.9" r="2.7"/><circle cx="534.6" cy="820.3" r="2.7"/><circle cx="530.8" cy="817.7" r="2.7"/><circle cx="533.8" cy="819.6" r="2.7"/><circle cx="533.1" cy="819.2" r="2.7"/><circle cx="534.4" cy="820.5" r="2.7"/><circle cx="534.1" cy="817.2" r="2.7"/><circle cx="535.7" cy="819.2" r="2.7"/><circle cx="531.2" cy="812.8" r="2.7"/><circle cx="532.3" cy="816.7" r="2.7"/><circle cx="533.3" cy="814.2" r="2.7"/><circle cx="533.2" cy="814.3" r="2.7"/><circle cx="539.8" cy="818.9" r="2.7"/><circle cx="536.0" cy="814.8" r="2.7"/><circle cx="539.4" cy="819.3" r="2.7"/><circle cx="536.9" cy="814.3" r="2.7"/><circle cx="536.9" cy="812.4" r="2.7"/><circle cx="536.3" cy="811.5" r="2.7"/><circle cx="538.3" cy="814.1" r="2.7"/><circle cx="535.8" cy="811.5" r="2.7"/><circle cx="536.8" cy="813.4" r="2.7"/><circle cx="538.9" cy="812.7" r="2.7"/><circle cx="542.9" cy="814.3" r="2.7"/><circle cx="538.0" cy="812.0" r="2.7"/><circle cx="535.8" cy="811.9" r="2.7"/><circle cx="540.5" cy="811.4" r="2.7"/><circle cx="542.0" cy="814.8" r="2.7"/><circle cx="543.0" cy="813.0" r="2.7"/><circle cx="541.4" cy="811.6" r="2.7"/><circle cx="542.2" cy="811.6" r="2.7"/><circle cx="545.0" cy="814.1" r="2.7"/><circle cx="543.9" cy="811.6" r="2.7"/><circle cx="544.5" cy="809.8" r="2.7"/><circle cx="545.1" cy="811.3" r="2.7"/><circle cx="539.7" cy="805.7" r="2.7"/><circle cx="543.5" cy="809.2" r="2.7"/><circle cx="544.4" cy="807.2" r="2.7"/><circle cx="541.5" cy="805.7" r="2.7"/><circle cx="545.7" cy="809.5" r="2.7"/><circle cx="544.4" cy="807.5" r="2.7"/><circle cx="547.5" cy="808.8" r="2.7"/><circle cx="545.9" cy="806.0" r="2.7"/><circle cx="545.3" cy="806.5" r="2.7"/><circle cx="547.8" cy="805.0" r="2.7"/><circle cx="544.1" cy="803.6" r="2.7"/><circle cx="545.9" cy="804.1" r="2.7"/><circle cx="548.0" cy="808.0" r="2.7"/><circle cx="549.0" cy="805.9" r="2.7"/><circle cx="546.6" cy="803.6" r="2.7"/><circle cx="545.4" cy="802.4" r="2.7"/><circle cx="547.8" cy="802.7" r="2.7"/><circle cx="547.3" cy="801.3" r="2.7"/><circle cx="545.5" cy="799.9" r="2.7"/><circle cx="549.1" cy="801.9" r="2.7"/><circle cx="549.8" cy="802.8" r="2.7"/><circle cx="548.8" cy="800.7" r="2.7"/><circle cx="548.4" cy="800.1" r="2.7"/><circle cx="548.2" cy="799.3" r="2.7"/><circle cx="551.6" cy="803.8" r="2.7"/><circle cx="551.7" cy="799.4" r="2.7"/><circle cx="545.3" cy="800.6" r="2.7"/><circle cx="550.6" cy="798.2" r="2.7"/><circle cx="548.4" cy="792.9" r="2.7"/><circle cx="549.6" cy="796.7" r="2.7"/><circle cx="549.1" cy="795.6" r="2.7"/><circle cx="551.0" cy="797.4" r="2.7"/><circle cx="553.2" cy="796.1" r="2.7"/><circle cx="552.2" cy="795.2" r="2.7"/><circle cx="551.0" cy="795.5" r="2.7"/><circle cx="550.8" cy="795.6" r="2.7"/><circle cx="548.9" cy="793.3" r="2.7"/><circle cx="552.7" cy="793.7" r="2.7"/><circle cx="557.4" cy="800.1" r="2.7"/><circle cx="551.5" cy="792.9" r="2.7"/><circle cx="552.0" cy="793.9" r="2.7"/><circle cx="553.1" cy="793.9" r="2.7"/><circle cx="556.9" cy="796.1" r="2.7"/><circle cx="555.0" cy="793.5" r="2.7"/><circle cx="555.1" cy="796.0" r="2.7"/><circle cx="554.6" cy="791.3" r="2.7"/><circle cx="555.1" cy="793.0" r="2.7"/><circle cx="555.8" cy="790.6" r="2.7"/><circle cx="557.6" cy="791.5" r="2.7"/><circle cx="560.7" cy="796.2" r="2.7"/><circle cx="558.7" cy="792.6" r="2.7"/><circle cx="561.2" cy="787.2" r="2.7"/><circle cx="560.7" cy="796.0" r="2.7"/><circle cx="559.4" cy="788.6" r="2.7"/><circle cx="557.7" cy="794.4" r="2.7"/><circle cx="558.4" cy="794.0" r="2.7"/><circle cx="560.7" cy="789.2" r="2.7"/><circle cx="560.9" cy="794.1" r="2.7"/><circle cx="561.0" cy="793.1" r="2.7"/><circle cx="561.6" cy="792.1" r="2.7"/><circle cx="562.6" cy="794.9" r="2.7"/><circle cx="562.7" cy="792.0" r="2.7"/><circle cx="563.4" cy="794.2" r="2.7"/><circle cx="562.7" cy="795.2" r="2.7"/><circle cx="563.7" cy="789.8" r="2.7"/><circle cx="564.7" cy="790.6" r="2.7"/><circle cx="565.0" cy="789.4" r="2.7"/><circle cx="565.6" cy="793.4" r="2.7"/><circle cx="566.0" cy="792.5" r="2.7"/><circle cx="567.2" cy="790.8" r="2.7"/><circle cx="565.2" cy="794.2" r="2.7"/><circle cx="569.3" cy="793.5" r="2.7"/><circle cx="566.0" cy="791.9" r="2.7"/><circle cx="568.4" cy="791.4" r="2.7"/><circle cx="567.7" cy="793.0" r="2.7"/><circle cx="569.0" cy="795.8" r="2.7"/><circle cx="569.5" cy="795.7" r="2.7"/><circle cx="570.8" cy="795.2" r="2.7"/><circle cx="570.3" cy="797.0" r="2.7"/><circle cx="570.0" cy="789.8" r="2.7"/><circle cx="572.6" cy="793.4" r="2.7"/><circle cx="573.3" cy="793.7" r="2.7"/><circle cx="571.2" cy="793.0" r="2.7"/><circle cx="573.4" cy="791.4" r="2.7"/><circle cx="574.8" cy="792.2" r="2.7"/><circle cx="575.0" cy="793.6" r="2.7"/><circle cx="575.0" cy="795.3" r="2.7"/><circle cx="573.9" cy="793.8" r="2.7"/><circle cx="577.0" cy="790.2" r="2.7"/><circle cx="575.2" cy="793.3" r="2.7"/><circle cx="575.7" cy="791.5" r="2.7"/><circle cx="576.6" cy="793.5" r="2.7"/><circle cx="577.4" cy="793.6" r="2.7"/><circle cx="576.2" cy="792.0" r="2.7"/><circle cx="575.3" cy="795.5" r="2.7"/><circle cx="580.0" cy="792.3" r="2.7"/><circle cx="578.9" cy="788.2" r="2.7"/><circle cx="578.8" cy="788.8" r="2.7"/><circle cx="580.1" cy="793.0" r="2.7"/><circle cx="578.8" cy="790.2" r="2.7"/><circle cx="583.1" cy="796.4" r="2.7"/><circle cx="581.9" cy="792.3" r="2.7"/><circle cx="580.1" cy="789.8" r="2.7"/><circle cx="581.4" cy="789.6" r="2.7"/><circle cx="583.3" cy="791.8" r="2.7"/><circle cx="579.9" cy="788.6" r="2.7"/><circle cx="583.7" cy="793.0" r="2.7"/><circle cx="582.8" cy="791.9" r="2.7"/><circle cx="583.1" cy="790.4" r="2.7"/><circle cx="585.0" cy="789.6" r="2.7"/><circle cx="586.4" cy="791.7" r="2.7"/><circle cx="585.0" cy="788.4" r="2.7"/><circle cx="587.3" cy="789.8" r="2.7"/><circle cx="584.4" cy="786.0" r="2.7"/><circle cx="585.8" cy="786.8" r="2.7"/><circle cx="587.4" cy="792.4" r="2.7"/><circle cx="584.7" cy="784.8" r="2.7"/><circle cx="587.6" cy="790.5" r="2.7"/><circle cx="587.6" cy="791.4" r="2.7"/><circle cx="586.9" cy="787.1" r="2.7"/><circle cx="587.0" cy="785.7" r="2.7"/><circle cx="590.7" cy="788.1" r="2.7"/><circle cx="589.7" cy="791.9" r="2.7"/><circle cx="590.6" cy="787.3" r="2.7"/><circle cx="586.8" cy="785.6" r="2.7"/><circle cx="591.4" cy="788.9" r="2.7"/><circle cx="590.9" cy="786.1" r="2.7"/><circle cx="591.4" cy="781.1" r="2.7"/><circle cx="593.2" cy="786.4" r="2.7"/><circle cx="593.2" cy="783.2" r="2.7"/><circle cx="592.2" cy="784.9" r="2.7"/><circle cx="591.3" cy="780.4" r="2.7"/><circle cx="592.9" cy="784.5" r="2.7"/><circle cx="594.7" cy="783.3" r="2.7"/><circle cx="593.2" cy="783.1" r="2.7"/><circle cx="597.4" cy="789.1" r="2.7"/><circle cx="593.3" cy="785.0" r="2.7"/><circle cx="593.4" cy="781.3" r="2.7"/><circle cx="594.8" cy="784.2" r="2.7"/><circle cx="597.0" cy="784.8" r="2.7"/><circle cx="597.0" cy="784.7" r="2.7"/><circle cx="593.1" cy="778.3" r="2.7"/><circle cx="594.8" cy="781.1" r="2.7"/><circle cx="596.8" cy="779.1" r="2.7"/><circle cx="598.9" cy="780.7" r="2.7"/><circle cx="597.7" cy="781.6" r="2.7"/><circle cx="597.9" cy="781.7" r="2.7"/><circle cx="598.6" cy="780.8" r="2.7"/><circle cx="600.2" cy="780.3" r="2.7"/><circle cx="598.7" cy="779.7" r="2.7"/><circle cx="598.0" cy="776.8" r="2.7"/><circle cx="597.8" cy="776.7" r="2.7"/><circle cx="598.8" cy="776.8" r="2.7"/><circle cx="600.5" cy="780.8" r="2.7"/><circle cx="602.0" cy="780.7" r="2.7"/><circle cx="602.5" cy="778.2" r="2.7"/><circle cx="602.5" cy="777.1" r="2.7"/><circle cx="602.2" cy="777.1" r="2.7"/><circle cx="602.5" cy="779.6" r="2.7"/><circle cx="603.5" cy="779.0" r="2.7"/><circle cx="601.6" cy="774.1" r="2.7"/><circle cx="604.1" cy="776.9" r="2.7"/><circle cx="603.4" cy="775.1" r="2.7"/><circle cx="606.2" cy="778.7" r="2.7"/><circle cx="604.5" cy="775.5" r="2.7"/><circle cx="603.1" cy="774.0" r="2.7"/><circle cx="605.8" cy="775.8" r="2.7"/><circle cx="607.7" cy="778.1" r="2.7"/><circle cx="603.5" cy="772.2" r="2.7"/><circle cx="604.3" cy="774.4" r="2.7"/><circle cx="603.9" cy="773.1" r="2.7"/><circle cx="607.3" cy="772.8" r="2.7"/><circle cx="606.4" cy="771.6" r="2.7"/><circle cx="606.3" cy="774.2" r="2.7"/><circle cx="610.1" cy="776.4" r="2.7"/><circle cx="608.7" cy="771.9" r="2.7"/><circle cx="605.9" cy="770.3" r="2.7"/><circle cx="606.7" cy="771.9" r="2.7"/><circle cx="606.7" cy="768.4" r="2.7"/><circle cx="605.7" cy="767.8" r="2.7"/><circle cx="611.7" cy="773.0" r="2.7"/><circle cx="613.2" cy="772.7" r="2.7"/><circle cx="612.9" cy="771.8" r="2.7"/><circle cx="607.7" cy="768.6" r="2.7"/><circle cx="613.7" cy="771.1" r="2.7"/><circle cx="609.4" cy="767.6" r="2.7"/><circle cx="610.5" cy="768.1" r="2.7"/><circle cx="614.8" cy="771.6" r="2.7"/><circle cx="613.6" cy="770.6" r="2.7"/><circle cx="609.2" cy="766.2" r="2.7"/><circle cx="612.3" cy="767.5" r="2.7"/><circle cx="610.4" cy="764.2" r="2.7"/><circle cx="612.4" cy="767.2" r="2.7"/><circle cx="615.8" cy="767.7" r="2.7"/><circle cx="611.8" cy="764.2" r="2.7"/><circle cx="616.1" cy="764.8" r="2.7"/><circle cx="613.4" cy="762.6" r="2.7"/><circle cx="618.5" cy="767.8" r="2.7"/><circle cx="617.0" cy="766.0" r="2.7"/><circle cx="613.4" cy="764.8" r="2.7"/><circle cx="614.6" cy="763.6" r="2.7"/><circle cx="615.8" cy="763.8" r="2.7"/><circle cx="618.8" cy="766.6" r="2.7"/><circle cx="619.1" cy="765.8" r="2.7"/><circle cx="614.1" cy="758.2" r="2.7"/><circle cx="620.2" cy="765.2" r="2.7"/><circle cx="617.3" cy="766.2" r="2.7"/><circle cx="619.7" cy="764.6" r="2.7"/><circle cx="619.0" cy="764.2" r="2.7"/><circle cx="620.7" cy="762.7" r="2.7"/><circle cx="619.7" cy="756.3" r="2.7"/><circle cx="621.7" cy="763.2" r="2.7"/><circle cx="620.1" cy="758.6" r="2.7"/><circle cx="621.9" cy="761.5" r="2.7"/><circle cx="618.4" cy="757.4" r="2.7"/><circle cx="619.4" cy="757.8" r="2.7"/><circle cx="623.4" cy="762.6" r="2.7"/><circle cx="620.4" cy="758.3" r="2.7"/><circle cx="621.4" cy="759.6" r="2.7"/><circle cx="623.8" cy="760.4" r="2.7"/><circle cx="624.1" cy="758.5" r="2.7"/><circle cx="624.8" cy="759.2" r="2.7"/><circle cx="624.0" cy="756.1" r="2.7"/><circle cx="624.9" cy="756.2" r="2.7"/><circle cx="625.6" cy="756.8" r="2.7"/><circle cx="622.3" cy="754.9" r="2.7"/><circle cx="624.9" cy="755.7" r="2.7"/><circle cx="625.3" cy="752.8" r="2.7"/><circle cx="627.4" cy="757.4" r="2.7"/><circle cx="628.7" cy="756.0" r="2.7"/><circle cx="624.9" cy="754.8" r="2.7"/><circle cx="626.7" cy="752.1" r="2.7"/><circle cx="630.0" cy="759.5" r="2.7"/><circle cx="628.1" cy="752.3" r="2.7"/><circle cx="630.0" cy="756.4" r="2.7"/><circle cx="630.5" cy="760.6" r="2.7"/><circle cx="630.8" cy="758.5" r="2.7"/><circle cx="628.6" cy="753.1" r="2.7"/><circle cx="631.2" cy="754.0" r="2.7"/><circle cx="630.8" cy="758.4" r="2.7"/><circle cx="631.1" cy="755.5" r="2.7"/><circle cx="629.9" cy="752.4" r="2.7"/><circle cx="632.1" cy="754.3" r="2.7"/><circle cx="633.9" cy="756.1" r="2.7"/><circle cx="631.8" cy="751.1" r="2.7"/><circle cx="633.2" cy="752.7" r="2.7"/><circle cx="634.2" cy="751.3" r="2.7"/><circle cx="635.9" cy="756.5" r="2.7"/><circle cx="636.0" cy="755.5" r="2.7"/><circle cx="635.9" cy="751.7" r="2.7"/><circle cx="635.9" cy="753.1" r="2.7"/><circle cx="635.5" cy="751.1" r="2.7"/><circle cx="633.9" cy="750.9" r="2.7"/><circle cx="638.2" cy="756.0" r="2.7"/><circle cx="638.8" cy="754.7" r="2.7"/><circle cx="637.9" cy="752.3" r="2.7"/><circle cx="637.8" cy="753.2" r="2.7"/><circle cx="635.8" cy="750.6" r="2.7"/><circle cx="640.3" cy="751.0" r="2.7"/><circle cx="639.7" cy="753.4" r="2.7"/><circle cx="640.9" cy="754.8" r="2.7"/><circle cx="639.4" cy="753.0" r="2.7"/><circle cx="639.7" cy="752.6" r="2.7"/><circle cx="641.5" cy="751.1" r="2.7"/><circle cx="642.0" cy="753.9" r="2.7"/><circle cx="644.1" cy="753.2" r="2.7"/><circle cx="642.3" cy="752.2" r="2.7"/><circle cx="642.1" cy="748.6" r="2.7"/><circle cx="645.8" cy="754.5" r="2.7"/><circle cx="642.6" cy="746.6" r="2.7"/><circle cx="643.5" cy="749.8" r="2.7"/><circle cx="642.9" cy="750.5" r="2.7"/><circle cx="646.3" cy="750.3" r="2.7"/><circle cx="646.3" cy="750.9" r="2.7"/><circle cx="646.1" cy="748.6" r="2.7"/><circle cx="647.4" cy="747.9" r="2.7"/><circle cx="647.0" cy="751.1" r="2.7"/><circle cx="647.6" cy="747.6" r="2.7"/><circle cx="646.3" cy="747.8" r="2.7"/><circle cx="647.7" cy="747.1" r="2.7"/><circle cx="649.1" cy="748.6" r="2.7"/><circle cx="647.7" cy="744.4" r="2.7"/><circle cx="651.1" cy="748.3" r="2.7"/><circle cx="649.2" cy="746.1" r="2.7"/><circle cx="650.2" cy="748.3" r="2.7"/><circle cx="650.7" cy="745.9" r="2.7"/><circle cx="651.0" cy="749.4" r="2.7"/><circle cx="651.8" cy="747.5" r="2.7"/><circle cx="651.5" cy="747.6" r="2.7"/><circle cx="653.9" cy="752.2" r="2.7"/><circle cx="652.3" cy="746.1" r="2.7"/><circle cx="654.7" cy="745.7" r="2.7"/><circle cx="654.1" cy="747.1" r="2.7"/><circle cx="654.1" cy="750.7" r="2.7"/><circle cx="658.1" cy="751.0" r="2.7"/><circle cx="654.9" cy="745.4" r="2.7"/><circle cx="656.9" cy="746.6" r="2.7"/><circle cx="654.4" cy="742.3" r="2.7"/><circle cx="655.9" cy="743.4" r="2.7"/><circle cx="657.8" cy="745.3" r="2.7"/><circle cx="658.1" cy="742.7" r="2.7"/><circle cx="656.9" cy="743.5" r="2.7"/><circle cx="657.5" cy="741.5" r="2.7"/><circle cx="659.9" cy="744.6" r="2.7"/><circle cx="661.2" cy="745.4" r="2.7"/><circle cx="659.4" cy="746.7" r="2.7"/><circle cx="659.4" cy="745.8" r="2.7"/><circle cx="660.0" cy="742.6" r="2.7"/><circle cx="661.5" cy="747.5" r="2.7"/><circle cx="663.6" cy="746.9" r="2.7"/><circle cx="663.3" cy="746.4" r="2.7"/><circle cx="662.2" cy="747.7" r="2.7"/><circle cx="664.1" cy="749.6" r="2.7"/><circle cx="662.5" cy="744.9" r="2.7"/><circle cx="665.2" cy="747.5" r="2.7"/><circle cx="662.9" cy="744.8" r="2.7"/><circle cx="664.6" cy="744.6" r="2.7"/><circle cx="666.0" cy="742.5" r="2.7"/><circle cx="665.8" cy="747.0" r="2.7"/><circle cx="666.5" cy="748.3" r="2.7"/><circle cx="666.5" cy="741.4" r="2.7"/><circle cx="666.8" cy="743.2" r="2.7"/><circle cx="667.4" cy="748.0" r="2.7"/><circle cx="669.3" cy="743.7" r="2.7"/><circle cx="670.1" cy="748.3" r="2.7"/><circle cx="667.4" cy="741.5" r="2.7"/><circle cx="667.4" cy="741.9" r="2.7"/><circle cx="668.9" cy="740.9" r="2.7"/><circle cx="671.6" cy="743.2" r="2.7"/><circle cx="670.0" cy="744.5" r="2.7"/><circle cx="671.0" cy="745.6" r="2.7"/><circle cx="671.3" cy="744.3" r="2.7"/><circle cx="670.0" cy="743.3" r="2.7"/><circle cx="672.6" cy="745.8" r="2.7"/><circle cx="674.5" cy="746.4" r="2.7"/><circle cx="672.9" cy="742.8" r="2.7"/><circle cx="672.6" cy="741.8" r="2.7"/><circle cx="672.2" cy="739.2" r="2.7"/><circle cx="675.4" cy="745.2" r="2.7"/><circle cx="676.6" cy="746.1" r="2.7"/><circle cx="675.9" cy="746.0" r="2.7"/><circle cx="676.2" cy="739.3" r="2.7"/><circle cx="675.5" cy="738.1" r="2.7"/><circle cx="676.4" cy="739.6" r="2.7"/><circle cx="674.7" cy="740.8" r="2.7"/><circle cx="676.6" cy="742.3" r="2.7"/><circle cx="679.1" cy="745.2" r="2.7"/><circle cx="677.4" cy="741.4" r="2.7"/><circle cx="678.5" cy="742.5" r="2.7"/><circle cx="680.3" cy="739.9" r="2.7"/><circle cx="678.8" cy="741.1" r="2.7"/><circle cx="679.5" cy="743.9" r="2.7"/><circle cx="680.4" cy="739.2" r="2.7"/><circle cx="680.1" cy="737.3" r="2.7"/><circle cx="680.5" cy="741.3" r="2.7"/><circle cx="681.0" cy="739.4" r="2.7"/><circle cx="680.5" cy="740.4" r="2.7"/><circle cx="682.3" cy="739.2" r="2.7"/><circle cx="683.7" cy="738.3" r="2.7"/><circle cx="683.4" cy="742.0" r="2.7"/><circle cx="686.6" cy="744.3" r="2.7"/><circle cx="683.7" cy="741.6" r="2.7"/><circle cx="371.2" cy="739.9" r="2.7"/><circle cx="371.4" cy="741.1" r="2.7"/><circle cx="375.6" cy="738.8" r="2.7"/><circle cx="375.7" cy="739.5" r="2.7"/><circle cx="375.3" cy="738.4" r="2.7"/><circle cx="377.9" cy="741.1" r="2.7"/><circle cx="378.2" cy="740.0" r="2.7"/><circle cx="381.7" cy="742.7" r="2.7"/><circle cx="380.8" cy="740.8" r="2.7"/><circle cx="383.0" cy="739.7" r="2.7"/><circle cx="381.1" cy="741.0" r="2.7"/><circle cx="383.5" cy="740.3" r="2.7"/><circle cx="384.6" cy="741.9" r="2.7"/><circle cx="388.4" cy="738.2" r="2.7"/><circle cx="387.4" cy="737.0" r="2.7"/><circle cx="387.3" cy="737.3" r="2.7"/><circle cx="389.0" cy="741.9" r="2.7"/><circle cx="390.5" cy="739.5" r="2.7"/><circle cx="390.3" cy="740.8" r="2.7"/><circle cx="391.2" cy="740.2" r="2.7"/><circle cx="392.1" cy="738.2" r="2.7"/><circle cx="393.5" cy="741.4" r="2.7"/><circle cx="395.8" cy="739.8" r="2.7"/><circle cx="395.0" cy="740.3" r="2.7"/><circle cx="396.7" cy="741.5" r="2.7"/><circle cx="397.8" cy="738.9" r="2.7"/><circle cx="398.0" cy="742.6" r="2.7"/><circle cx="399.0" cy="739.2" r="2.7"/><circle cx="402.6" cy="742.3" r="2.7"/><circle cx="402.1" cy="740.2" r="2.7"/><circle cx="401.4" cy="742.7" r="2.7"/><circle cx="403.0" cy="742.1" r="2.7"/><circle cx="404.2" cy="738.2" r="2.7"/><circle cx="404.3" cy="739.2" r="2.7"/><circle cx="405.0" cy="742.0" r="2.7"/><circle cx="406.9" cy="740.8" r="2.7"/><circle cx="409.0" cy="742.2" r="2.7"/><circle cx="410.4" cy="742.8" r="2.7"/><circle cx="408.6" cy="742.2" r="2.7"/><circle cx="411.8" cy="740.7" r="2.7"/><circle cx="412.2" cy="743.6" r="2.7"/><circle cx="413.4" cy="740.1" r="2.7"/><circle cx="415.4" cy="740.7" r="2.7"/><circle cx="415.1" cy="737.2" r="2.7"/><circle cx="415.2" cy="738.4" r="2.7"/><circle cx="420.4" cy="735.3" r="2.7"/><circle cx="418.7" cy="743.6" r="2.7"/><circle cx="420.6" cy="741.2" r="2.7"/><circle cx="419.7" cy="739.1" r="2.7"/><circle cx="421.3" cy="739.5" r="2.7"/><circle cx="423.5" cy="736.8" r="2.7"/><circle cx="421.7" cy="741.4" r="2.7"/><circle cx="423.7" cy="740.8" r="2.7"/><circle cx="425.6" cy="740.3" r="2.7"/><circle cx="427.0" cy="741.7" r="2.7"/><circle cx="427.5" cy="743.5" r="2.7"/><circle cx="429.6" cy="736.5" r="2.7"/><circle cx="428.4" cy="738.0" r="2.7"/><circle cx="429.9" cy="739.5" r="2.7"/><circle cx="430.1" cy="736.6" r="2.7"/><circle cx="432.4" cy="742.3" r="2.7"/><circle cx="433.5" cy="738.4" r="2.7"/><circle cx="436.2" cy="741.5" r="2.7"/><circle cx="435.1" cy="739.5" r="2.7"/><circle cx="437.0" cy="740.0" r="2.7"/><circle cx="437.0" cy="741.3" r="2.7"/><circle cx="438.9" cy="741.0" r="2.7"/><circle cx="442.0" cy="740.3" r="2.7"/><circle cx="440.3" cy="740.9" r="2.7"/><circle cx="439.2" cy="741.4" r="2.7"/><circle cx="442.5" cy="739.9" r="2.7"/><circle cx="445.6" cy="741.9" r="2.7"/><circle cx="444.3" cy="740.7" r="2.7"/><circle cx="446.6" cy="742.7" r="2.7"/><circle cx="444.7" cy="740.3" r="2.7"/><circle cx="447.5" cy="742.1" r="2.7"/><circle cx="448.3" cy="743.2" r="2.7"/><circle cx="448.7" cy="741.2" r="2.7"/><circle cx="451.3" cy="739.7" r="2.7"/><circle cx="452.2" cy="739.3" r="2.7"/><circle cx="452.4" cy="741.1" r="2.7"/><circle cx="455.3" cy="740.5" r="2.7"/><circle cx="454.7" cy="735.2" r="2.7"/><circle cx="454.4" cy="742.7" r="2.7"/><circle cx="456.9" cy="742.2" r="2.7"/><circle cx="455.2" cy="741.3" r="2.7"/><circle cx="459.2" cy="741.3" r="2.7"/><circle cx="460.7" cy="741.3" r="2.7"/><circle cx="460.5" cy="742.3" r="2.7"/><circle cx="462.2" cy="739.4" r="2.7"/><circle cx="462.9" cy="741.4" r="2.7"/><circle cx="463.4" cy="738.8" r="2.7"/><circle cx="462.2" cy="737.7" r="2.7"/><circle cx="466.7" cy="742.1" r="2.7"/><circle cx="464.6" cy="739.6" r="2.7"/><circle cx="467.3" cy="742.7" r="2.7"/><circle cx="467.9" cy="742.9" r="2.7"/><circle cx="467.9" cy="739.7" r="2.7"/><circle cx="470.4" cy="738.7" r="2.7"/><circle cx="471.9" cy="740.6" r="2.7"/><circle cx="474.3" cy="741.3" r="2.7"/><circle cx="472.8" cy="741.4" r="2.7"/><circle cx="475.8" cy="741.1" r="2.7"/><circle cx="474.7" cy="739.1" r="2.7"/><circle cx="475.8" cy="743.1" r="2.7"/><circle cx="479.2" cy="741.5" r="2.7"/><circle cx="477.6" cy="741.5" r="2.7"/><circle cx="479.2" cy="738.9" r="2.7"/><circle cx="478.9" cy="740.5" r="2.7"/><circle cx="481.3" cy="740.0" r="2.7"/><circle cx="481.7" cy="738.8" r="2.7"/><circle cx="483.5" cy="743.3" r="2.7"/><circle cx="485.5" cy="743.1" r="2.7"/><circle cx="484.3" cy="743.9" r="2.7"/><circle cx="486.4" cy="743.0" r="2.7"/><circle cx="486.4" cy="745.0" r="2.7"/><circle cx="489.5" cy="741.2" r="2.7"/><circle cx="488.8" cy="740.5" r="2.7"/><circle cx="489.4" cy="739.3" r="2.7"/><circle cx="491.1" cy="742.5" r="2.7"/><circle cx="491.8" cy="741.2" r="2.7"/><circle cx="492.9" cy="742.7" r="2.7"/><circle cx="493.5" cy="739.6" r="2.7"/><circle cx="495.2" cy="742.7" r="2.7"/><circle cx="496.7" cy="740.3" r="2.7"/><circle cx="496.8" cy="741.0" r="2.7"/><circle cx="497.7" cy="739.8" r="2.7"/><circle cx="499.5" cy="741.8" r="2.7"/><circle cx="498.1" cy="741.2" r="2.7"/><circle cx="503.3" cy="740.1" r="2.7"/><circle cx="503.2" cy="740.3" r="2.7"/><circle cx="504.9" cy="742.4" r="2.7"/><circle cx="506.4" cy="740.6" r="2.7"/><circle cx="504.8" cy="742.2" r="2.7"/><circle cx="507.5" cy="741.2" r="2.7"/><circle cx="508.9" cy="742.8" r="2.7"/><circle cx="508.2" cy="741.7" r="2.7"/><circle cx="509.5" cy="741.5" r="2.7"/><circle cx="510.8" cy="743.7" r="2.7"/><circle cx="509.8" cy="741.1" r="2.7"/><circle cx="514.0" cy="744.0" r="2.7"/><circle cx="514.3" cy="741.8" r="2.7"/><circle cx="513.9" cy="740.4" r="2.7"/><circle cx="515.7" cy="743.2" r="2.7"/><circle cx="513.9" cy="742.7" r="2.7"/><circle cx="517.2" cy="743.1" r="2.7"/><circle cx="515.5" cy="741.2" r="2.7"/><circle cx="520.5" cy="742.0" r="2.7"/><circle cx="519.4" cy="743.3" r="2.7"/><circle cx="521.6" cy="743.1" r="2.7"/><circle cx="521.8" cy="739.0" r="2.7"/><circle cx="526.1" cy="739.1" r="2.7"/><circle cx="522.9" cy="743.0" r="2.7"/><circle cx="526.5" cy="744.9" r="2.7"/><circle cx="525.8" cy="739.7" r="2.7"/><circle cx="527.6" cy="740.6" r="2.7"/><circle cx="527.4" cy="742.7" r="2.7"/><circle cx="528.0" cy="745.4" r="2.7"/><circle cx="531.2" cy="741.4" r="2.7"/><circle cx="530.3" cy="737.4" r="2.7"/><circle cx="531.3" cy="738.6" r="2.7"/><circle cx="532.7" cy="740.5" r="2.7"/><circle cx="533.7" cy="742.3" r="2.7"/><circle cx="535.4" cy="740.5" r="2.7"/><circle cx="536.3" cy="745.3" r="2.7"/><circle cx="539.5" cy="742.3" r="2.7"/><circle cx="537.9" cy="739.1" r="2.7"/><circle cx="540.9" cy="740.2" r="2.7"/><circle cx="540.6" cy="741.0" r="2.7"/><circle cx="541.7" cy="741.1" r="2.7"/><circle cx="544.8" cy="738.4" r="2.7"/><circle cx="542.9" cy="742.0" r="2.7"/><circle cx="545.2" cy="742.2" r="2.7"/><circle cx="545.0" cy="744.2" r="2.7"/><circle cx="548.3" cy="742.3" r="2.7"/><circle cx="547.4" cy="739.8" r="2.7"/><circle cx="548.0" cy="741.3" r="2.7"/><circle cx="549.2" cy="743.1" r="2.7"/><circle cx="549.9" cy="739.7" r="2.7"/><circle cx="553.0" cy="741.1" r="2.7"/><circle cx="552.8" cy="744.2" r="2.7"/><circle cx="552.4" cy="742.4" r="2.7"/><circle cx="553.8" cy="743.0" r="2.7"/><circle cx="555.1" cy="741.2" r="2.7"/><circle cx="557.3" cy="741.3" r="2.7"/><circle cx="556.4" cy="741.3" r="2.7"/><circle cx="558.5" cy="742.4" r="2.7"/><circle cx="560.7" cy="741.5" r="2.7"/><circle cx="561.8" cy="739.0" r="2.7"/><circle cx="560.2" cy="738.3" r="2.7"/><circle cx="561.7" cy="742.8" r="2.7"/><circle cx="564.5" cy="740.6" r="2.7"/><circle cx="565.7" cy="741.3" r="2.7"/><circle cx="564.7" cy="740.4" r="2.7"/><circle cx="566.7" cy="741.3" r="2.7"/><circle cx="568.1" cy="741.4" r="2.7"/><circle cx="568.7" cy="739.1" r="2.7"/><circle cx="568.7" cy="741.5" r="2.7"/><circle cx="569.4" cy="738.0" r="2.7"/><circle cx="572.8" cy="742.7" r="2.7"/><circle cx="573.1" cy="740.9" r="2.7"/><circle cx="572.6" cy="742.6" r="2.7"/><circle cx="575.5" cy="743.4" r="2.7"/><circle cx="575.5" cy="741.9" r="2.7"/><circle cx="576.3" cy="741.6" r="2.7"/><circle cx="576.0" cy="742.8" r="2.7"/><circle cx="579.6" cy="739.6" r="2.7"/><circle cx="578.8" cy="740.5" r="2.7"/><circle cx="579.5" cy="737.8" r="2.7"/><circle cx="580.1" cy="741.7" r="2.7"/><circle cx="582.2" cy="743.2" r="2.7"/><circle cx="583.0" cy="741.1" r="2.7"/><circle cx="584.0" cy="741.6" r="2.7"/><circle cx="585.5" cy="742.1" r="2.7"/><circle cx="588.1" cy="742.7" r="2.7"/><circle cx="586.4" cy="742.5" r="2.7"/><circle cx="588.6" cy="741.2" r="2.7"/><circle cx="589.3" cy="740.7" r="2.7"/><circle cx="590.8" cy="738.0" r="2.7"/><circle cx="591.9" cy="739.5" r="2.7"/><circle cx="592.5" cy="740.3" r="2.7"/><circle cx="591.1" cy="740.2" r="2.7"/><circle cx="594.0" cy="742.1" r="2.7"/><circle cx="595.9" cy="737.1" r="2.7"/><circle cx="595.6" cy="744.6" r="2.7"/><circle cx="597.3" cy="738.1" r="2.7"/><circle cx="598.4" cy="740.6" r="2.7"/><circle cx="600.8" cy="742.3" r="2.7"/><circle cx="600.9" cy="740.0" r="2.7"/><circle cx="601.0" cy="744.0" r="2.7"/><circle cx="602.9" cy="742.1" r="2.7"/><circle cx="603.3" cy="741.3" r="2.7"/><circle cx="604.3" cy="744.3" r="2.7"/><circle cx="607.0" cy="740.4" r="2.7"/><circle cx="606.9" cy="743.9" r="2.7"/><circle cx="607.4" cy="741.6" r="2.7"/><circle cx="607.3" cy="743.6" r="2.7"/><circle cx="610.0" cy="740.0" r="2.7"/><circle cx="609.0" cy="742.1" r="2.7"/><circle cx="609.7" cy="740.5" r="2.7"/><circle cx="611.5" cy="742.9" r="2.7"/><circle cx="612.6" cy="741.4" r="2.7"/><circle cx="613.5" cy="741.9" r="2.7"/><circle cx="615.4" cy="741.1" r="2.7"/><circle cx="615.3" cy="742.9" r="2.7"/><circle cx="616.8" cy="742.8" r="2.7"/><circle cx="619.5" cy="740.0" r="2.7"/><circle cx="620.5" cy="741.4" r="2.7"/><circle cx="619.8" cy="741.1" r="2.7"/><circle cx="621.4" cy="741.1" r="2.7"/><circle cx="491.9" cy="746.2" r="2.7"/><circle cx="490.9" cy="744.4" r="2.7"/><circle cx="495.6" cy="748.5" r="2.7"/><circle cx="498.0" cy="743.7" r="2.7"/><circle cx="499.8" cy="747.3" r="2.7"/><circle cx="501.7" cy="745.9" r="2.7"/><circle cx="503.8" cy="747.3" r="2.7"/><circle cx="506.6" cy="748.1" r="2.7"/><circle cx="505.6" cy="744.9" r="2.7"/><circle cx="508.8" cy="743.7" r="2.7"/><circle cx="512.4" cy="744.0" r="2.7"/><circle cx="513.0" cy="744.0" r="2.7"/><circle cx="513.3" cy="747.0" r="2.7"/><circle cx="517.0" cy="748.0" r="2.7"/><circle cx="520.4" cy="746.6" r="2.7"/><circle cx="520.3" cy="744.5" r="2.7"/><circle cx="523.7" cy="747.9" r="2.7"/><circle cx="523.8" cy="747.3" r="2.7"/><circle cx="527.4" cy="751.2" r="2.7"/><circle cx="528.8" cy="745.7" r="2.7"/><circle cx="529.0" cy="746.9" r="2.7"/><circle cx="532.8" cy="742.7" r="2.7"/><circle cx="532.4" cy="741.9" r="2.7"/><circle cx="537.6" cy="745.3" r="2.7"/><circle cx="537.7" cy="745.8" r="2.7"/><circle cx="541.7" cy="746.0" r="2.7"/><circle cx="542.7" cy="744.8" r="2.7"/><circle cx="542.8" cy="744.7" r="2.7"/><circle cx="550.1" cy="744.6" r="2.7"/><circle cx="380.5" cy="734.5" r="2.7"/><circle cx="402.0" cy="736.0" r="2.7"/><circle cx="473.0" cy="735.0" r="2.7"/><circle cx="515.0" cy="734.0" r="2.7"/><circle cx="553.0" cy="734.5" r="2.7"/><circle cx="568.5" cy="734.0" r="2.7"/><circle cx="589.0" cy="735.0" r="2.7"/><circle cx="609.5" cy="735.5" r="2.7"/><circle cx="605.0" cy="766.0" r="2.7"/><circle cx="610.0" cy="747.5" r="2.7"/><circle cx="612.0" cy="752.0" r="2.7"/><circle cx="606.0" cy="758.0" r="2.7"/><circle cx="620.0" cy="742.5" r="2.7"/><circle cx="617.0" cy="747.0" r="2.7"/><circle cx="603.0" cy="748.0" r="2.7"/><circle cx="599.0" cy="745.5" r="2.7"/><circle cx="685.0" cy="741.3" r="2.7"/><circle cx="684.7" cy="738.0" r="2.7"/><circle cx="687.5" cy="738.8" r="2.7"/><circle cx="687.1" cy="739.6" r="2.7"/><circle cx="688.2" cy="737.6" r="2.7"/><circle cx="688.7" cy="738.9" r="2.7"/><circle cx="688.5" cy="739.8" r="2.7"/><circle cx="687.9" cy="738.9" r="2.7"/><circle cx="690.7" cy="741.0" r="2.7"/><circle cx="691.5" cy="738.3" r="2.7"/><circle cx="693.0" cy="740.6" r="2.7"/><circle cx="692.0" cy="737.1" r="2.7"/><circle cx="692.8" cy="737.2" r="2.7"/><circle cx="693.5" cy="740.1" r="2.7"/><circle cx="693.7" cy="736.0" r="2.7"/><circle cx="693.7" cy="736.4" r="2.7"/><circle cx="694.0" cy="738.7" r="2.7"/><circle cx="695.5" cy="735.3" r="2.7"/><circle cx="695.7" cy="736.4" r="2.7"/><circle cx="696.6" cy="736.4" r="2.7"/><circle cx="698.1" cy="737.1" r="2.7"/><circle cx="699.2" cy="736.6" r="2.7"/><circle cx="699.5" cy="737.9" r="2.7"/><circle cx="697.3" cy="734.8" r="2.7"/><circle cx="701.1" cy="737.2" r="2.7"/><circle cx="700.7" cy="735.9" r="2.7"/><circle cx="700.6" cy="736.5" r="2.7"/><circle cx="701.4" cy="737.9" r="2.7"/><circle cx="701.1" cy="735.9" r="2.7"/><circle cx="703.2" cy="736.6" r="2.7"/><circle cx="702.9" cy="735.7" r="2.7"/><circle cx="705.1" cy="735.1" r="2.7"/><circle cx="704.8" cy="736.7" r="2.7"/><circle cx="704.4" cy="737.1" r="2.7"/><circle cx="706.1" cy="736.3" r="2.7"/><circle cx="705.7" cy="735.7" r="2.7"/><circle cx="706.8" cy="733.2" r="2.7"/><circle cx="705.7" cy="733.1" r="2.7"/><circle cx="708.6" cy="734.5" r="2.7"/><circle cx="707.7" cy="730.9" r="2.7"/><circle cx="708.5" cy="733.3" r="2.7"/><circle cx="709.1" cy="735.8" r="2.7"/><circle cx="710.9" cy="732.3" r="2.7"/><circle cx="710.7" cy="734.0" r="2.7"/><circle cx="712.5" cy="735.3" r="2.7"/><circle cx="711.6" cy="732.7" r="2.7"/><circle cx="713.9" cy="732.1" r="2.7"/><circle cx="714.1" cy="732.1" r="2.7"/><circle cx="714.6" cy="731.1" r="2.7"/><circle cx="716.1" cy="732.1" r="2.7"/><circle cx="714.9" cy="732.1" r="2.7"/><circle cx="714.4" cy="732.5" r="2.7"/><circle cx="717.8" cy="734.3" r="2.7"/><circle cx="718.1" cy="731.8" r="2.7"/><circle cx="717.8" cy="735.0" r="2.7"/><circle cx="717.6" cy="733.2" r="2.7"/><circle cx="718.0" cy="731.8" r="2.7"/><circle cx="718.4" cy="734.3" r="2.7"/><circle cx="719.6" cy="731.9" r="2.7"/><circle cx="719.7" cy="731.4" r="2.7"/><circle cx="721.1" cy="730.1" r="2.7"/><circle cx="721.5" cy="729.3" r="2.7"/><circle cx="722.3" cy="733.0" r="2.7"/><circle cx="722.4" cy="729.3" r="2.7"/><circle cx="721.1" cy="728.5" r="2.7"/><circle cx="724.3" cy="731.3" r="2.7"/><circle cx="723.9" cy="732.2" r="2.7"/><circle cx="725.3" cy="731.2" r="2.7"/><circle cx="724.9" cy="729.7" r="2.7"/><circle cx="726.2" cy="729.6" r="2.7"/><circle cx="728.3" cy="731.9" r="2.7"/><circle cx="728.1" cy="732.3" r="2.7"/><circle cx="727.6" cy="728.7" r="2.7"/><circle cx="729.0" cy="731.3" r="2.7"/><circle cx="728.7" cy="727.4" r="2.7"/><circle cx="728.5" cy="729.5" r="2.7"/><circle cx="731.3" cy="728.8" r="2.7"/><circle cx="731.0" cy="731.0" r="2.7"/><circle cx="733.4" cy="730.4" r="2.7"/><circle cx="733.0" cy="730.0" r="2.7"/><circle cx="732.9" cy="729.2" r="2.7"/><circle cx="733.0" cy="728.0" r="2.7"/><circle cx="735.1" cy="730.8" r="2.7"/><circle cx="734.2" cy="730.7" r="2.7"/><circle cx="735.7" cy="729.2" r="2.7"/><circle cx="735.1" cy="727.9" r="2.7"/><circle cx="737.2" cy="729.1" r="2.7"/><circle cx="736.5" cy="731.4" r="2.7"/><circle cx="737.2" cy="726.8" r="2.7"/><circle cx="740.4" cy="727.1" r="2.7"/><circle cx="738.5" cy="729.2" r="2.7"/><circle cx="739.5" cy="726.2" r="2.7"/><circle cx="740.1" cy="729.6" r="2.7"/><circle cx="740.5" cy="726.0" r="2.7"/><circle cx="741.8" cy="728.7" r="2.7"/><circle cx="742.6" cy="729.0" r="2.7"/><circle cx="743.7" cy="728.6" r="2.7"/><circle cx="743.8" cy="727.3" r="2.7"/><circle cx="744.3" cy="726.6" r="2.7"/><circle cx="744.1" cy="723.2" r="2.7"/><circle cx="744.3" cy="726.5" r="2.7"/><circle cx="744.9" cy="728.1" r="2.7"/><circle cx="745.2" cy="725.4" r="2.7"/><circle cx="746.9" cy="726.8" r="2.7"/><circle cx="746.9" cy="723.3" r="2.7"/><circle cx="747.7" cy="726.9" r="2.7"/><circle cx="748.7" cy="728.0" r="2.7"/><circle cx="749.2" cy="723.7" r="2.7"/><circle cx="750.3" cy="727.6" r="2.7"/><circle cx="750.2" cy="723.7" r="2.7"/><circle cx="751.5" cy="727.0" r="2.7"/><circle cx="749.9" cy="722.4" r="2.7"/><circle cx="753.5" cy="724.2" r="2.7"/><circle cx="753.1" cy="725.7" r="2.7"/><circle cx="754.0" cy="724.3" r="2.7"/><circle cx="753.9" cy="723.6" r="2.7"/><circle cx="754.5" cy="722.5" r="2.7"/><circle cx="754.4" cy="723.5" r="2.7"/><circle cx="756.1" cy="722.0" r="2.7"/><circle cx="754.5" cy="721.2" r="2.7"/><circle cx="755.1" cy="722.9" r="2.7"/><circle cx="755.7" cy="722.4" r="2.7"/><circle cx="758.4" cy="723.9" r="2.7"/><circle cx="758.1" cy="720.4" r="2.7"/><circle cx="759.4" cy="722.1" r="2.7"/><circle cx="758.1" cy="721.1" r="2.7"/><circle cx="758.4" cy="719.1" r="2.7"/><circle cx="760.9" cy="720.4" r="2.7"/><circle cx="760.0" cy="719.5" r="2.7"/><circle cx="761.2" cy="722.1" r="2.7"/><circle cx="762.1" cy="720.4" r="2.7"/><circle cx="761.9" cy="717.0" r="2.7"/><circle cx="762.9" cy="718.8" r="2.7"/><circle cx="762.2" cy="719.8" r="2.7"/><circle cx="764.4" cy="718.6" r="2.7"/><circle cx="763.1" cy="716.8" r="2.7"/><circle cx="763.5" cy="717.6" r="2.7"/><circle cx="765.5" cy="716.6" r="2.7"/><circle cx="766.3" cy="717.7" r="2.7"/><circle cx="766.0" cy="717.2" r="2.7"/><circle cx="767.0" cy="714.5" r="2.7"/><circle cx="766.4" cy="716.8" r="2.7"/><circle cx="766.8" cy="715.5" r="2.7"/><circle cx="765.9" cy="713.5" r="2.7"/><circle cx="768.0" cy="714.8" r="2.7"/><circle cx="768.7" cy="713.3" r="2.7"/><circle cx="770.7" cy="714.1" r="2.7"/><circle cx="771.1" cy="712.9" r="2.7"/><circle cx="769.1" cy="712.2" r="2.7"/><circle cx="770.8" cy="711.0" r="2.7"/><circle cx="771.1" cy="711.5" r="2.7"/><circle cx="770.5" cy="711.3" r="2.7"/><circle cx="772.1" cy="711.7" r="2.7"/><circle cx="770.5" cy="709.5" r="2.7"/><circle cx="773.9" cy="710.3" r="2.7"/><circle cx="774.2" cy="711.4" r="2.7"/><circle cx="774.4" cy="710.0" r="2.7"/><circle cx="774.5" cy="708.8" r="2.7"/><circle cx="773.6" cy="709.0" r="2.7"/><circle cx="775.2" cy="709.0" r="2.7"/><circle cx="776.5" cy="707.9" r="2.7"/><circle cx="775.2" cy="706.8" r="2.7"/><circle cx="775.8" cy="705.4" r="2.7"/><circle cx="777.3" cy="704.9" r="2.7"/><circle cx="776.7" cy="706.2" r="2.7"/><circle cx="775.7" cy="705.6" r="2.7"/><circle cx="776.7" cy="704.6" r="2.7"/><circle cx="779.0" cy="705.2" r="2.7"/><circle cx="779.4" cy="704.0" r="2.7"/><circle cx="779.3" cy="700.7" r="2.7"/><circle cx="781.8" cy="704.7" r="2.7"/><circle cx="781.2" cy="704.5" r="2.7"/><circle cx="782.2" cy="701.8" r="2.7"/><circle cx="780.5" cy="700.4" r="2.7"/><circle cx="780.6" cy="699.6" r="2.7"/><circle cx="782.5" cy="702.7" r="2.7"/><circle cx="780.9" cy="699.2" r="2.7"/><circle cx="783.0" cy="703.6" r="2.7"/><circle cx="783.5" cy="700.9" r="2.7"/><circle cx="783.3" cy="700.2" r="2.7"/><circle cx="784.2" cy="698.6" r="2.7"/><circle cx="785.5" cy="698.7" r="2.7"/><circle cx="785.3" cy="698.5" r="2.7"/><circle cx="785.1" cy="697.9" r="2.7"/><circle cx="786.0" cy="697.5" r="2.7"/><circle cx="786.9" cy="699.7" r="2.7"/><circle cx="786.4" cy="696.5" r="2.7"/><circle cx="788.1" cy="696.0" r="2.7"/><circle cx="788.0" cy="695.4" r="2.7"/><circle cx="789.9" cy="696.0" r="2.7"/><circle cx="789.9" cy="694.5" r="2.7"/><circle cx="788.9" cy="694.1" r="2.7"/><circle cx="788.4" cy="694.0" r="2.7"/><circle cx="790.0" cy="692.3" r="2.7"/><circle cx="791.3" cy="693.2" r="2.7"/><circle cx="790.7" cy="690.3" r="2.7"/><circle cx="792.1" cy="692.2" r="2.7"/><circle cx="791.3" cy="691.0" r="2.7"/><circle cx="792.9" cy="692.0" r="2.7"/><circle cx="793.2" cy="692.2" r="2.7"/><circle cx="793.2" cy="691.8" r="2.7"/><circle cx="795.4" cy="691.4" r="2.7"/><circle cx="794.5" cy="689.3" r="2.7"/><circle cx="796.9" cy="691.8" r="2.7"/><circle cx="795.8" cy="689.8" r="2.7"/><circle cx="796.5" cy="690.1" r="2.7"/><circle cx="797.5" cy="691.0" r="2.7"/><circle cx="798.9" cy="690.6" r="2.7"/><circle cx="797.5" cy="687.8" r="2.7"/><circle cx="798.1" cy="688.8" r="2.7"/><circle cx="799.6" cy="689.1" r="2.7"/><circle cx="798.4" cy="688.6" r="2.7"/><circle cx="799.5" cy="688.4" r="2.7"/><circle cx="799.3" cy="686.6" r="2.7"/><circle cx="800.5" cy="688.1" r="2.7"/><circle cx="800.3" cy="684.9" r="2.7"/><circle cx="802.4" cy="686.1" r="2.7"/><circle cx="802.4" cy="685.5" r="2.7"/><circle cx="804.8" cy="687.3" r="2.7"/><circle cx="803.7" cy="685.7" r="2.7"/><circle cx="804.2" cy="684.2" r="2.7"/><circle cx="806.0" cy="687.2" r="2.7"/><circle cx="805.0" cy="683.1" r="2.7"/><circle cx="804.9" cy="684.1" r="2.7"/><circle cx="804.8" cy="684.2" r="2.7"/><circle cx="807.0" cy="683.3" r="2.7"/><circle cx="807.2" cy="683.4" r="2.7"/><circle cx="808.3" cy="684.5" r="2.7"/><circle cx="808.9" cy="683.6" r="2.7"/><circle cx="808.2" cy="684.2" r="2.7"/><circle cx="810.5" cy="684.1" r="2.7"/><circle cx="810.9" cy="683.8" r="2.7"/><circle cx="812.0" cy="682.8" r="2.7"/><circle cx="811.0" cy="683.1" r="2.7"/><circle cx="812.4" cy="683.4" r="2.7"/><circle cx="813.8" cy="680.9" r="2.7"/><circle cx="813.6" cy="683.4" r="2.7"/><circle cx="814.1" cy="679.7" r="2.7"/><circle cx="814.4" cy="679.3" r="2.7"/><circle cx="815.5" cy="682.2" r="2.7"/><circle cx="815.4" cy="682.3" r="2.7"/><circle cx="815.6" cy="678.5" r="2.7"/><circle cx="816.9" cy="680.1" r="2.7"/><circle cx="818.8" cy="680.6" r="2.7"/><circle cx="817.5" cy="680.3" r="2.7"/><circle cx="818.0" cy="680.3" r="2.7"/><circle cx="819.2" cy="681.3" r="2.7"/><circle cx="819.7" cy="678.3" r="2.7"/><circle cx="821.0" cy="681.9" r="2.7"/><circle cx="819.3" cy="680.5" r="2.7"/><circle cx="821.6" cy="680.8" r="2.7"/><circle cx="820.5" cy="679.0" r="2.7"/><circle cx="823.4" cy="680.4" r="2.7"/><circle cx="824.4" cy="679.0" r="2.7"/><circle cx="823.1" cy="679.9" r="2.7"/><circle cx="823.4" cy="680.5" r="2.7"/><circle cx="825.0" cy="677.5" r="2.7"/><circle cx="826.6" cy="678.6" r="2.7"/><circle cx="825.3" cy="678.0" r="2.7"/><circle cx="825.1" cy="677.7" r="2.7"/><circle cx="827.5" cy="679.1" r="2.7"/><circle cx="827.9" cy="678.1" r="2.7"/><circle cx="830.0" cy="678.4" r="2.7"/><circle cx="828.7" cy="678.0" r="2.7"/><circle cx="829.6" cy="679.2" r="2.7"/><circle cx="829.9" cy="677.7" r="2.7"/><circle cx="832.2" cy="678.6" r="2.7"/><circle cx="832.4" cy="677.4" r="2.7"/><circle cx="831.5" cy="676.6" r="2.7"/><circle cx="833.6" cy="677.5" r="2.7"/><circle cx="833.5" cy="677.7" r="2.7"/><circle cx="834.6" cy="675.2" r="2.7"/><circle cx="834.4" cy="675.8" r="2.7"/><circle cx="834.6" cy="676.9" r="2.7"/><circle cx="834.9" cy="676.8" r="2.7"/><circle cx="836.4" cy="675.0" r="2.7"/><circle cx="835.2" cy="674.8" r="2.7"/><circle cx="837.4" cy="678.0" r="2.7"/><circle cx="838.7" cy="676.7" r="2.7"/><circle cx="838.5" cy="674.3" r="2.7"/><circle cx="839.6" cy="676.4" r="2.7"/><circle cx="839.5" cy="675.6" r="2.7"/><circle cx="840.2" cy="676.1" r="2.7"/><circle cx="840.1" cy="675.8" r="2.7"/><circle cx="843.0" cy="677.0" r="2.7"/><circle cx="841.3" cy="674.1" r="2.7"/><circle cx="841.9" cy="673.5" r="2.7"/><circle cx="843.9" cy="676.8" r="2.7"/><circle cx="843.2" cy="676.2" r="2.7"/><circle cx="845.0" cy="678.2" r="2.7"/><circle cx="844.8" cy="677.5" r="2.7"/><circle cx="846.5" cy="674.8" r="2.7"/><circle cx="846.9" cy="675.2" r="2.7"/><circle cx="847.9" cy="675.9" r="2.7"/><circle cx="849.2" cy="679.1" r="2.7"/><circle cx="849.8" cy="675.7" r="2.7"/><circle cx="849.4" cy="675.2" r="2.7"/><circle cx="848.1" cy="678.0" r="2.7"/><circle cx="849.8" cy="677.2" r="2.7"/><circle cx="850.5" cy="674.1" r="2.7"/><circle cx="850.8" cy="676.1" r="2.7"/><circle cx="852.0" cy="675.8" r="2.7"/><circle cx="853.4" cy="676.3" r="2.7"/><circle cx="852.5" cy="677.4" r="2.7"/><circle cx="853.6" cy="678.0" r="2.7"/><circle cx="854.4" cy="678.2" r="2.7"/><circle cx="854.8" cy="676.6" r="2.7"/><circle cx="855.0" cy="676.2" r="2.7"/><circle cx="855.8" cy="676.6" r="2.7"/><circle cx="856.1" cy="677.6" r="2.7"/><circle cx="857.4" cy="676.3" r="2.7"/><circle cx="856.2" cy="678.5" r="2.7"/><circle cx="859.1" cy="676.4" r="2.7"/><circle cx="859.8" cy="678.5" r="2.7"/><circle cx="861.1" cy="676.9" r="2.7"/><circle cx="860.4" cy="676.0" r="2.7"/><circle cx="861.5" cy="678.6" r="2.7"/><circle cx="861.0" cy="678.9" r="2.7"/><circle cx="861.7" cy="674.7" r="2.7"/><circle cx="861.4" cy="677.7" r="2.7"/><circle cx="864.1" cy="678.1" r="2.7"/><circle cx="863.4" cy="677.4" r="2.7"/><circle cx="866.1" cy="679.2" r="2.7"/><circle cx="864.8" cy="677.0" r="2.7"/><circle cx="866.0" cy="677.0" r="2.7"/><circle cx="866.1" cy="677.6" r="2.7"/><circle cx="866.5" cy="676.9" r="2.7"/><circle cx="868.8" cy="678.0" r="2.7"/><circle cx="868.8" cy="680.9" r="2.7"/><circle cx="869.8" cy="680.0" r="2.7"/><circle cx="868.4" cy="677.4" r="2.7"/><circle cx="870.4" cy="678.1" r="2.7"/><circle cx="871.6" cy="678.5" r="2.7"/><circle cx="872.0" cy="679.1" r="2.7"/><circle cx="872.4" cy="679.3" r="2.7"/><circle cx="872.7" cy="679.0" r="2.7"/><circle cx="873.3" cy="680.4" r="2.7"/><circle cx="875.4" cy="677.2" r="2.7"/><circle cx="873.4" cy="680.2" r="2.7"/><circle cx="873.9" cy="679.5" r="2.7"/><circle cx="875.6" cy="676.7" r="2.7"/><circle cx="876.4" cy="675.2" r="2.7"/><circle cx="876.1" cy="676.2" r="2.7"/><circle cx="876.6" cy="678.8" r="2.7"/><circle cx="877.6" cy="676.8" r="2.7"/><circle cx="879.0" cy="678.0" r="2.7"/><circle cx="877.3" cy="681.1" r="2.7"/><circle cx="880.2" cy="681.1" r="2.7"/><circle cx="880.4" cy="678.1" r="2.7"/><circle cx="880.4" cy="679.8" r="2.7"/><circle cx="881.6" cy="679.7" r="2.7"/><circle cx="882.0" cy="678.5" r="2.7"/><circle cx="882.8" cy="681.6" r="2.7"/><circle cx="884.0" cy="679.9" r="2.7"/><circle cx="883.5" cy="680.4" r="2.7"/><circle cx="885.3" cy="680.9" r="2.7"/><circle cx="884.2" cy="680.4" r="2.7"/><circle cx="884.4" cy="679.5" r="2.7"/><circle cx="887.0" cy="680.3" r="2.7"/><circle cx="885.9" cy="678.5" r="2.7"/><circle cx="888.0" cy="677.9" r="2.7"/><circle cx="886.7" cy="681.4" r="2.7"/><circle cx="887.5" cy="679.2" r="2.7"/><circle cx="887.9" cy="680.8" r="2.7"/><circle cx="890.3" cy="680.6" r="2.7"/><circle cx="890.3" cy="679.4" r="2.7"/><circle cx="890.5" cy="678.5" r="2.7"/><circle cx="890.2" cy="680.1" r="2.7"/><circle cx="891.1" cy="682.6" r="2.7"/><circle cx="892.2" cy="683.6" r="2.7"/><circle cx="894.2" cy="682.0" r="2.7"/><circle cx="894.5" cy="680.7" r="2.7"/><circle cx="896.3" cy="680.3" r="2.7"/><circle cx="895.3" cy="681.0" r="2.7"/><circle cx="895.6" cy="678.5" r="2.7"/><circle cx="896.4" cy="682.7" r="2.7"/><circle cx="896.8" cy="683.0" r="2.7"/><circle cx="897.4" cy="678.7" r="2.7"/><circle cx="900.4" cy="681.7" r="2.7"/><circle cx="898.4" cy="680.6" r="2.7"/><circle cx="899.7" cy="681.8" r="2.7"/><circle cx="900.1" cy="681.3" r="2.7"/><circle cx="901.4" cy="682.0" r="2.7"/><circle cx="900.9" cy="679.0" r="2.7"/><circle cx="901.9" cy="679.0" r="2.7"/><circle cx="902.4" cy="680.1" r="2.7"/><circle cx="902.9" cy="675.5" r="2.7"/><circle cx="903.9" cy="676.4" r="2.7"/><circle cx="905.5" cy="676.4" r="2.7"/><circle cx="906.4" cy="680.1" r="2.7"/><circle cx="905.2" cy="677.8" r="2.7"/><circle cx="907.4" cy="677.2" r="2.7"/><circle cx="906.6" cy="676.9" r="2.7"/><circle cx="907.2" cy="677.5" r="2.7"/><circle cx="907.8" cy="677.6" r="2.7"/><circle cx="906.0" cy="674.5" r="2.7"/><circle cx="908.2" cy="676.0" r="2.7"/><circle cx="910.0" cy="673.7" r="2.7"/><circle cx="909.2" cy="675.2" r="2.7"/><circle cx="910.5" cy="675.0" r="2.7"/><circle cx="910.5" cy="675.3" r="2.7"/><circle cx="913.7" cy="676.2" r="2.7"/><circle cx="911.6" cy="675.1" r="2.7"/><circle cx="912.0" cy="671.7" r="2.7"/><circle cx="912.6" cy="672.8" r="2.7"/><circle cx="912.3" cy="671.0" r="2.7"/><circle cx="914.4" cy="671.9" r="2.7"/><circle cx="914.0" cy="672.5" r="2.7"/><circle cx="913.0" cy="671.2" r="2.7"/><circle cx="913.8" cy="670.3" r="2.7"/><circle cx="914.2" cy="671.5" r="2.7"/><circle cx="915.3" cy="668.2" r="2.7"/><circle cx="915.3" cy="669.6" r="2.7"/><circle cx="914.7" cy="666.9" r="2.7"/><circle cx="915.9" cy="667.4" r="2.7"/><circle cx="917.4" cy="669.9" r="2.7"/><circle cx="916.8" cy="669.1" r="2.7"/><circle cx="917.9" cy="666.5" r="2.7"/><circle cx="918.0" cy="666.2" r="2.7"/><circle cx="920.5" cy="665.5" r="2.7"/><circle cx="917.7" cy="665.0" r="2.7"/><circle cx="918.9" cy="664.8" r="2.7"/><circle cx="919.7" cy="666.3" r="2.7"/><circle cx="920.1" cy="665.6" r="2.7"/><circle cx="919.7" cy="663.0" r="2.7"/><circle cx="918.9" cy="664.0" r="2.7"/><circle cx="921.0" cy="663.0" r="2.7"/><circle cx="922.5" cy="662.7" r="2.7"/><circle cx="924.6" cy="663.3" r="2.7"/><circle cx="923.5" cy="660.5" r="2.7"/><circle cx="923.9" cy="660.5" r="2.7"/><circle cx="922.8" cy="661.0" r="2.7"/><circle cx="923.8" cy="659.6" r="2.7"/><circle cx="927.6" cy="661.3" r="2.7"/><circle cx="923.8" cy="658.2" r="2.7"/><circle cx="925.5" cy="658.6" r="2.7"/><circle cx="926.9" cy="659.5" r="2.7"/><circle cx="925.9" cy="657.6" r="2.7"/><circle cx="927.1" cy="656.7" r="2.7"/><circle cx="927.7" cy="657.4" r="2.7"/><circle cx="925.9" cy="656.9" r="2.7"/><circle cx="928.0" cy="658.2" r="2.7"/><circle cx="929.2" cy="656.4" r="2.7"/><circle cx="929.3" cy="655.4" r="2.7"/><circle cx="929.2" cy="656.8" r="2.7"/><circle cx="929.4" cy="654.2" r="2.7"/><circle cx="927.8" cy="652.8" r="2.7"/><circle cx="930.6" cy="651.9" r="2.7"/><circle cx="931.2" cy="652.9" r="2.7"/><circle cx="929.7" cy="652.4" r="2.7"/><circle cx="930.5" cy="650.9" r="2.7"/><circle cx="933.4" cy="652.2" r="2.7"/><circle cx="930.4" cy="650.7" r="2.7"/><circle cx="931.0" cy="649.5" r="2.7"/><circle cx="934.2" cy="651.6" r="2.7"/><circle cx="931.9" cy="649.0" r="2.7"/><circle cx="933.3" cy="647.8" r="2.7"/><circle cx="936.2" cy="649.1" r="2.7"/><circle cx="935.3" cy="648.5" r="2.7"/><circle cx="934.7" cy="649.0" r="2.7"/><circle cx="934.0" cy="648.6" r="2.7"/><circle cx="936.9" cy="650.3" r="2.7"/><circle cx="935.6" cy="644.0" r="2.7"/><circle cx="937.7" cy="646.8" r="2.7"/><circle cx="937.3" cy="645.9" r="2.7"/><circle cx="939.9" cy="647.7" r="2.7"/><circle cx="939.7" cy="647.7" r="2.7"/><circle cx="940.7" cy="647.1" r="2.7"/><circle cx="941.3" cy="645.6" r="2.7"/><circle cx="941.6" cy="645.1" r="2.7"/><circle cx="941.4" cy="645.2" r="2.7"/><circle cx="941.3" cy="643.5" r="2.7"/><circle cx="942.3" cy="643.5" r="2.7"/><circle cx="942.8" cy="643.9" r="2.7"/><circle cx="944.6" cy="643.5" r="2.7"/><circle cx="942.2" cy="640.2" r="2.7"/><circle cx="944.4" cy="643.4" r="2.7"/><circle cx="945.0" cy="641.8" r="2.7"/><circle cx="947.8" cy="640.7" r="2.7"/><circle cx="947.2" cy="642.8" r="2.7"/><circle cx="946.2" cy="640.5" r="2.7"/><circle cx="946.7" cy="640.6" r="2.7"/><circle cx="947.6" cy="639.7" r="2.7"/><circle cx="947.9" cy="641.1" r="2.7"/><circle cx="947.6" cy="638.3" r="2.7"/><circle cx="948.9" cy="638.6" r="2.7"/><circle cx="949.6" cy="639.5" r="2.7"/><circle cx="951.0" cy="640.0" r="2.7"/><circle cx="950.0" cy="639.8" r="2.7"/><circle cx="951.0" cy="637.3" r="2.7"/><circle cx="951.9" cy="637.1" r="2.7"/><circle cx="952.5" cy="640.7" r="2.7"/><circle cx="954.2" cy="639.0" r="2.7"/><circle cx="951.6" cy="636.5" r="2.7"/><circle cx="955.1" cy="641.3" r="2.7"/><circle cx="954.8" cy="636.6" r="2.7"/><circle cx="954.8" cy="636.4" r="2.7"/><circle cx="955.8" cy="637.6" r="2.7"/><circle cx="957.3" cy="639.5" r="2.7"/><circle cx="956.6" cy="639.1" r="2.7"/><circle cx="959.0" cy="637.4" r="2.7"/><circle cx="958.1" cy="637.1" r="2.7"/><circle cx="958.4" cy="635.2" r="2.7"/><circle cx="958.2" cy="635.6" r="2.7"/><circle cx="959.1" cy="638.4" r="2.7"/><circle cx="959.9" cy="636.3" r="2.7"/><circle cx="961.4" cy="635.6" r="2.7"/><circle cx="962.2" cy="635.4" r="2.7"/><circle cx="961.9" cy="634.9" r="2.7"/><circle cx="962.5" cy="634.1" r="2.7"/><circle cx="965.3" cy="635.0" r="2.7"/><circle cx="964.3" cy="633.9" r="2.7"/><circle cx="964.1" cy="636.2" r="2.7"/><circle cx="966.0" cy="635.3" r="2.7"/><circle cx="966.2" cy="635.4" r="2.7"/><circle cx="967.6" cy="635.4" r="2.7"/><circle cx="968.5" cy="635.8" r="2.7"/><circle cx="968.8" cy="633.4" r="2.7"/><circle cx="967.1" cy="637.4" r="2.7"/><circle cx="968.7" cy="636.3" r="2.7"/><circle cx="970.6" cy="635.2" r="2.7"/><circle cx="969.5" cy="634.2" r="2.7"/><circle cx="969.7" cy="635.2" r="2.7"/><circle cx="969.7" cy="635.9" r="2.7"/><circle cx="972.0" cy="637.4" r="2.7"/><circle cx="972.2" cy="638.8" r="2.7"/><circle cx="971.6" cy="638.4" r="2.7"/><circle cx="972.7" cy="638.3" r="2.7"/><circle cx="971.7" cy="639.6" r="2.7"/><circle cx="975.4" cy="638.1" r="2.7"/><circle cx="971.2" cy="642.3" r="2.7"/><circle cx="976.9" cy="637.8" r="2.7"/><circle cx="974.9" cy="640.9" r="2.7"/><circle cx="975.2" cy="641.4" r="2.7"/><circle cx="975.5" cy="642.4" r="2.7"/><circle cx="976.1" cy="642.6" r="2.7"/><circle cx="978.1" cy="640.8" r="2.7"/><circle cx="979.6" cy="639.7" r="2.7"/><circle cx="977.7" cy="643.5" r="2.7"/><circle cx="976.6" cy="644.5" r="2.7"/><circle cx="978.4" cy="645.8" r="2.7"/><circle cx="978.6" cy="643.4" r="2.7"/><circle cx="979.6" cy="644.2" r="2.7"/><circle cx="979.5" cy="646.8" r="2.7"/><circle cx="981.5" cy="644.3" r="2.7"/><circle cx="979.7" cy="646.7" r="2.7"/><circle cx="979.1" cy="646.3" r="2.7"/><circle cx="979.5" cy="647.8" r="2.7"/><circle cx="982.2" cy="646.2" r="2.7"/><circle cx="983.2" cy="647.6" r="2.7"/><circle cx="984.7" cy="647.3" r="2.7"/><circle cx="983.9" cy="648.0" r="2.7"/><circle cx="982.8" cy="648.4" r="2.7"/><circle cx="983.6" cy="650.7" r="2.7"/><circle cx="972.0" cy="623.0" r="2.7"/><circle cx="969.5" cy="629.0" r="2.7"/><circle cx="966.0" cy="631.0" r="2.7"/><circle cx="837.0" cy="628.5" r="2.7"/><circle cx="838.3" cy="627.8" r="2.7"/><circle cx="842.6" cy="626.1" r="2.7"/><circle cx="845.3" cy="627.9" r="2.7"/><circle cx="845.4" cy="626.5" r="2.7"/><circle cx="847.9" cy="625.3" r="2.7"/><circle cx="850.2" cy="627.0" r="2.7"/><circle cx="852.3" cy="626.4" r="2.7"/><circle cx="853.1" cy="627.4" r="2.7"/><circle cx="855.1" cy="631.6" r="2.7"/><circle cx="859.2" cy="632.3" r="2.7"/><circle cx="859.4" cy="636.5" r="2.7"/><circle cx="858.3" cy="636.6" r="2.7"/><circle cx="860.9" cy="641.1" r="2.7"/><circle cx="863.6" cy="638.3" r="2.7"/><circle cx="864.8" cy="642.2" r="2.7"/><circle cx="865.7" cy="641.3" r="2.7"/><circle cx="867.4" cy="644.7" r="2.7"/><circle cx="872.7" cy="646.2" r="2.7"/><circle cx="870.6" cy="643.7" r="2.7"/><circle cx="876.7" cy="645.3" r="2.7"/><circle cx="876.7" cy="647.8" r="2.7"/><circle cx="877.4" cy="646.0" r="2.7"/><circle cx="876.7" cy="646.6" r="2.7"/><circle cx="883.0" cy="653.1" r="2.7"/><circle cx="862.0" cy="654.0" r="2.7"/><circle cx="860.0" cy="652.5" r="2.7"/><circle cx="868.0" cy="662.0" r="2.7"/><circle cx="879.0" cy="655.0" r="2.7"/><circle cx="879.0" cy="664.0" r="2.7"/><circle cx="887.5" cy="642.0" r="2.7"/><circle cx="838.0" cy="628.5" r="2.7"/><circle cx="846.0" cy="623.5" r="2.7"/><circle cx="851.0" cy="626.0" r="2.7"/><circle cx="857.0" cy="574.0" r="2.7"/><circle cx="860.0" cy="576.0" r="2.7"/><circle cx="864.0" cy="569.0" r="2.7"/><circle cx="866.5" cy="573.0" r="2.7"/><circle cx="870.0" cy="571.5" r="2.7"/><circle cx="875.5" cy="572.0" r="2.7"/><circle cx="874.0" cy="577.0" r="2.7"/><circle cx="868.0" cy="581.0" r="2.7"/><circle cx="915.6" cy="615.8" r="2.7"/><circle cx="937.8" cy="649.5" r="2.7"/><circle cx="911.8" cy="619.9" r="2.7"/><circle cx="922.6" cy="635.5" r="2.7"/><circle cx="921.9" cy="631.1" r="2.7"/><circle cx="926.2" cy="642.5" r="2.7"/><circle cx="911.2" cy="642.0" r="2.7"/><circle cx="926.8" cy="634.9" r="2.7"/><circle cx="909.4" cy="625.1" r="2.7"/><circle cx="920.6" cy="636.1" r="2.7"/><circle cx="929.0" cy="636.7" r="2.7"/><circle cx="911.3" cy="644.0" r="2.7"/><circle cx="923.5" cy="639.8" r="2.7"/><circle cx="922.8" cy="619.1" r="2.7"/><circle cx="946.4" cy="636.4" r="2.7"/><circle cx="929.7" cy="622.2" r="2.7"/><circle cx="920.9" cy="642.1" r="2.7"/><circle cx="926.9" cy="650.1" r="2.7"/><circle cx="933.7" cy="614.4" r="2.7"/><circle cx="909.1" cy="642.7" r="2.7"/><circle cx="928.3" cy="624.8" r="2.7"/><circle cx="920.3" cy="621.0" r="2.7"/><circle cx="939.0" cy="626.0" r="2.7"/><circle cx="910.5" cy="639.5" r="2.7"/><circle cx="922.1" cy="632.5" r="2.7"/><circle cx="919.5" cy="627.6" r="2.7"/><circle cx="906.0" cy="634.8" r="2.7"/><circle cx="916.7" cy="623.2" r="2.7"/><circle cx="925.7" cy="644.1" r="2.7"/><circle cx="903.6" cy="626.4" r="2.7"/><circle cx="927.8" cy="640.8" r="2.7"/><circle cx="914.7" cy="632.1" r="2.7"/><circle cx="926.5" cy="639.8" r="2.7"/><circle cx="917.3" cy="625.7" r="2.7"/><circle cx="918.3" cy="642.4" r="2.7"/><circle cx="932.6" cy="622.5" r="2.7"/><circle cx="921.6" cy="630.8" r="2.7"/><circle cx="914.8" cy="626.7" r="2.7"/><circle cx="930.6" cy="637.8" r="2.7"/><circle cx="916.8" cy="619.9" r="2.7"/><circle cx="921.8" cy="609.7" r="2.7"/><circle cx="925.6" cy="629.6" r="2.7"/><circle cx="910.9" cy="625.2" r="2.7"/><circle cx="916.9" cy="624.7" r="2.7"/><circle cx="915.0" cy="645.1" r="2.7"/><circle cx="914.2" cy="637.6" r="2.7"/><circle cx="924.7" cy="646.1" r="2.7"/><circle cx="922.3" cy="628.1" r="2.7"/><circle cx="923.5" cy="604.6" r="2.7"/><circle cx="944.4" cy="625.5" r="2.7"/><circle cx="920.0" cy="614.1" r="2.7"/><circle cx="921.6" cy="648.2" r="2.7"/><circle cx="916.1" cy="633.6" r="2.7"/><circle cx="932.1" cy="639.9" r="2.7"/><circle cx="919.2" cy="606.4" r="2.7"/><circle cx="926.5" cy="635.2" r="2.7"/><circle cx="919.9" cy="622.8" r="2.7"/><circle cx="938.6" cy="608.5" r="2.7"/><circle cx="918.2" cy="620.6" r="2.7"/><circle cx="908.8" cy="619.5" r="2.7"/><circle cx="915.7" cy="643.6" r="2.7"/><circle cx="907.2" cy="611.1" r="2.7"/><circle cx="925.2" cy="608.9" r="2.7"/><circle cx="904.8" cy="620.4" r="2.7"/><circle cx="912.0" cy="616.1" r="2.7"/><circle cx="921.4" cy="633.8" r="2.7"/><circle cx="917.0" cy="624.7" r="2.7"/><circle cx="929.2" cy="626.3" r="2.7"/><circle cx="929.4" cy="620.9" r="2.7"/><circle cx="927.2" cy="643.9" r="2.7"/><circle cx="910.4" cy="665.2" r="2.7"/><circle cx="919.9" cy="624.0" r="2.7"/><circle cx="921.4" cy="633.9" r="2.7"/><circle cx="912.0" cy="628.6" r="2.7"/><circle cx="917.6" cy="645.8" r="2.7"/><circle cx="907.3" cy="636.2" r="2.7"/><circle cx="920.0" cy="618.9" r="2.7"/><circle cx="924.1" cy="625.2" r="2.7"/><circle cx="923.2" cy="631.1" r="2.7"/><circle cx="933.6" cy="623.2" r="2.7"/><circle cx="937.8" cy="594.8" r="2.7"/><circle cx="939.2" cy="643.2" r="2.7"/><circle cx="936.9" cy="630.6" r="2.7"/><circle cx="925.4" cy="615.7" r="2.7"/><circle cx="934.8" cy="613.9" r="2.7"/><circle cx="915.7" cy="628.2" r="2.7"/><circle cx="924.9" cy="632.4" r="2.7"/><circle cx="912.4" cy="623.9" r="2.7"/><circle cx="927.2" cy="642.8" r="2.7"/><circle cx="929.7" cy="633.3" r="2.7"/><circle cx="920.5" cy="621.5" r="2.7"/><circle cx="918.2" cy="627.0" r="2.7"/><circle cx="927.6" cy="622.0" r="2.7"/><circle cx="941.3" cy="615.8" r="2.7"/><circle cx="930.2" cy="625.7" r="2.7"/><circle cx="921.6" cy="623.5" r="2.7"/><circle cx="936.6" cy="624.5" r="2.7"/><circle cx="927.8" cy="629.6" r="2.7"/><circle cx="929.6" cy="635.4" r="2.7"/><circle cx="937.7" cy="619.2" r="2.7"/><circle cx="915.5" cy="649.0" r="2.7"/><circle cx="934.3" cy="629.1" r="2.7"/><circle cx="920.3" cy="631.3" r="2.7"/><circle cx="934.5" cy="618.8" r="2.7"/><circle cx="935.9" cy="627.5" r="2.7"/><circle cx="919.6" cy="623.3" r="2.7"/><circle cx="904.0" cy="632.1" r="2.7"/><circle cx="911.0" cy="621.3" r="2.7"/><circle cx="914.8" cy="631.1" r="2.7"/><circle cx="929.3" cy="628.7" r="2.7"/><circle cx="924.5" cy="633.2" r="2.7"/><circle cx="937.2" cy="635.3" r="2.7"/><circle cx="936.9" cy="627.4" r="2.7"/><circle cx="926.0" cy="620.2" r="2.7"/><circle cx="928.2" cy="617.7" r="2.7"/><circle cx="927.1" cy="620.4" r="2.7"/><circle cx="919.7" cy="643.2" r="2.7"/><circle cx="924.1" cy="637.9" r="2.7"/><circle cx="920.7" cy="605.3" r="2.7"/><circle cx="936.0" cy="626.0" r="2.7"/><circle cx="917.0" cy="639.8" r="2.7"/><circle cx="912.7" cy="619.1" r="2.7"/><circle cx="933.1" cy="619.7" r="2.7"/><circle cx="933.0" cy="624.4" r="2.7"/><circle cx="920.9" cy="629.0" r="2.7"/><circle cx="918.4" cy="641.3" r="2.7"/><circle cx="932.7" cy="629.0" r="2.7"/><circle cx="928.3" cy="634.8" r="2.7"/><circle cx="937.9" cy="608.8" r="2.7"/><circle cx="932.0" cy="639.4" r="2.7"/><circle cx="920.0" cy="628.4" r="2.7"/><circle cx="919.7" cy="643.4" r="2.7"/><circle cx="912.6" cy="635.6" r="2.7"/><circle cx="934.3" cy="635.2" r="2.7"/><circle cx="918.5" cy="622.6" r="2.7"/><circle cx="903.8" cy="615.6" r="2.7"/><circle cx="932.7" cy="616.6" r="2.7"/><circle cx="908.1" cy="625.2" r="2.7"/><circle cx="909.5" cy="633.8" r="2.7"/><circle cx="915.0" cy="639.9" r="2.7"/><circle cx="921.8" cy="610.8" r="2.7"/><circle cx="915.9" cy="620.3" r="2.7"/><circle cx="915.3" cy="643.3" r="2.7"/><circle cx="913.8" cy="632.7" r="2.7"/><circle cx="917.6" cy="635.4" r="2.7"/><circle cx="910.0" cy="609.0" r="2.7"/><circle cx="927.4" cy="645.7" r="2.7"/><circle cx="910.4" cy="624.4" r="2.7"/><circle cx="918.3" cy="616.8" r="2.7"/><circle cx="931.5" cy="628.8" r="2.7"/><circle cx="910.4" cy="625.6" r="2.7"/><circle cx="934.8" cy="619.5" r="2.7"/><circle cx="918.2" cy="618.1" r="2.7"/><circle cx="924.3" cy="621.4" r="2.7"/><circle cx="930.8" cy="618.0" r="2.7"/><circle cx="909.8" cy="633.7" r="2.7"/><circle cx="894.4" cy="616.6" r="2.7"/><circle cx="925.4" cy="631.2" r="2.7"/><circle cx="917.7" cy="622.8" r="2.7"/><circle cx="915.6" cy="626.0" r="2.7"/><circle cx="918.8" cy="635.0" r="2.7"/><circle cx="922.9" cy="635.0" r="2.7"/><circle cx="937.5" cy="624.9" r="2.7"/><circle cx="920.3" cy="632.8" r="2.7"/><circle cx="941.7" cy="623.8" r="2.7"/><circle cx="938.0" cy="642.7" r="2.7"/><circle cx="898.3" cy="616.1" r="2.7"/><circle cx="914.0" cy="633.1" r="2.7"/><circle cx="934.8" cy="628.9" r="2.7"/><circle cx="924.3" cy="654.8" r="2.7"/><circle cx="926.1" cy="654.6" r="2.7"/><circle cx="914.8" cy="648.4" r="2.7"/><circle cx="918.3" cy="598.5" r="2.7"/><circle cx="915.4" cy="622.4" r="2.7"/><circle cx="922.5" cy="637.5" r="2.7"/><circle cx="929.0" cy="634.6" r="2.7"/><circle cx="916.1" cy="650.1" r="2.7"/><circle cx="933.6" cy="628.7" r="2.7"/><circle cx="917.7" cy="627.6" r="2.7"/><circle cx="920.9" cy="619.7" r="2.7"/><circle cx="922.8" cy="620.1" r="2.7"/><circle cx="928.6" cy="620.2" r="2.7"/><circle cx="927.3" cy="632.1" r="2.7"/><circle cx="924.4" cy="634.6" r="2.7"/><circle cx="913.6" cy="659.8" r="2.7"/><circle cx="916.6" cy="637.2" r="2.7"/><circle cx="923.1" cy="622.9" r="2.7"/><circle cx="938.5" cy="641.7" r="2.7"/><circle cx="920.4" cy="635.1" r="2.7"/><circle cx="929.0" cy="647.6" r="2.7"/><circle cx="932.0" cy="626.2" r="2.7"/><circle cx="920.6" cy="613.9" r="2.7"/><circle cx="925.2" cy="638.8" r="2.7"/><circle cx="919.4" cy="636.4" r="2.7"/><circle cx="924.1" cy="622.5" r="2.7"/><circle cx="911.9" cy="641.9" r="2.7"/><circle cx="945.7" cy="634.9" r="2.7"/><circle cx="913.2" cy="615.5" r="2.7"/><circle cx="925.2" cy="636.2" r="2.7"/><circle cx="936.5" cy="598.6" r="2.7"/><circle cx="939.5" cy="630.2" r="2.7"/><circle cx="924.1" cy="633.0" r="2.7"/><circle cx="919.7" cy="624.7" r="2.7"/><circle cx="932.4" cy="606.9" r="2.7"/><circle cx="921.9" cy="635.1" r="2.7"/><circle cx="908.1" cy="626.2" r="2.7"/><circle cx="936.7" cy="632.8" r="2.7"/><circle cx="929.3" cy="636.9" r="2.7"/><circle cx="924.9" cy="632.6" r="2.7"/><circle cx="915.6" cy="625.6" r="2.7"/><circle cx="939.5" cy="613.1" r="2.7"/><circle cx="921.4" cy="612.6" r="2.7"/><circle cx="918.1" cy="618.7" r="2.7"/><circle cx="911.9" cy="631.2" r="2.7"/><circle cx="914.4" cy="634.7" r="2.7"/><circle cx="939.2" cy="596.7" r="2.7"/><circle cx="921.4" cy="602.4" r="2.7"/><circle cx="921.8" cy="632.8" r="2.7"/><circle cx="924.8" cy="643.1" r="2.7"/><circle cx="924.3" cy="606.9" r="2.7"/><circle cx="936.5" cy="616.5" r="2.7"/><circle cx="922.1" cy="632.2" r="2.7"/><circle cx="915.0" cy="629.3" r="2.7"/><circle cx="936.4" cy="607.4" r="2.7"/><circle cx="907.9" cy="622.7" r="2.7"/><circle cx="921.4" cy="612.4" r="2.7"/><circle cx="902.2" cy="639.5" r="2.7"/><circle cx="926.4" cy="611.8" r="2.7"/><circle cx="928.1" cy="627.4" r="2.7"/><circle cx="912.9" cy="593.1" r="2.7"/><circle cx="904.5" cy="584.0" r="2.7"/><circle cx="901.4" cy="586.3" r="2.7"/><circle cx="906.1" cy="620.2" r="2.7"/><circle cx="915.9" cy="604.0" r="2.7"/><circle cx="911.7" cy="600.8" r="2.7"/><circle cx="910.4" cy="590.6" r="2.7"/><circle cx="914.6" cy="622.3" r="2.7"/><circle cx="919.9" cy="601.4" r="2.7"/><circle cx="899.5" cy="601.5" r="2.7"/><circle cx="917.9" cy="605.3" r="2.7"/><circle cx="914.4" cy="624.7" r="2.7"/><circle cx="920.1" cy="580.2" r="2.7"/><circle cx="915.5" cy="623.7" r="2.7"/><circle cx="914.7" cy="607.8" r="2.7"/><circle cx="920.8" cy="587.7" r="2.7"/><circle cx="905.9" cy="586.4" r="2.7"/><circle cx="913.5" cy="596.6" r="2.7"/><circle cx="920.7" cy="623.6" r="2.7"/><circle cx="915.6" cy="603.5" r="2.7"/><circle cx="906.2" cy="584.8" r="2.7"/><circle cx="916.3" cy="612.7" r="2.7"/><circle cx="911.0" cy="595.8" r="2.7"/><circle cx="909.4" cy="583.8" r="2.7"/><circle cx="911.7" cy="618.9" r="2.7"/><circle cx="911.0" cy="581.0" r="2.7"/><circle cx="914.0" cy="602.9" r="2.7"/><circle cx="908.6" cy="611.4" r="2.7"/><circle cx="923.3" cy="585.2" r="2.7"/><circle cx="907.4" cy="611.6" r="2.7"/><circle cx="908.7" cy="599.7" r="2.7"/><circle cx="913.5" cy="622.1" r="2.7"/><circle cx="921.2" cy="603.5" r="2.7"/><circle cx="913.1" cy="619.5" r="2.7"/><circle cx="907.5" cy="618.0" r="2.7"/><circle cx="912.7" cy="583.1" r="2.7"/><circle cx="910.1" cy="580.5" r="2.7"/><circle cx="907.4" cy="585.9" r="2.7"/><circle cx="914.1" cy="621.2" r="2.7"/><circle cx="909.2" cy="584.9" r="2.7"/><circle cx="913.8" cy="609.0" r="2.7"/><circle cx="911.1" cy="603.1" r="2.7"/><circle cx="900.8" cy="588.7" r="2.7"/><circle cx="904.2" cy="624.7" r="2.7"/><circle cx="902.1" cy="589.8" r="2.7"/><circle cx="907.4" cy="624.9" r="2.7"/><circle cx="910.8" cy="588.2" r="2.7"/><circle cx="905.3" cy="619.3" r="2.7"/><circle cx="895.2" cy="619.5" r="2.7"/><circle cx="905.3" cy="613.2" r="2.7"/><circle cx="911.4" cy="617.0" r="2.7"/><circle cx="908.4" cy="611.6" r="2.7"/><circle cx="913.9" cy="582.8" r="2.7"/><circle cx="913.3" cy="588.3" r="2.7"/><circle cx="912.9" cy="610.7" r="2.7"/><circle cx="901.8" cy="595.3" r="2.7"/><circle cx="915.2" cy="588.7" r="2.7"/><circle cx="910.7" cy="598.7" r="2.7"/><circle cx="911.3" cy="617.2" r="2.7"/><circle cx="921.8" cy="612.9" r="2.7"/><circle cx="908.5" cy="592.8" r="2.7"/><circle cx="919.1" cy="603.8" r="2.7"/><circle cx="908.6" cy="617.7" r="2.7"/><circle cx="911.3" cy="616.2" r="2.7"/><circle cx="912.5" cy="589.0" r="2.7"/><circle cx="909.4" cy="613.2" r="2.7"/><circle cx="914.9" cy="621.9" r="2.7"/><circle cx="904.2" cy="598.0" r="2.7"/><circle cx="913.0" cy="592.2" r="2.7"/><circle cx="918.7" cy="595.9" r="2.7"/><circle cx="928.2" cy="581.0" r="2.7"/><circle cx="924.5" cy="590.2" r="2.7"/><circle cx="887.2" cy="587.4" r="2.7"/><circle cx="932.8" cy="592.0" r="2.7"/><circle cx="932.0" cy="591.7" r="2.7"/><circle cx="939.7" cy="571.3" r="2.7"/><circle cx="909.0" cy="576.7" r="2.7"/><circle cx="926.9" cy="580.0" r="2.7"/><circle cx="921.9" cy="592.3" r="2.7"/><circle cx="886.9" cy="590.9" r="2.7"/><circle cx="903.8" cy="578.6" r="2.7"/><circle cx="920.9" cy="591.5" r="2.7"/><circle cx="897.5" cy="594.2" r="2.7"/><circle cx="890.1" cy="571.9" r="2.7"/><circle cx="933.9" cy="601.6" r="2.7"/><circle cx="937.1" cy="603.8" r="2.7"/><circle cx="926.0" cy="589.3" r="2.7"/><circle cx="914.6" cy="588.2" r="2.7"/><circle cx="936.9" cy="602.9" r="2.7"/><circle cx="909.5" cy="576.9" r="2.7"/><circle cx="915.0" cy="584.4" r="2.7"/><circle cx="929.7" cy="601.4" r="2.7"/><circle cx="919.5" cy="572.8" r="2.7"/><circle cx="914.9" cy="574.4" r="2.7"/><circle cx="915.0" cy="597.8" r="2.7"/><circle cx="922.3" cy="585.9" r="2.7"/><circle cx="894.5" cy="601.7" r="2.7"/><circle cx="933.1" cy="586.6" r="2.7"/><circle cx="888.8" cy="593.0" r="2.7"/><circle cx="907.7" cy="583.5" r="2.7"/><circle cx="906.4" cy="579.3" r="2.7"/><circle cx="893.6" cy="592.1" r="2.7"/><circle cx="914.0" cy="584.7" r="2.7"/><circle cx="926.5" cy="587.1" r="2.7"/><circle cx="926.0" cy="559.5" r="2.7"/><circle cx="923.0" cy="565.0" r="2.7"/><circle cx="921.0" cy="571.0" r="2.7"/><circle cx="937.0" cy="572.0" r="2.7"/><circle cx="906.5" cy="571.5" r="2.7"/><circle cx="895.5" cy="575.5" r="2.7"/><circle cx="888.5" cy="578.0" r="2.7"/><circle cx="886.0" cy="597.0" r="2.7"/><circle cx="891.5" cy="663.4" r="2.7"/><circle cx="891.6" cy="663.6" r="2.7"/><circle cx="893.7" cy="660.9" r="2.7"/><circle cx="896.4" cy="661.8" r="2.7"/><circle cx="896.2" cy="657.8" r="2.7"/><circle cx="895.0" cy="656.3" r="2.7"/><circle cx="899.3" cy="655.5" r="2.7"/><circle cx="902.1" cy="654.5" r="2.7"/><circle cx="897.6" cy="652.2" r="2.7"/><circle cx="899.8" cy="654.1" r="2.7"/><circle cx="903.5" cy="648.8" r="2.7"/><circle cx="903.3" cy="649.1" r="2.7"/><circle cx="906.6" cy="649.2" r="2.7"/><circle cx="904.5" cy="648.3" r="2.7"/><circle cx="908.5" cy="648.6" r="2.7"/><circle cx="909.8" cy="645.1" r="2.7"/><circle cx="912.1" cy="645.4" r="2.7"/><circle cx="911.1" cy="644.3" r="2.7"/><circle cx="914.7" cy="644.9" r="2.7"/><circle cx="915.2" cy="642.1" r="2.7"/><circle cx="919.2" cy="640.4" r="2.7"/><circle cx="895.5" cy="642.5" r="2.7"/><circle cx="897.0" cy="643.5" r="2.7"/><circle cx="903.0" cy="635.0" r="2.7"/><circle cx="900.0" cy="650.0" r="2.7"/><circle cx="911.0" cy="661.5" r="2.7"/><circle cx="915.0" cy="665.0" r="2.7"/></g>
<line x1="297.5" y1="737.6" x2="750" y2="737.6" stroke="#27a3dd" stroke-width="4.2"/>
<rect x="147.0" y="559.7" width="837.7" height="320.69999999999993" fill="none" stroke="#1c1c1c" stroke-width="1.35"/>
<g stroke="#1c1c1c" stroke-width="1.3">
<line x1="147.0" y1="880.4" x2="147.0" y2="871.9"/><line x1="147.0" y1="559.7" x2="147.0" y2="568.2"/>
<line x1="314.5" y1="880.4" x2="314.5" y2="871.9"/><line x1="314.5" y1="559.7" x2="314.5" y2="568.2"/>
<line x1="482.1" y1="880.4" x2="482.1" y2="871.9"/><line x1="482.1" y1="559.7" x2="482.1" y2="568.2"/>
<line x1="649.6" y1="880.4" x2="649.6" y2="871.9"/><line x1="649.6" y1="559.7" x2="649.6" y2="568.2"/>
<line x1="817.2" y1="880.4" x2="817.2" y2="871.9"/><line x1="817.2" y1="559.7" x2="817.2" y2="568.2"/>
<line x1="984.7" y1="880.4" x2="984.7" y2="871.9"/><line x1="984.7" y1="559.7" x2="984.7" y2="568.2"/>
<line x1="147.0" y1="606.0" x2="155.5" y2="606.0"/><line x1="984.7" y1="606.0" x2="976.2" y2="606.0"/>
<line x1="147.0" y1="697.0" x2="155.5" y2="697.0"/><line x1="984.7" y1="697.0" x2="976.2" y2="697.0"/>
<line x1="147.0" y1="788.4" x2="155.5" y2="788.4"/><line x1="984.7" y1="788.4" x2="976.2" y2="788.4"/>
</g>
<g font-size="26.2" text-anchor="end">
<text x="140.5" y="615.4">263</text>
<text x="140.5" y="706.4">261</text>
<text x="140.5" y="797.8">259</text>
</g>
<g font-size="25.4" text-anchor="middle">
<text x="142.4" y="910.1">-20</text>
<text x="314.2" y="910.1">-10</text>
<text x="481.6" y="910.1">0</text>
<text x="650" y="910.1">10</text>
<text x="817.6" y="910.1">20</text>
<text x="985.2" y="910.1">30</text>
</g>
<text x="437.6" y="940.6" font-size="26" textLength="255.6" lengthAdjust="spacingAndGlyphs">distance from axis [m]</text>
<text transform="translate(81,795) rotate(-90)" font-size="26" textLength="149.3" lengthAdjust="spacingAndGlyphs">elevation [m]</text>
<text x="469.6" y="614.5" font-size="25.2" textLength="204.2" lengthAdjust="spacingAndGlyphs">axis profil 401.5m</text>
<text x="18.2" y="555.9" font-size="24" textLength="26.6" lengthAdjust="spacingAndGlyphs">(c)</text>
<circle cx="655.8" cy="799.6" r="2.8" fill="#c98235"/><circle cx="655.8" cy="840.8" r="2.8" fill="#a2d829"/>
<text x="682.1" y="807.5" font-size="24" textLength="200.2" lengthAdjust="spacingAndGlyphs">original ALS points</text>
<text x="682.1" y="850" font-size="24" textLength="276" lengthAdjust="spacingAndGlyphs">refr. corrected ALS Points</text>
<rect x="170.3" y="766.5" width="124.4" height="59.5" fill="#ffffff" stroke="#1a1a1a" stroke-width="1"/>
<text x="181.3" y="790.2" font-size="21.6" textLength="94" lengthAdjust="spacingAndGlyphs">estimated</text>
<text x="181.5" y="815.2" font-size="21.6" textLength="104.7" lengthAdjust="spacingAndGlyphs">water level</text>
<line x1="223.8" y1="766.5" x2="277" y2="744.6" stroke="#000" stroke-width="1.2"/>
<polygon points="288,739.8 265,740.3 277,745.2 271.3,756" fill="#000"/>
</g>
</svg>
</body>
</html>
